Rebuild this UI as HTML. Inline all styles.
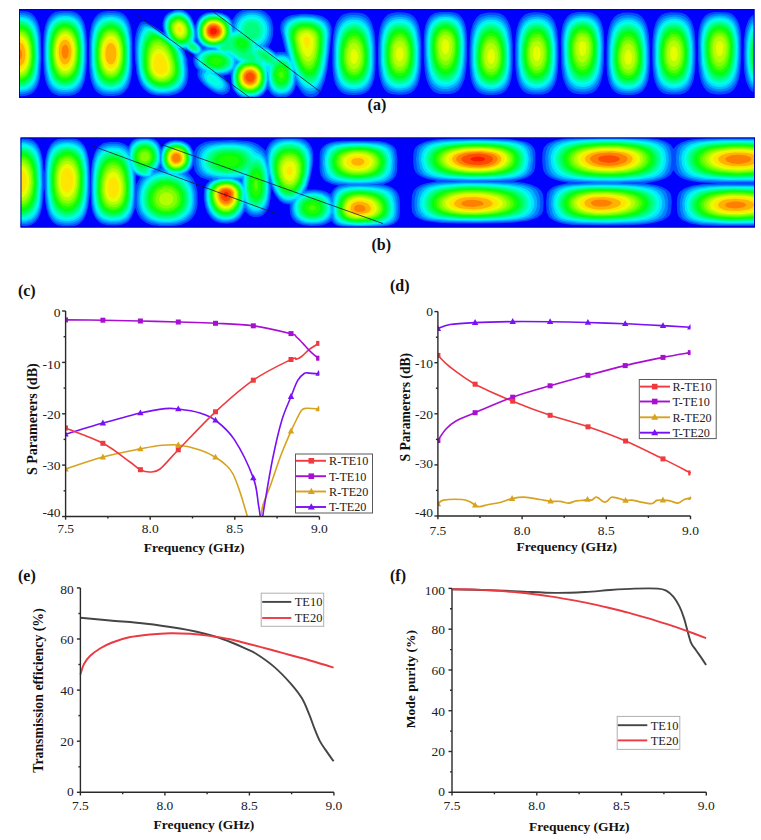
<!DOCTYPE html>
<html><head><meta charset="utf-8"><title>figure</title>
<style>html,body{margin:0;padding:0;background:#fff;width:761px;height:840px;overflow:hidden}svg{display:block}text{font-family:"Liberation Serif",serif}</style>
</head><body>
<svg width="761" height="840" viewBox="0 0 761 840"><defs><filter id="bl" x="-2%" y="-10%" width="104%" height="120%"><feGaussianBlur stdDeviation="0.7"/></filter></defs>
<clipPath id="ca"><rect x="19" y="9" width="735.5" height="89"/></clipPath><g clip-path="url(#ca)"><g filter="url(#bl)"><rect x="17" y="7" width="739.5" height="93" fill="#0000ff"/><path fill="rgb(0,77,255)" d="M175,9.9 181,9.5 184,10.4 187,12.2 189.8,15 191.8,18 195,25.7 197.5,20 199.5,17 203,14.1 207,12.5 215,11.9 222,12.9 228,15.8 232,20.2 236.4,14 239,11.9 243,10 247.5,9 256.5,9 262,10.4 265.1,12 268,14.4 270.1,17 272,21 273.2,28 272.9,36 271.1,42 268.3,47 275,52.3 276,52.4 280,51.8 285,52.1 285.4,51 280.9,33 280.2,28 280.5,25 281.4,22 285,17.9 288,16.2 292,14.9 303,13.8 315,14.4 320,15.5 324,17.1 327.8,20 330,23 331.4,27 331.7,32 327.5,69 325,80.3 321,90.5 318,94.5 315,96.4 312,97.1 308,96.8 305,95.4 302.2,93 297,85.4 296,84.7 294.8,89 292.4,93 290,95.2 286,96.9 280,97.4 275,96.5 271.1,94 268,89.4 267,89.4 263,94.7 258,97.5 256.3,98 243.7,98 240,96.7 237.4,95 233.3,90 231.6,86 230.6,75 230,74.3 222.7,76 226.6,80 229.3,84 230.3,88 229.3,91 227.5,93 225,94.3 222,94.7 218,93.9 214,92.2 209,89.1 203.9,85 200.3,81 198.4,78 197.4,75 197.7,70 195.1,67 193.5,63 193.3,59 194.2,55 187,50.2 184.5,51 187.1,59 188.3,70 188.3,77 186.8,84 183.8,89 181,91.6 178,93.4 174,94.8 169,95.7 157,95.6 152,94.5 148.5,93 144,89.6 140.5,85 138.3,80 136.5,73 135.1,60 134.6,47 135.1,38 137,29 140,23 142,21.8 145,21.6 152,25 163,32.5 163.7,32 162.6,27 162.5,23 164.3,17 166,14.8 169,12.3ZM196.7,41 197,42.2 197.4,42 197,40.9ZM20,10.9 27,11.6 31,13.1 34.4,16 37.4,21 39.4,27 40.8,35 41.4,59 40.2,77 38.5,84 36.1,89 33,92.7 30,94.6 25,95.9 19,96.2 19,10.9ZM60,10.9 71,11 75,12 78,13.7 81,16.7 83.4,21 85.1,26 86.2,32 87,44 86.9,62 86.2,73 84.7,81 82.5,87 79,91.9 75,94.6 70,95.8 59,95.7 55,94.6 52,92.7 49,89.2 46.8,85 45.2,80 43.9,72 43.2,59 43.3,42 43.8,33 45.4,25 47.7,19 51,14.7 55,12.1ZM108,10.9 114,11 119,11.7 123,13.5 125.8,16 128.4,20 130.3,25 131.6,31 132.3,38 132.5,66 131.8,75 130.3,82 127.9,88 124,92.8 120,95 114,96.1 108,96.1 103,95.4 99,93.8 96,91.3 93.7,88 91.6,83 90.3,78 89.3,70 88.9,56 89.2,40 89.9,32 91.6,24 94.4,18 98,13.9 102,11.9ZM440,11.9 452,12 456,13 459,14.6 462,17.7 463.9,21 465.4,25 466.5,31 467.1,42 466.9,60 466,71 464.5,79 462.3,85 459,89.9 455,92.7 450,94 440,93.9 436,92.8 433,91 430,87.6 427.7,83 425.8,77 424.8,71 423.8,58 423.7,42 424.3,31 425.4,25 427.9,19 431,15.3 435,12.9ZM578,11.9 589,12.2 593,13.2 596.1,15 599,18 601.2,22 602.5,26 603.7,33 604.2,45 603.9,63 603.1,72 601.5,80 599.1,86 596,90.3 592,93 586,94.3 580,94.3 575,93.6 572,92.5 568.7,90 566,86.2 563.8,81 562.5,76 561.4,68 560.8,41 561.4,32 562.7,25 564.8,20 568,15.7 572,13.2ZM715,11.9 726,12.2 730,13.1 733,14.8 736,17.9 738.3,22 739.6,26 740.7,32 741.3,43 741.1,60 740.2,72 738.9,79 736.2,86 733,90.4 729,93 724,94.2 718,94.4 713,93.8 710,92.9 706.9,91 704,87.7 701.6,83 699.8,77 698.8,71 698,59 697.9,43 698.4,33 699.6,26 701.9,20 705,15.8 709,13.2ZM348,12.9 353,12.4 359,12.7 363,13.6 366,15.1 369,18 371.4,22 374.4,32 375.4,43 375.7,58 375.4,70 374.2,79 372.3,85 369,90.3 365,93.3 360,94.7 354,95.1 348,94.7 344,93.7 341,92.1 338,89.1 335.7,85 334.3,81 333.1,75 332.3,64 332.4,47 333.1,36 334.5,28 336.6,22 339.9,17 343,14.5ZM392,13 397,12.3 404,12.4 409,13.4 412,14.9 415,17.8 417,21 418.7,25 420.1,31 421.2,42 421.4,58 420.8,71 419.6,79 417.6,85 414.5,90 411,92.8 406,94.4 400,94.8 394,94.5 390,93.5 387,91.9 384,88.9 381.8,85 379,75 378.1,64 378,49 378.5,37 379.6,29 381.5,23 384.3,18 388,14.5ZM485,12.9 490,12.4 496,12.7 500,13.6 503,15 506,17.9 508.5,22 510.4,27 511.6,33 512.6,44 512.8,59 512.4,71 511.3,79 509.4,85 506,90.4 502,93.4 497,94.7 491,95.1 485,94.7 481,93.7 478,92 475,89 472.8,85 471.4,81 470.2,75 469.4,64 469.5,48 470.2,36 471.3,29 473.2,23 476.1,18 480,14.5ZM529,13 534,12.3 541,12.4 546,13.4 549,14.8 552,17.6 554.2,21 556.1,26 557.3,31 558.3,42 558.5,58 557.9,71 556.7,79 554.7,85 551.5,90 548,92.8 543,94.4 532,94.6 528,93.8 525,92.5 522.1,90 519.9,87 517.8,82 516.5,77 515.4,67 515.1,53 515.4,39 516.5,30 518.5,23 521,18.4 525,14.5ZM623,12.8 629,12.5 634,12.9 638,14 641,15.9 643.8,19 646,23.2 647.6,28 648.9,35 649.7,46 649.9,62 649.5,72 648.3,80 646.2,86 643,90.7 639,93.5 634,94.8 628,95.1 622,94.7 618,93.8 615,92.1 612,89.1 609.7,85 608.3,81 607.2,75 606.5,64 606.6,47 607.2,37 608.8,28 610.9,22 614,17.2 618,14.2ZM666,13 671,12.3 678,12.4 683,13.3 686,14.7 689,17.5 691.3,21 693.2,26 694.4,31 695.4,42 695.6,58 695,71 693.8,79 691.8,85 688.6,90 685,92.9 680,94.4 669,94.6 665,93.8 662,92.4 659.2,90 657,86.9 654.9,82 653.6,77 652.5,67 652.2,53 652.5,39 653.6,30 655.6,23 658,18.5 662,14.6ZM753,14.9 754,14.3 754,92.8 751,90.5 749,88 745.9,81 744.2,72 743.6,58 743.9,40 745.5,28 748.5,20 750.7,17Z"/>
<path fill="rgb(0,128,255)" d="M175,11 179,10.5 183,11.2 187,13.6 190,16.9 192.3,21 195.8,30 195.9,36 195,41 200.2,46 202,49 203,49.5 206.6,48 202,45.7 198.6,42 196.3,37 196,32 196.4,26 197.5,22 199.9,18 203,15.2 207,13.4 211,12.7 217,12.8 222,13.9 226,15.7 229,18 231.2,21 233,24.8 234.8,20 236.8,17 240,14 243,12.4 247,11.2 252,10.7 257,11.2 261,12.4 265,14.8 268,18 270,22 271,26 271.2,32 270.5,37 268.6,42 265.6,46 276,54.1 281,53.4 287.1,54 282,30 282.8,24 286,19.7 292,16.7 302,15.2 313,15.6 318,16.7 322,18.2 326,20.9 328.3,24 329.8,28 330.2,33 328.2,55 326.6,67 324.1,78 321,86.3 318,90.8 315,93.2 312,94 308,93.7 305,92.3 302,89.6 299,85.5 296,80 294,87 292.6,90 290,93.1 286,95.2 279,95.7 274,94.1 270.7,91 268,85.2 264.1,92 260,95.5 254,97.5 246,97.5 242,96.4 239,94.8 236.8,93 234.5,90 232.2,84 231.6,79 231.6,73 231,72.3 227,73.8 219.9,75 226.4,82 227.8,85 228,88 227,90.1 224.6,92 222,92.6 218,92.2 214,90.6 210,88.2 205.9,85 202.2,81 199.7,76 199.5,74 200.1,70 197,66.9 195.2,63 195,59 196,55 186,49.1 182.6,50 185.5,58 186.8,69 186.8,76 185.2,83 182.2,88 177,91.9 169,94.1 158,94.2 154,93.5 150,91.9 145.7,89 142.3,85 139.8,80 137.8,73 136.4,61 136,49 136.5,40 138.1,32 139.6,28 141.4,25 144,24 146,23.9 152,26.1 165,34.4 163.4,25 164.6,19 166.4,16 168.5,14ZM20,13 25,13.4 30,15.1 33.7,18 36.3,22 38,26.7 39.5,35 40.2,45 40.4,58 39.2,75 38,81.1 36,86.2 33,90.1 30,92.2 25,93.8 19,94.2 19,13ZM60,13 66,12.6 71,13.1 75,14.3 78,16.1 81,19.5 83,23.6 85.3,35 86,46 85.9,61 85,72 83.6,80 81,86.5 78,90.1 74,92.5 69,93.7 64,93.9 59,93.4 55,92 52,90 50,87.7 48,84 46.1,78 45,71 44.3,60 44.3,45 44.9,35 46.2,27 48,21.7 51,17.2 55,14.4ZM109,13 115,13.2 119,14.1 123,16.1 125.9,19 128.1,23 129.7,28 131.5,43 131.3,67 130.5,75 128.9,82 126,88 123,91 119,93 113,94 107,93.9 103,93.1 99,91.2 96,88.5 93.9,85 92.1,80 90.9,73 90.2,65 90.3,40 91.3,31 93.1,24 95,20 99,15.8 104,13.7ZM440,13.9 446,13.5 451,13.9 455,15 458.7,17 461,19.4 463,23 464.5,28 465.4,34 465.9,44 465.6,60 464.6,70 463,78 461,83.1 458,87.2 454,89.9 448,91.4 443,91.4 439,90.7 435,88.9 432,86.4 429.8,83 428,78.6 425.7,66 424.9,41 425.5,33 426.8,26 428.7,21 431,18 435,15.3ZM579,13.9 584,13.8 589,14.4 593,15.7 596.4,18 598.8,21 600.6,25 601.8,30 602.7,37 603,48 602.6,62 601.6,72 600,79 597.9,84 594.7,88 590,90.7 585,91.7 580,91.7 575,90.7 571,88.5 568.4,86 566.6,83 564.7,78 562.5,64 562.1,40 562.9,32 564.4,25 566.9,20 569.8,17 574,14.9ZM716,13.9 721,13.8 726,14.3 730,15.6 733.5,18 735.9,21 737.7,25 738.9,30 739.8,37 740.1,48 739.7,62 738.7,72 737,79.3 735,84 731.8,88 727,90.7 722,91.7 717,91.7 712,90.6 708,88.5 705.5,86 703.7,83 701.8,78 699.6,64 699.2,40 700.1,31 701.5,25 704,19.9 706.9,17 711,14.9ZM352,15 358,15.2 362,16.2 366,18.4 368.5,21 370.7,25 372.3,30 373.5,37 374.3,46 374.1,69 373,77 371.3,83 369,87.2 366,90 362,91.9 356,92.9 350,92.7 346,91.9 342,90 339,87.2 337,83.8 335.4,79 333.7,66 334,42 335.1,33 336.9,26 339,21.7 342.5,18 347,15.8ZM395,14.9 401,14.6 406,15.2 410,16.7 413,18.9 415.4,22 417.2,26 419.6,38 420.2,49 420,63 419.1,73 417.7,80 415.6,85 412.2,89 408,91.3 403,92.4 398,92.5 393,91.8 389,90.2 386.1,88 384,85.3 382,81 379.9,70 379.2,59 379.3,46 380.1,36 381.6,28 383.4,23 386.3,19 390,16.4ZM489,15 495,15.2 499,16.1 503,18.3 505.6,21 507.8,25 509.4,30 510.6,37 511.4,46 511.2,69 510.1,77 508.4,83 506,87.3 503,90.1 499,91.9 493,92.9 487,92.7 483,91.9 479,89.9 476,87 474,83.6 472.5,79 470.8,66 470.6,53 471.2,41 472.3,32 474,25.9 476.6,21 479.6,18 484,15.9ZM532,14.9 538,14.5 543,15.1 547,16.6 550,18.7 552.6,22 554.4,26 556.6,37 557.3,48 557.2,62 556.4,72 554.7,80 552.6,85 549.2,89 545,91.3 540,92.4 535,92.5 530,91.7 526,90.1 523.3,88 521,85 519.2,81 516.9,69 516.3,58 516.4,45 517.3,35 518.6,28 520.5,23 523.3,19 527,16.4ZM669,14.9 675,14.5 680,15.1 684,16.5 687,18.6 689.7,22 691.5,26 693.7,37 694.4,48 694.3,62 693.5,72 691.8,80 689.7,85 686.3,89 682,91.3 677,92.4 672,92.5 667,91.7 663,90.1 660.4,88 658.1,85 656.3,81 654.1,70 653.4,59 653.5,46 654.2,36 655.7,28 657.6,23 660.4,19 664,16.4ZM622,15.7 627,15.1 632,15.3 636,16.2 640,18.4 642.5,21 644.8,25 646.4,30 647.5,36 648.5,47 648.7,62 648.1,72 646.7,80 644.8,85 642,88.8 638,91.4 633,92.8 627,93 622,92.5 618,91.2 615,89.3 612.9,87 611,83.7 608.6,74 607.8,64 607.8,51 608.4,40 609.7,31 611.6,25 614,20.8 617,18ZM754,17.3 754,89.9 750,86 747,78.9 745.3,68 744.8,54 745.3,39 746.9,29 749.6,22 751.9,19Z"/>
<path fill="rgb(0,179,255)" d="M175,12 179,11.5 183,12.3 187,14.8 189.7,18 192.3,23 194.5,30 194.9,36 194,41 199.4,46 202,51.2 208,49.4 215.1,49 207,47.3 203,45.4 199.6,42 197.6,38 196.7,32 197.4,25 199.5,20 203.4,16 208,14 213,13.4 219,13.9 224,15.6 227.6,18 230.1,21 231.9,25 233,30.5 234.5,30 235.2,25 237,20.4 239,17.7 242,15.2 246,13.5 250,12.7 255,12.8 259.5,14 263.1,16 266.1,19 268.2,23 269.3,28 269.2,33 268.1,38 266,42 262.5,46 269,49.7 276,55.3 283,54.9 288,56.5 288.8,56 288.7,55 283.5,31 284.1,26 286.3,22 288.6,20 292,18.3 301,16.6 312,16.9 317,17.9 321,19.5 324.6,22 326.9,25 328.4,29 328.8,34 327.3,53 325.7,65 323.2,76 320.2,84 317,88.6 314,90.7 311,91.3 307,90.6 304,88.7 301,85.4 295,75.1 293.7,84 290.9,90 288.9,92 286,93.6 280,94.3 275.2,93 272,90.4 269.5,86 268,79.5 265.6,88 263.7,91 261,93.7 258,95.4 254,96.6 246,96.6 242,95.4 239,93.7 236.3,91 234.4,88 233,84 232.4,80 233,69.1 230,71.3 227,72.6 217,74 224,81 225.6,84 226,86 225,88.8 223,90.3 220,90.8 217,90.2 213,88.5 209,85.9 205,82.1 202.8,79 201.7,75 202.9,71 198.2,66 196.5,62 196.6,58 197.8,55 197,54.2 192,52.4 186,48 180.6,49 184,57 185.6,71 184.6,80 181.6,86 179,88.7 176,90.6 169,92.7 159,93 155,92.3 151,90.8 146.8,88 143.3,84 140.7,79 139,73 137.7,63 137.2,51 137.7,42 139.3,34 142.5,27 144,26 147,25.8 150,26.5 154,28.2 166.4,36 164.4,27 164.5,23 165.2,20 166.9,17 168.8,15 172,13ZM235.7,61 235.6,64 236,64.3 238.1,62 237,61.1ZM20,14.9 25,15.4 29.1,17 32.8,20 35.4,24 37.4,30 38.6,37 39.4,57 38.2,74 36.8,80 34.7,85 32,88.4 29,90.4 24,92.1 19,92.4 19,14.9ZM60,14.8 65,14.4 70,14.8 74,16 78,18.7 80.5,22 82.3,26 84.4,37 85,48 84.9,61 84,71 82.4,79 80,84.6 77,88.3 73,90.7 68,91.9 63,92 59,91.3 55,89.6 52,87.1 49.8,84 48.1,80 45.8,68 45.2,58 45.2,45 45.9,36 47.3,28 49.1,23 52,18.9 56,16.1ZM108,14.9 113,14.9 118,15.9 121,17.3 124.2,20 126.7,24 128.5,29 130.4,43 130.3,66 129.4,74 127.6,81 125.1,86 122,89.2 118,91.2 113,92.2 108,92.1 104,91.3 100,89.4 97,86.7 94.8,83 93.1,78 91.2,65 91.2,42 92.3,33 93.7,27 96,21.9 99,18.4 103,16.1ZM439,15.9 444,15.2 449,15.4 453,16.3 457,18.3 459.8,21 461.6,24 463,28 464.2,34 464.8,43 464.5,57 463.6,67 462,75.1 460,80.4 457,84.7 453,87.5 448,88.9 443,88.9 439,88 436,86.5 433.2,84 431,80.8 429.4,77 427,66 426.2,56 426,44 426.4,36 427.5,29 429.2,24 431.8,20 435,17.5ZM578,15.9 583,15.6 588,16.1 592,17.5 595,19.5 597.2,22 599.2,26 600.6,31 601.5,37 601.9,47 601.5,60 600.6,69 599,76.3 597,81.3 594,85.3 590,88 585,89.3 580,89.3 576,88.4 573,86.9 570,84.2 567.9,81 566,76.3 563.8,64 563.2,42 563.9,34 565.2,28 567.2,23 570,19.5 574,17ZM715,15.9 720,15.6 725,16.1 729,17.4 732,19.4 734.3,22 736.3,26 737.7,31 738.6,37 739,47 738.6,60 737.7,69 736,76.7 734,81.5 731,85.4 727,88 722,89.3 717,89.3 713,88.3 710,86.8 707,84.1 705,81 703,76 700.9,64 700.3,42 701,34 702.3,28 704.3,23 707,19.6 711,17.1ZM396,16.9 401,16.7 406,17.5 410,19.4 412.8,22 415,25.4 416.7,30 418.7,42 419.1,53 418.8,64 417.8,73 416.2,79 414,83.7 411,87.1 407,89.3 402,90.4 397,90.4 393,89.5 389,87.5 386.3,85 384,81.1 382.5,77 380.7,65 380.6,44 381.4,36 383,29 385,24.2 388,20.5 392,18ZM533,16.9 538,16.6 543,17.4 547,19.3 550,21.9 552,25 553.9,30 555.8,42 556.2,53 555.9,64 554.8,73 553.3,79 551,83.8 548,87.1 544,89.3 539,90.3 534,90.3 530,89.4 526,87.4 523.5,85 521.6,82 519.7,77 517.8,65 517.7,44 518.5,36 520,29 522.2,24 525,20.5 529,18ZM670,16.9 675,16.6 680,17.4 684,19.2 687,21.8 689.1,25 691,30 692.9,42 693.3,53 693,64 692.1,72 690.4,79 688,83.9 685,87.2 681,89.3 676,90.4 671,90.3 667,89.4 663,87.3 660.6,85 658.7,82 656.8,77 654.9,65 654.8,44 655.6,36 657.1,29 659.3,24 662,20.6 666,18ZM348,18 353,17.2 358,17.5 362,18.8 365,20.6 367.2,23 369.5,27 371.2,32 372.3,38 373.2,48 373.4,61 372.6,71 371.3,78 369.3,83 366.3,87 363,89.2 358,90.7 353,91 349,90.5 345,89.2 342,87.3 339.9,85 338,81.6 335.5,72 334.7,63 334.7,51 335.3,41 336.6,33 338.5,27 340.8,23 344,19.9ZM486,17.7 491,17.2 496,17.7 500,19.2 503,21.5 505.7,25 507.4,29 509.8,41 510.4,51 510.4,63 509.6,72 508.1,79 506,83.8 503,87.4 499,89.7 494,90.9 489,90.9 485,90.3 481.7,89 478.8,87 476.3,84 474.8,81 473.3,76 472.3,70 471.7,61 471.8,49 472.6,39 474,31.7 476,26 478.7,22 482,19.3ZM623,18 628,17.4 633,17.9 637,19.4 640,21.6 642.6,25 644.4,29 646.8,41 647.5,51 647.5,63 646.8,72 645.3,79 643.2,84 640,87.7 636,89.9 631,91.1 626,91.1 622,90.5 618.3,89 615.6,87 613.2,84 611.8,81 610.3,76 609.4,70 608.8,61 609,49 609.7,40 611.1,32 612.8,27 615.2,23 619,19.6ZM754,20.2 754,87.1 750.5,83 747.9,76 746.3,66 745.9,54 746.3,42 747.8,32 750.2,25Z"/>
<path fill="rgb(0,230,255)" d="M175,12.9 179,12.4 183,13.3 186,15.1 189.5,19 192.3,25 193.8,31 194,36 193,41 199.3,47 200.2,49 200.2,51 199,52.7 196,53.2 191,51.1 186,47 178.3,48 182.3,55 184,66 184.1,75 183.4,79 182,82.5 178,87.4 172,90.6 164,91.9 156,91.2 151,89.3 146.6,86 143.5,82 140.9,76 139.4,69 138.4,56 138.6,46 139.9,38 141.5,33 143.6,29 145,27.6 147,27.3 151,28.1 155,29.8 168,38.3 168.4,38 165.3,28 165.5,22 166.7,19 169,16.1 172,14.1ZM208,14.8 212,14.2 218,14.5 222,15.6 226,17.7 228.4,20 230.3,23 231.6,27 232,31 233,32.2 236.2,31 237.3,25 238.5,22 240.7,19 244,16.5 248,15 252,14.6 256,15 260,16.5 263,18.7 265.5,22 267,26 267.4,31 266.6,36 265,39.6 263,42.3 259.4,45 258.8,46 268,50.1 276,56.6 282,56.3 285,56.8 288,58.3 291,61.2 285,33 285.2,28 287,23.9 289,21.8 292,20 296,18.6 301,17.8 307,17.7 313,18.3 317,19.4 321,21.2 324,23.7 326.1,27 327.3,31 327.6,35 326.2,53 324.5,65 322,75.4 318.7,83 316,86.5 313,88.3 309,88.6 306,87.5 303,85.1 300,81.2 294,69 293.3,81 292.2,85 290.7,88 288,90.9 285,92.4 282,92.9 278,92.5 274,90.4 271,86.3 269.3,81 268,71.3 267,72 266.9,80 265.9,85 264.1,89 262,91.6 258,94.4 254,95.7 249,96 244,95.2 240,93.3 237.4,91 235.4,88 233.8,84 233,77 233.7,71 236,66 239.8,62 239.2,61 234,57.8 233.6,65 232,67.9 230,69.7 224,72.2 213,73 218.6,77 222,80.6 223.7,84 223.2,87 221,88.5 219,88.7 216,88.2 212,86.3 207,82.1 204.4,78 204,76 204.3,74 206.6,71 202,68.1 200,66.2 198.7,64 197.9,61 198.1,58 198.9,56 200.4,54 203,52.1 209,50.2 217,50 216,47.7 209,47.1 203.8,45 200.5,42 198.1,37 197.5,29 199,22.5 201,19.2 203,17.2ZM20,16.7 25,17.4 29,19.2 32.2,22 34.6,26 36.3,31 37.6,38 38.5,57 37.2,73 35.7,79 34,83 31,86.8 28,88.9 24,90.3 19,90.7 19,16.7ZM59,16.8 64,16.1 69,16.3 73,17.5 76,19.3 78.6,22 80.8,26 82.4,31 83.4,37 84.1,47 84,59 83.2,69 81.6,77 79.6,82 76.7,86 73,88.6 68,90.1 63,90.1 59,89.3 56,88 53,85.5 51,82.8 49.3,79 46.9,68 46.1,58 46.1,47 46.7,38 47.8,31 49.4,26 52,21.5 55,18.7ZM107,16.9 112,16.6 116,17.2 120,18.9 123,21.3 125.5,25 127.1,29 128.5,35 129.4,42 129.5,63 128.6,72 127,78.5 125,83.1 122,86.8 118,89.2 113,90.4 108,90.3 104,89.4 101,87.8 98,85.1 96,82 94.1,77 92.2,65 92.1,44 92.9,36 94.5,29 96.7,24 99,20.9 103,18.1ZM443,17 448,17 452,17.8 456,19.8 458.4,22 460.3,25 462,29.4 463.7,41 463.7,52 463,62 461.7,70 460,75.9 457.3,81 454.2,84 450.2,86 446,86.7 442,86.4 438,84.9 435,82.7 432.2,79 430.5,75 428.9,69 427.2,54 427.4,37 428.4,31 430,26 432,22.5 435,19.7 439,17.7ZM577,18 582,17.3 587,17.7 591,19.1 593.9,21 596,23.4 598,27.1 600.3,37 600.8,46 600.6,58 599.6,67 598,74.2 596,79.1 593,83.2 589,85.9 585,87 581,87.1 577,86.2 574,84.8 571,82.1 568.9,79 567.3,75 565,64 564.2,45 564.7,37 565.8,31 567.5,26 570,22.1 573,19.6ZM714,18 719,17.3 724,17.7 728,19 731,21 733,23.3 735,27 737.4,37 737.9,46 737.7,58 736.7,67 735.2,74 733,79.3 730,83.3 726,85.9 722,87 718,87.1 714,86.2 711,84.7 708,82 706,78.9 704.4,75 702.1,64 701.3,45 701.8,37 702.9,31 704.6,26 707,22.3 710,19.7ZM397,18.9 402,18.8 406,19.7 409,21.3 412,24.1 414.3,28 416,32.9 417.8,46 417.6,65 416.6,72 414.9,78 412.9,82 410,85.2 406,87.5 401,88.5 397,88.4 393,87.3 390,85.7 387,82.7 384.9,79 383.2,74 381.5,61 381.8,43 382.7,36 384.3,30 386.1,26 389,22.4 392.8,20ZM533,19 538,18.6 542,19.3 545,20.5 548.2,23 551,26.9 552.6,31 554.7,43 555.2,53 554.8,63 553.9,71 552.3,77 550,81.9 547.2,85 544,87 539,88.3 535,88.4 531,87.6 527,85.5 524.4,83 522.5,80 520.9,76 518.8,64 518.7,45 519.6,37 521,31 523,26.2 525.4,23 529,20.3ZM670,19 675,18.6 679,19.3 682,20.5 685.3,23 688,26.7 689.7,31 691.8,43 692.3,53 691.9,63 691,71 689.4,77 687,82 684.3,85 681,87.1 676,88.3 672,88.4 668,87.5 664,85.4 661.5,83 659.6,80 658,75.9 655.9,64 655.8,45 656.7,37 658.1,31 660,26.4 662.5,23 666,20.4ZM350,19.8 355,19.4 359,20 362,21.3 365.4,24 368,27.9 369.6,32 371.9,45 372.2,64 371.3,72 369.7,78 367.3,83 364.4,86 360.9,88 356,89.1 352,89.1 348,88.3 344,86.3 341.5,84 339.5,81 337.9,77 336,66 336,47 336.8,39 338.4,32 340.5,27 343,23.6 346,21.3ZM487,19.8 492,19.4 496,20 500,21.8 502.5,24 505,27.7 506.7,32 509,45 509.3,64 508.4,72 506.8,78 505,82 502,85.6 498,88 493,89.1 489,89.1 485,88.3 481,86.3 478.6,84 476.6,81 475,77 473.1,66 473.1,47 473.9,39 475.5,32 477.6,27 480,23.7 483,21.3ZM625,19.8 630,19.6 634,20.5 637,22 640.2,25 642.1,28 644,33.1 646.2,47 646.3,66 645.4,73 643.8,79 641.7,83 639,86 635,88.3 630,89.3 626,89.3 622,88.5 618.8,87 616,84.7 613.5,81 612,77.1 610.1,66 610.2,47 611.1,39 612.7,32 614.9,27 617.1,24 621,21.1ZM754,23 754,84.3 750.9,80 748.6,73 747.3,64 746.9,54 747.4,43 748.7,34 751,27.3Z"/>
<path fill="rgb(0,255,229)" d="M175,13.8 179,13.3 183,14.3 186,16.2 189,19.7 191.5,25 193.1,31 193.1,36 192,41 192.4,42 197.6,46 198.9,48 199.3,50 198,52 195,52.2 190.5,50 187,46.3 186,45.9 181,46.7 176,45.4 175.5,46 180.8,54 182.1,61 183,73 182.5,77 181.1,81 177.4,86 172,89.1 164,90.6 156,89.9 151,87.8 147,84.6 144,80.4 141.7,75 140.3,68 139.5,56 139.8,47 141,39.6 144,31.9 146,29.2 148,28.8 152,29.6 157,31.9 171,41.4 171.2,41 168.5,36 166.6,31 166,24 167,20.5 169,17.4 172,15.1ZM211,14.9 216,14.9 220,15.7 223.3,17 226.3,19 228.1,21 230,24.4 231.5,33 232,33.8 238,32 238.6,31 239.2,26 240.4,23 242.8,20 246,17.9 250,16.8 254,16.8 258,17.9 261.2,20 263.6,23 264.8,26 265.3,30 264.9,34 263.9,37 262,40 259,42.6 255,44.6 254.6,47 255,47.6 260,47.8 266,50.1 270.7,53 276,58 284,58 287,59.4 289,61.2 290.8,64 291.9,67 292.8,75 292,82 290.9,85 289,88 286,90.4 282,91.5 277.9,91 274,88.5 271.7,85 270.2,80 269.8,74 270.3,67 269.6,66 267,64.9 266,65.5 265.3,68 266.3,76 265.9,82 264.2,87 262,90.4 258,93.5 253,95.1 246,94.9 241.1,93 238,90.4 235.8,87 234.1,82 233.7,77 234.2,72 235.7,68 238,64.8 241.5,62 241.5,61 229,52.8 225.8,53 231,57.2 232.4,60 232.5,63 230.9,67 227.1,70 221,71.6 214,71.5 208,70.1 202.6,67 200.3,64 199.4,61 200,57 202,54.3 205,52.4 209,51.3 220.1,51 217,46.8 209,46.4 204,44.3 200.7,41 198.5,36 198.2,28 199.1,24 200.6,21 202.2,19 205,16.8ZM62,17.9 67,17.7 71,18.5 75,20.6 77.4,23 79.3,26 81.2,31 83.1,44 83.3,54 82.8,64 81.6,72 80,77.7 77.8,82 75,85.2 71,87.5 66,88.5 62,88.2 58,87 55,85 52.4,82 50.3,78 48.8,73 47.1,60 47.2,42 48.1,35 49.6,29 51.4,25 54,21.7 58,19ZM20,18.4 25,19.2 28.5,21 31.7,24 34,28 35.6,33 36.9,40 37.6,57 36.3,72 35,77.2 33,81.7 30.5,85 27,87.4 23,88.7 19,89 19,18.4ZM106,18.9 110,18.3 115,18.8 119,20.4 122,22.8 124.3,26 126.1,30 128.4,42 128.9,52 128.7,62 127.8,70 126.1,77 124,81.7 121,85.3 117,87.7 113,88.7 109,88.7 105,87.8 102,86.4 99,83.7 97,80.7 95.5,77 93.3,66 92.8,47 93.5,39 94.9,32 96.7,27 99,23.4 102,20.7ZM302,19 312,19.4 319,21.8 322,23.9 323.8,26 325.4,29 326.1,32 326.3,37 325,54 322,71 319.9,77 317,82.3 314,85.2 311,86.1 307,85.5 304,83.4 301,79.9 297.6,74 294.6,67 291.7,58 286.4,35 286.5,29 287.6,26 289,24 294,20.7ZM441,18.9 445,18.5 449,18.8 453,20 456,22 458,24.2 460.1,28 461.6,33 462.5,39 462.7,48 462.2,58 461.2,66 459.4,73 457,77.9 454.4,81 451,83.2 447,84.3 443,84.2 440,83.3 437,81.5 434,78.2 432,74.5 430.5,70 428.6,58 428.2,41 430,30 431.6,26 434,22.7 437,20.5ZM577,19.8 581,19 586,19.3 590,20.6 593,22.6 595.1,25 597.2,29 599.4,39 599.8,47 599.5,58 598.5,66 596.8,73 594.5,78 592,81.2 588,83.8 584,84.8 580,84.7 577,83.8 574,82.1 571.1,79 567.9,72 565.8,61 565.2,44 566.8,32 568.7,27 570.7,24 573,21.8ZM714,19.8 718,19.1 723,19.3 727,20.5 730,22.5 732.2,25 734.3,29 736.5,39 736.9,47 736.6,58 735.6,66 733.9,73 732,77.4 729,81.3 725,83.9 721,84.8 717,84.7 714,83.8 711,82 708.2,79 705,72 702.9,61 702.3,44 703.9,32 705.8,27 707.8,24 711,21.2ZM397,20.9 401,20.7 405,21.5 408,23.1 411.1,26 413.5,30 415,34.4 416.8,47 416.6,64 415.5,71 414,76.2 412,80.2 409,83.5 405,85.7 401,86.5 397,86.4 394,85.6 391,84 388,81 386,77.6 384.4,73 382.6,61 382.8,44 383.8,37 385.1,32 387,27.9 390,24.1 393,22.1ZM533,21 538,20.6 542,21.4 545,22.9 548,25.6 550,28.6 551.8,33 553.8,45 554.1,54 553.7,63 552.8,70 551.1,76 549,80.2 546,83.5 542,85.7 538,86.4 534,86.3 531,85.4 528,83.8 525,80.8 523,77.2 521.5,73 519.8,62 519.8,45 520.7,38 522,32.5 523.9,28 526.1,25 529,22.6ZM671,20.8 675,20.6 679,21.4 682.3,23 685.4,26 687.8,30 689.1,34 691,47 690.7,64 689.7,71 688,76.5 686,80.3 683,83.6 679,85.7 675,86.4 671,86.2 667.1,85 664.1,83 662,80.6 660,77 658.4,72 656.7,60 657.1,43 658.2,36 659.6,31 661.6,27 664,24.2 667,22.1ZM350,22 354,21.5 358,22 362,23.8 364.5,26 367,29.7 368.7,34 370.9,46 371.1,64 370.2,71 368.6,77 366.6,81 363.9,84 360,86.3 356,87.3 352,87.3 348,86.3 345,84.7 342.1,82 340.3,79 338.8,75 337,65 337,48 337.9,40 339.3,34 341,29.7 343.5,26 346,23.8ZM487,22 491,21.5 495,21.9 499,23.7 501.6,26 504,29.5 505.8,34 508,46 508.2,64 507.3,71 505.7,77 503.7,81 501,84 497,86.4 493,87.3 486,86.6 483,85.3 480,82.9 477.9,80 476.2,76 474.1,65 474.1,48 475,40 476.4,34 478,29.9 480.6,26 484,23.2ZM626,21.9 630,21.8 634,22.9 637,24.7 640,28 642,32 643.8,38 645.4,52 645,68 643.9,74 642.1,79 640,82.5 637,85.2 633,87 629,87.6 625,87.4 621,86.1 618,84.1 616,81.9 614,78.4 612.5,74 611,62 611.5,45 614,33 616,28.7 619,25 622,23ZM754,25.8 754,81.5 751.3,77 749.5,71 748.3,63 748,54 748.4,44 749.6,36 751.5,30ZM208,74.4 210,74.1 212,74.6 217,77.6 220.6,82 221.1,84 220.7,85 219,86.1 216,86 210.5,83 208,80.2 206.9,78 206.8,76Z"/>
<path fill="rgb(0,255,178)" d="M175,14.8 179,14.2 183,15.3 186,17.3 188.9,21 191.1,26 192.4,32 192.3,36 191,42 195.6,45 197.4,47 198.2,49 197.3,51 195,51.3 192,50.2 189.4,48 187,44.9 181,45.7 177,44.6 173.4,42 170.3,38 167.1,30 166.7,26 167.1,23 168.2,20 169.7,18 172,16.1ZM209,16 214,15.5 219,16.1 223,17.7 226,19.8 228.5,23 229.7,26 231,35.6 232,35.7 236,34.1 240.6,33 241.2,28 242.1,25 244,22.3 247,20.1 250,19.2 254,19.2 257,20.1 259.7,22 261.4,24 262.6,27 263,30 262.7,33 261.6,36 260,38.4 258,40.1 253.9,42 253.1,43 253,49.6 254,50.7 255,50.8 258,49 263,50 270,53.7 276,59.7 283,59.3 286,60.4 288,62.1 289.9,65 291,67.9 291.8,75 290.8,82 288,87.1 285,89.3 282,90 278,89.5 275,87.5 272.6,84 271.1,79 270.8,73 271.6,66 266,62.7 262,61.2 261.4,62 261.6,64 264.8,71 265.6,77 264.6,84 262.1,89 258,92.6 252,94.4 245,93.8 239.8,91 237.2,88 235.4,84 234.5,79 234.6,74 235.6,70 237.2,67 239,64.9 244.3,61 231,52.1 224,51.3 221,50 219.9,49 218.7,46 211,46 206,44.6 202.4,42 199.8,38 199,35 198.6,31 199.9,24 203.2,19 206,17.1ZM60,20 64,19.3 68,19.5 72,20.7 75.3,23 77.7,26 79.6,30 81.9,41 82.5,50 82.2,60 81.3,68 79.6,75 77.3,80 74.9,83 71,85.6 67,86.6 63,86.6 60,85.9 57,84.4 54,81.6 50.6,75 48.4,64 47.8,47 48.5,39 49.6,33 51.4,28 53.9,24 57,21.4ZM20,20.1 24,20.7 28,22.7 31,25.7 32.9,29 34.7,34 35.9,40 36.8,56 35.6,70 34.1,76 32.3,80 30,83.2 27,85.5 23,87 19,87.4 19,20.1ZM106,20.7 110,20.1 114,20.3 118,21.8 121,24.1 123.2,27 125.1,31 126.5,36 127.6,43 127.8,61 126.9,69 125.5,75 123.3,80 121,83.1 117,85.8 113,86.9 109,87 106,86.4 103,85 100,82.4 97.7,79 96.1,75 94.1,65 93.7,48 94.4,40 95.6,34 97.3,29 99.8,25 103,22.1ZM298,20.8 303,20.1 308,20.2 316,21.9 319,23.4 322,26 323.9,29 324.8,32 325.2,37 324.4,50 321.7,67 320,72.9 317.7,78 315,81.6 312,83.3 309,83.5 306,82.4 303,79.8 300,75.6 294.7,64 290.2,48 287.6,35 288,29 289.5,26 291.3,24 294,22.2ZM440,21 444,20.1 448,20.3 452,21.4 455,23.3 457.4,26 459,29 461.3,38 461.7,45 461.4,55 460.4,63 458.8,70 456.6,75 454,78.5 451,80.7 447,82 444,82 441,81.3 438,79.5 435.5,77 432,70 429.8,59 429.1,44 430.5,33 432,28.5 434,25.2 437,22.4ZM580,20.9 584,20.8 588,21.6 591,23.2 593.8,26 595.6,29 597.1,33 598.7,44 598,61 596.8,68 595.2,73 593,77 590,80.2 587,81.9 583,82.6 579,82.2 576,80.9 573,78.3 571,75.4 568,67 566.4,54 566.6,40 567.4,35 568.9,30 571,26.2 573,24 576,22.1ZM717,20.9 721,20.8 725,21.6 728,23.2 730.9,26 732.7,29 734.2,33 735.8,44 735.1,61 734,67.5 732.3,73 730,77.2 727,80.3 724,81.9 720,82.6 716,82.2 713,80.8 710,78.2 708,75.2 705,66.6 703.5,54 703.7,40 706,30 708,26.4 710.1,24 713,22.1ZM397,22.9 401,22.7 405,23.7 408,25.5 410.4,28 412.2,31 414,36 415.8,48 415.6,63 414.4,70 412.9,75 410.7,79 408,81.9 405,83.6 401,84.6 397,84.4 394,83.5 391,81.6 388.7,79 386.9,76 385.2,71 383.6,60 383.8,45 386,33.9 387.7,30 390,26.8 393,24.4ZM534,22.8 538,22.6 542,23.5 545,25.2 547.6,28 551,35.3 552.9,47 552.6,63 551.7,69 550,74.8 548,78.6 545,81.8 542,83.5 538,84.5 534,84.2 531,83.3 528,81.3 525.9,79 524,75.7 522.4,71 520.7,60 520.9,45 521.9,38 523.3,33 525.3,29 527.7,26 531,23.8ZM671,22.8 675,22.6 679,23.5 682,25.2 684.7,28 687,32 688.3,36 690,47 689.7,63 688.6,70 687,75 685,78.7 682,81.9 679,83.6 675,84.5 671,84.2 668,83.2 665,81.2 663,79 661,75.5 659.5,71 657.8,60 658,45 659,38.1 660.4,33 662.4,29 664.8,26 668,23.8ZM351,23.9 355,23.6 359,24.5 362,26.3 364.5,29 366.8,33 368.1,37 370.1,50 369.9,65 369,71 367.4,76 365.3,80 362.3,83 359,84.7 355,85.5 351,85.3 348,84.3 345,82.4 342.7,80 339.5,73 337.9,62 338.2,47 340.5,35 342.2,31 345,27.2 348,25ZM488,23.9 492,23.6 496,24.5 499,26.2 501.6,29 503.9,33 505.2,37 507.2,50 507,65 506.1,71 504.5,76 502.4,80 499.4,83 496,84.8 492,85.5 488,85.2 485,84.3 482,82.4 479.8,80 476.6,73 475,62 475.3,47 477.6,35 479.3,31 482,27.3 485,25.1ZM627,23.9 631,24.2 634,25.2 637,27.4 639.7,31 641.5,35 643,40.5 644.4,54 643.8,68 642.8,73 641,77.9 639,81 636,83.7 633,85.1 629,85.8 625,85.5 622,84.6 619,82.7 616.6,80 615,77 613.3,72 612,61 612.7,45 615.2,34 617.3,30 620,26.9 623,25ZM754,28.8 754,78.6 752,74.7 750.3,69 749.3,62 749,54 749.3,46 750.3,39 751.9,33ZM148,30.2 151,30.4 155,31.8 165,37.9 173.3,45 176.7,49 179.3,53 181.7,67 181.8,72 181.3,76 180,80 178.2,83 175,86 172,87.6 168,88.9 164,89.4 159,89.2 155,88.3 151,86.3 148.2,84 145.7,81 143.6,77 142,72 141.1,66 140.6,56 140.9,48 141.9,42 143.4,37 145.5,33ZM211,52 216,51.9 221,52.6 224.9,54 228,55.9 229.9,58 231,61 230.7,64 229.8,66 226,69.1 223,70.2 219,70.7 211,69.9 204.6,67 201.4,63 200.9,61 201.3,58 202.4,56 204.7,54Z"/>
<path fill="rgb(0,255,127)" d="M175,15.7 179,15.1 183,16.2 186.5,19 189.2,23 191.2,29 191.6,34 190,40.4 189,42.7 188,43.3 182,44.7 177,43.6 173,40.4 169.6,35 167.7,29 167.9,23 169.2,20 170.9,18ZM208,17 212,16.2 218,16.6 222,18 226,20.9 228.1,24 229.2,27 229.7,31 229.3,37 230,38.5 232,38.1 237,35.2 244.4,35 244.2,28 245.7,25 248,23 251,22 254,22.2 256,23 258.3,25 260,29 259.8,32 259,34.3 256,37.6 251,38.9 250.4,40 251.4,45 250.9,51 255,57 255.5,59 255.3,61 260,64.7 262,67 263.6,70 264.7,74 264.8,79 263.8,84 261.8,88 258.9,91 256,92.6 253,93.5 249,93.7 245,93 239.9,90 237.5,87 236.2,84 235.3,80 235.1,76 235.7,72 236.9,69 239,66 241,64.3 248.6,61 247.7,60 240,56 232,50.4 230,49.8 225,50.2 222.1,49 221.3,47 222.1,46 225,44.5 225.4,44 225,43.7 216,45.4 210,45.2 205,43.3 201.7,40 200.2,37 199.4,34 199.3,30 199.9,26 201.1,23 203,20.2 205,18.5ZM63,21 67,20.9 70,21.6 73,23.1 76,26 78,29.3 79.7,34 80.9,40 81.5,47 81,63 80,69.3 78.3,75 76,79.3 73,82.5 70,84.1 66,85 62,84.7 59,83.6 56,81.4 53.3,78 51.5,74 50.1,69 48.7,57 49.1,42 50,36 51.5,31 53.5,27 56,24.1 59,22.1ZM20,21.8 24,22.6 27,24.1 30,26.9 32,30.2 33.8,35 35,41 35.9,56 34.6,70 33.2,75 31.3,79 29,82 26,84.2 23,85.3 19,85.7 19,21.8ZM109,21.8 113,21.9 116.6,23 119.6,25 122.2,28 124.2,32 125.6,37 127.1,50 126.4,66 125.2,72 123.4,77 121,80.7 118,83.4 115,84.8 111,85.4 107,84.9 104,83.6 101,81.2 99,78.5 95.9,70 94.5,57 95.1,42 96.2,36 97.9,31 100,27.2 102,25 105,23ZM299,21.9 308,21.4 312,22 316,23.3 318.8,25 321,27.1 322.8,30 323.7,33 324.1,37 323.3,50 320.7,66 318.8,72 316.3,77 314,79.5 311,80.9 308,80.8 305,79.2 300,72.9 295,61.4 290.8,46 288.9,36 289.3,30 290.7,27 292.5,25 295.8,23ZM443,21.9 447,21.8 450,22.4 453,23.9 455.4,26 457.5,29 459,32.8 460.5,42 459.9,58 459,64 457.2,70 455,74.2 452.5,77 449.2,79 446,79.7 443,79.4 440,78.2 437,75.7 435,72.9 432,64.7 430.3,52 430.5,39 432.8,30 434.6,27 437,24.5 440,22.7ZM579,22.9 582,22.4 586,22.9 589,24 592,26.4 594,29 595.8,33 597.6,43 597.1,59 596,65.5 594.3,71 592.2,75 590,77.5 587,79.4 583,80.4 580,80.1 577,78.9 574.5,77 572.2,74 569.1,66 567.5,55 567.4,43 569.2,33 571,29 573,26.4 576,24ZM716,22.9 719,22.4 723,22.8 726,24 729,26.3 731.1,29 732.9,33 734.6,42 734.4,57 733.4,64 732,69.4 730,73.9 727.6,77 725,79 721,80.3 718,80.3 715,79.4 712,77.4 710,75.1 706.8,68 704.8,57 704.5,43 706.3,33 708,29.2 710,26.5 713,24.1ZM397,25 401,24.8 404,25.5 407,27.1 409.7,30 413,37.2 414.7,48 414.5,62 413.6,68 412,73.3 410,77.1 407.3,80 404,81.9 401,82.6 397,82.4 394,81.3 391,79 389.3,77 386.3,70 384.7,60 384.8,46 387,35.3 389,31 391,28.4 394,26.1ZM534,24.9 538,24.6 541,25.3 544,26.9 546.2,29 548.2,32 550,36.6 551.9,48 551.6,62 550.6,68 549.1,73 547,77 545,79.4 542,81.4 538,82.5 535,82.4 532,81.6 529,79.7 526.6,77 523.5,70 521.7,59 521.9,46 524.1,35 526,31 528,28.3 531,26ZM671,24.9 675,24.6 678,25.2 681,26.8 684,29.9 687.2,37 689,48 688.7,62 687.7,68 686.2,73 684.1,77 682,79.4 679,81.4 675,82.5 672,82.4 669,81.5 666,79.6 663.7,77 660.6,70 658.8,59 659,46 661.2,35 663,31.1 665,28.4 668,26.1ZM352,25.9 356,25.9 359,26.9 362,29 364,31.3 366,35.1 367.5,40 369.1,52 368.8,65 367.9,70 366.3,75 364,78.9 361.9,81 359,82.7 355,83.7 351,83.4 348,82.3 345,80 343.3,78 340.3,71 338.9,61 339.3,47 341.7,36 343.6,32 346,29 349,26.9ZM489,25.9 493,25.9 496,26.8 499,28.9 501,31.2 503,35 504.6,40 506.2,52 505.9,65 505,70.1 503.4,75 501.8,78 499,81 496,82.8 492,83.7 488,83.4 485,82.2 482.1,80 480.4,78 477.4,71 476,61 476.4,47 478.8,36 480.7,32 483,29.1 486,26.9ZM624,26.9 627,26.1 631,26.4 634,27.7 637,30.2 639,33.1 640.7,37 642.9,48 643.3,63 642.5,69 641.1,74 639.2,78 637,80.7 634,82.8 630,83.9 624,83.4 621,82 618.7,80 615.3,74 613.3,65 613.2,51 615.1,39 616.9,34 618.8,31 621,28.7ZM150,31.6 156,33.3 165,38.8 172.2,45 177.7,52 180.4,66 180.6,71 180.2,75 178.9,79 177,82.1 174,84.9 170,87 166,87.9 161,88.1 154,86.5 151,84.8 148,82 145.9,79 144,75 142.5,69 141.8,62 141.7,54 142.3,47 143.3,42 145.2,37 148,33ZM754,32 754,75.5 752.2,71 751,66 750.1,54 751.1,41ZM190,43.7 193,44.3 195.4,46 196.6,48 196.7,49 196,50 193.8,50 190.6,48 189.2,45ZM259,50.9 262,51.1 268.2,54 271.7,57 275,62 280,60.8 283,60.9 286,62.2 288,64.3 290.3,70 290.6,77 289.1,83 286,87 283,88.3 280,88.4 277,87.2 274.7,85 273,81.8 272,77 272,72 273.3,66 273.2,64 267.6,62 259.8,57 258.2,55 257.6,53 258,51.7ZM212,52.9 217,53 221,53.7 224.3,55 227,56.8 228.7,59 229.4,61 229,64 227.8,66 224,68.6 218,69.7 211,68.8 205.5,66 203.7,64 202.8,62 203,58 206,54.8Z"/>
<path fill="rgb(0,255,76)" d="M175,16.6 179,16.1 183,17.2 186.3,20 189,24.4 190.6,30 190.7,35 189,40 188,41.4 186,42.7 181,43.6 177,42.5 173,39.1 170,34 168.4,28 168.8,23 171.2,19ZM211,17 217,17.1 222,18.8 225.9,22 228.2,26 229,32 227.6,38 225.5,41 221,43.5 214,44.9 208,44 203.3,41 200.9,37 200.1,34 199.9,30 201.3,24 203,21.3 205,19.4 208,17.7ZM62,22.8 66,22.5 69,23 72,24.4 75,27.1 77,30.1 78.8,35 80.6,46 80.3,61 79.2,68 77.8,73 75.8,77 73,80.3 70,82.2 66,83.2 62,82.9 59,81.6 56.8,80 54.4,77 51.2,69 49.7,58 49.8,44 52,33 53.8,29 56,26.2 59,23.9ZM301,22.9 309,22.7 316,24.9 318.9,27 320.6,29 322.6,34 322.9,38 322.2,50 320,64 318,70.1 316,74.1 314,76.6 311,78.3 308,78.2 305,76.5 302,73.2 299,68.1 294,54.5 290.4,38 290.3,32 291.9,28 295.1,25ZM20,23.6 24,24.4 26.8,26 29,28.1 31.4,32 33,36.3 34.2,42 35,56 33.9,68 32.6,73 30.9,77 28.8,80 26,82.3 23,83.6 19,84.1 19,23.6ZM108,23.8 112,23.5 115,24.2 118,25.8 121,28.9 123,32.5 124.5,37 126.1,48 125.8,63 124.8,69 123.3,74 121.2,78 119,80.6 116,82.5 112,83.6 108,83.4 105,82.2 102,80 100.4,78 98.3,74 97,70 95.5,60 95.7,45 98,34 99.9,30 102,27.2 105,24.9ZM442,23.9 446,23.4 449,23.9 452,25.3 454.1,27 456,29.4 457.7,33 459.4,42 459,56 458,62.2 456.3,68 454.2,72 452,74.6 449,76.5 446,77.2 443,76.9 440,75.6 436,71.1 433,63.1 431.5,53 431.4,42 433.1,33 434.5,30 436.7,27 439,25.1ZM579,24.7 582,24.2 586,24.7 588.9,26 591,27.7 593,30.3 594.7,34 596.5,43 596.2,57 593.8,68 592,72 589,75.6 586,77.4 583,78 580,77.7 577,76.3 573,71.9 570,64 568.6,54 568.5,43 570.3,34 572,30.3 574,27.7 576.1,26ZM716,24.7 719,24.2 723,24.7 726,26 728,27.6 730,30.2 731.8,34 733.6,43 733.3,57 730.9,68 729,72.1 726,75.7 723,77.4 720,78 717,77.7 714,76.3 710,71.8 707.1,64 705.7,54 705.6,43 707.4,34 709,30.5 711,27.8 713.3,26ZM398,26.9 401,26.9 404,27.7 407,29.6 409,32 411,35.7 412.4,40 413.8,51 413.1,64 410.5,73 408.7,76 406,78.6 403,80.1 400,80.6 397,80.3 394,79 390,75 387,67.6 385.6,57 386.1,45 388.3,36 390,32.5 392,30 395,27.9ZM534,27 537,26.6 540,27.1 543,28.6 545.5,31 547.4,34 549,38 550.7,48 550.6,61 548.4,71 546.3,75 544,77.7 541,79.6 538,80.4 535,80.3 532,79.3 529,77.2 527.3,75 524.3,68 522.8,59 522.9,47 525,36.8 526.7,33 528.9,30 531,28.3ZM672,26.8 675,26.7 678,27.4 681,29.3 683.4,32 685,35 686.6,40 688,51 687.4,63 685,72.1 683,75.6 680,78.6 677,80 674,80.5 671,80.1 668,78.7 664,74.4 661,66.5 659.8,56 660.4,44 662.8,35 665,31.2 667,29.1 669,27.8ZM354,28 357,28.4 360,29.9 363,33 364.7,36 367.2,45 368.2,57 367.3,67 364.6,75 362.5,78 360,80.1 357,81.4 354,81.8 351,81.4 348,80.1 345.5,78 343.4,75 340.7,67 339.8,57 340.8,45 343.3,36 345,33 348,29.9 351,28.4ZM491,28 494,28.4 497,29.9 500,32.9 501.8,36 504.3,45 505.3,57 504.4,67 501.7,75 499.6,78 497,80.2 494,81.4 491,81.8 488,81.4 485,80.1 482.6,78 480.5,75 477.8,67 476.9,57 477.9,45 480.4,36 482.1,33 485,30 488,28.4ZM625,28.9 628,28.4 631.7,29 634,30.2 636.8,33 640.2,40 642.1,51 642.1,64 640,73.1 638,76.9 636,79.2 633,81.2 629,82.2 626,82 623,81 620.2,79 618.5,77 615.7,71 614.2,62 614.5,49 616.6,39 620,32.5 622,30.5ZM152,32.9 159,35.8 166,40.4 173.1,47 175.5,50 176.4,52 179.2,66 179.4,71 178.8,75 177.3,79 175.2,82 172.8,84 169,85.8 165,86.7 161,86.9 157,86.3 153.8,85 150.8,83 148,80.1 146,76.9 144.5,73 143.4,68 142.8,60 143.6,47 145,41.7 147,37.4 149.9,34ZM754,35.7 754,71.9 751.9,64 751.1,54 751.8,44ZM237,36.9 240,36.4 244,37.3 247,39.2 249.1,42 249.8,45 249.4,47 247,51.2 245,53 242,52.8 239,51.4 235.7,49 233.2,46 232.5,44 233.1,41 235,38.2ZM213,54 220,54.6 225,57 226.8,59 227.6,61 227.4,63 226.5,65 223,67.5 218,68.5 212,67.8 207,65.3 204.6,62 204.4,60 205,58 208,55.3ZM263,53.9 267.3,56 269.1,58 269.3,59 267,59.2 263.2,57 261.9,55ZM246,62.8 252,62.3 257,63.8 261,67.1 263.5,72 264.1,79 262.7,85 259,89.9 254,92.5 248,92.8 243,91.3 239.1,88 236.6,83 235.8,76 237.2,70 239,67.1 241,65.2ZM279,62.8 283,62.6 286,64.3 288,67 289.4,72 289.5,77 288,82.2 285,85.7 282,86.8 279,86.4 276,84.3 274.1,81 273.1,77 273.2,72 274.2,68 276,64.7Z"/>
<path fill="rgb(0,255,25)" d="M178,17 182,17.8 185.2,20 188,24 189.6,29 189.9,34 188.8,38 186.5,41 183,42.4 179,42.2 175,39.9 171.8,36 169.5,30 169.3,25 170.8,21 174,18.1ZM210,17.8 216,17.7 220.7,19 224.9,22 227,25.2 228.2,30 227.5,36 225,40 221,42.7 215,44.2 209,43.7 204.3,41 201.6,37 200.5,31 201.6,25 203,22.5 205,20.3ZM303,23.9 310,24.2 316,26.5 318,28.1 320,30.8 321.6,36 321,51 318.6,64 317,68.5 315,72.2 313,74.4 310,75.6 307,75.1 305,73.8 302,70.3 299.5,66 295,54 291.6,38 291.8,32 293.9,28 298,25.2ZM61,24.8 64,24.1 68,24.4 71,25.6 74,28.1 76,31 77.7,35 79.6,45 79.5,60 78.6,66 77,71.6 75,75.6 72,79 69,80.8 66,81.4 63,81.3 60,80.2 58,78.9 55.5,76 52.4,69 50.7,59 50.5,46 52.2,36 54,31.4 56,28.4 58,26.4ZM20,25.4 23,25.9 26,27.5 29,30.6 30.9,34 33.3,43 34.1,56 33,67.4 31.7,72 30,75.9 28,78.6 25,81 22,82.1 19,82.4 19,25.4ZM107,25.9 110,25.3 114,25.7 117,27.1 119.1,29 121.3,32 123,36 125.1,47 125,61 124.1,67 122.7,72 120.8,76 118.3,79 115,81.1 112,81.8 109,81.8 106,80.8 103.3,79 101.5,77 98.2,70 96.6,61 96.4,48 98.3,37 100,32.6 102,29.5 104,27.6ZM442,25.7 445,25.2 448,25.5 451,26.7 453,28.2 455,30.7 456.6,34 458.3,42 458,54 455.7,65 454,68.8 452,71.6 449,73.9 446,74.7 443,74.3 441,73.4 437,69.1 434.2,62 432.6,52 432.5,42 434,34.5 437.1,29 439.3,27ZM579,26.7 582,26.1 585,26.4 588,27.6 590,29.2 592,31.7 593.6,35 595.4,44 595,56.5 594,62.3 592.5,67 591,70.1 588.7,73 586,74.8 583,75.6 580,75.2 578,74.3 574,70.1 571.2,63 569.7,54 569.6,44 571.1,36 574.2,30 576.4,28ZM716,26.7 719,26.1 722,26.4 725,27.6 727,29.1 729,31.5 730.7,35 732.5,44 732,57 729.6,67 728,70.2 725.8,73 723,74.9 720,75.6 717,75.2 715,74.2 711,69.9 708.3,63 706.8,54 706.7,44 708.2,36 711.3,30 713.5,28ZM399,29 402,29.3 405,30.6 407,32.4 409,35.2 411.7,43 412.7,53 411.9,64 409.2,72 407.1,75 405,76.9 403,77.9 400,78.5 397,78.1 394.6,77 392,74.7 390.2,72 387.8,65 386.7,55 387.5,44 390,36 392,32.8 394,30.9 396,29.7ZM535,29 538,28.9 541,29.8 543,31.1 545.5,34 548.4,41 549.8,51 549.2,62 546.7,71 543,76 540,77.7 537,78.3 534,77.9 532,77 528,73 525.2,66 523.8,56 524.3,46 526.5,37 530,31.6 532,30.1ZM672,29 675,28.9 678,29.7 681,31.9 682.6,34 685.5,41 686.9,51 686.3,62 684,70.6 682,74 680,76.1 677,77.8 674,78.3 671,77.8 669,76.9 665,72.9 662.3,66 660.9,56 661.5,45 663.6,37 667,31.7 669,30.2ZM351,30.8 354,30.3 357,30.8 360,32.6 362,34.8 365,41.2 366.8,51 366.8,62 364.8,71 363,74.6 361,77 358,79 355,79.8 350,79 347,77 345.3,75 342.5,69 341.1,61 341.3,50 343,41 346,34.8 348,32.6ZM488,30.9 491,30.3 494,30.8 497,32.5 499,34.7 502.1,41 503.9,51 503.9,62 501.9,71 500,74.8 498,77.1 495,79 492,79.8 487,78.9 484.1,77 482.4,75 479.6,69 478.2,61 478.4,50 480.2,41 483,34.9 485,32.7ZM627,30.8 630,30.9 632.7,32 635,33.9 637,36.6 640,45 641.2,55 640.7,65 638.4,73 637,75.5 634.6,78 632,79.5 629,80.2 626,80 623.3,79 621,77.3 619.1,75 616.5,69 615.2,60 615.9,48 618,39.5 620,35.6 622,33.3 624,31.8ZM153,34.7 155,34.8 159,36.7 168,43 173.8,49 175.8,55 178.1,68 177.4,75 176,78.4 174,81.1 171,83.4 167,85 163,85.6 159,85.4 153,83.1 150.4,81 148,78 145.3,72 144.4,67 143.9,59 145,47.2 146.2,43 148,39.3 150,36.8ZM238,38.7 240,38.2 242,38.4 244,39.2 246.2,41 247.4,43 247.6,45 246,47.9 244,48.8 242,48.8 239.8,48 237.2,46 236,44 235.8,42 236.5,40ZM754,40.1 754,67.6 752.7,61 752.3,54 752.8,46ZM211,55.8 217,55.4 222.2,57 225.1,60 225.4,62 224.7,64 222,66.1 218,67.1 213,66.6 209.3,65 207.3,63 206.6,60 208,57.4ZM245,63.9 251,63.1 256,64.3 259.9,67 262.4,71 263.5,77 262.3,84 259,88.8 255,91.3 250,92.2 244.3,91 240.2,88 237.7,84 236.5,77 237.6,71 240.1,67ZM279,64.9 282,64.4 285,65.8 287,68.5 288.1,72 288.1,77 287,80.7 285,83.4 282,84.8 279,84.3 277,82.8 275.3,80 274.5,77 274.4,73 275,70 276.5,67Z"/>
<path fill="rgb(26,255,0)" d="M178,18 182,18.8 184.9,21 187.1,24 188.8,29 189,33 188,37.2 186,39.9 183,41.3 179,41.1 175.4,39 172.2,35 170.3,30 170,26 171.3,22 174,19.3ZM209,18.8 214,18.2 219,19.1 223,21.3 226.1,25 227.4,30 227,35 224.8,39 221,41.9 216,43.4 210,43.2 206,41.5 202.8,38 201.6,35 201.1,32 202,26 205,21.2ZM63,26 66,25.8 69,26.5 72,28.3 74,30.4 76,33.9 77.4,38 78.9,48 78.4,61 76,70.7 74,74.5 72,76.8 69,78.8 66,79.6 63,79.4 60,78.2 55.9,74 53,67 51.4,56 51.7,44 53.8,35 55.2,32 57.5,29 60,27.1ZM300,26 307,25.2 313,26.6 317.7,30 320.1,35 320.4,39 320.1,48 318,60.8 314.7,69 312,71.9 310,72.7 307,72.3 305,70.9 301,65.7 297,56.3 294.3,46 292.8,38 293.1,33 295.2,29 297,27.4ZM20,27.2 23,27.8 26,29.6 28,31.7 30,35.2 32.5,44 33.2,56 32,67 29,74.9 25,79 22,80.3 19,80.6 19,27.2ZM107,27.8 110,27.1 113,27.3 116,28.6 118.8,31 122.1,37 124.1,47 124.1,60 122,70.5 120,74.6 118,77.1 115,79.2 112,80 109,79.9 106.3,79 104,77.4 102,75.2 99,68.6 97.5,60 97.3,49 99,38.7 102,32 104,29.8ZM442,27.7 447,27.2 450,28.3 452,29.7 454,32.1 455.4,35 457,42 456.8,53 454.7,63 453,66.7 451,69.4 449,71 446,71.9 442,71.1 440,69.6 438,67.1 435.5,61 433.9,52 433.7,43 435,36 438,30.5ZM579,28.8 584,28.2 587,29.3 589,30.7 592.4,36 594.1,44 593.9,55 591.9,64 590,68 588,70.6 586,72.1 583,72.9 579,72.1 577,70.6 575,68.1 572.5,62 571,53.9 570.8,45 572,37.8 574.9,32ZM716,28.8 721,28.2 724,29.2 726.4,31 729.5,36 731.2,44 731,54.8 729,64.1 727.1,68 725,70.7 723,72.1 720,72.9 716,72 714,70.5 712,67.9 709.3,61 708,53 708,44 709.4,37 712,31.9ZM397,31.8 399,31.4 402,31.7 405,33.3 407,35.4 410,41.9 411.3,50 411.1,60 409,68.7 407.1,72 405,74.3 403,75.5 400,76.2 396,75.3 392,71.6 389.2,65 388,57.2 388.2,48 390,40 393,34.6ZM534,31.6 536,31.2 539,31.4 542,33 544,35 547,41.3 548.5,50 548.2,60 546,68.6 544.1,72 542,74.1 540,75.3 537,76 532.9,75 529,71.2 526.4,65 525.1,57 525.3,48 527,40 530,34.5ZM671,31.7 673,31.2 676,31.4 679,32.9 681,34.9 684,40.9 685.5,49 685.4,59 683.4,68 680,73.3 678,74.9 675,75.9 672,75.8 670,75 666,71.1 663.7,66 662.3,58 662.3,49 664,40.3 667,34.6ZM353,32.9 356,33.1 358,33.9 360,35.6 362,38.3 364.7,46 365.8,56 365.1,65 363,71.3 361,74.3 359,76.1 357,77.1 354,77.7 351,77.1 349,76.1 345.4,72 343.2,66 342.2,58 342.9,48 345,40.3 348.6,35 351,33.4ZM490,32.9 493,33 495,33.9 497,35.5 499,38.1 501.8,46 502.9,56 502.2,65 500,71.5 498,74.4 496,76.2 494,77.2 491,77.7 488,77.1 486,76 482.5,72 480.3,66 479.3,58 480,48 482,40.5 483.9,37 485.7,35 488,33.5ZM626,33.6 629,33.3 631,33.9 634,35.9 635.7,38 638.5,45 639.9,54 639.7,63 637.6,71 636,73.9 634,76 632,77.3 629,78.1 626,77.9 624,77.1 620.5,74 618,69 616.5,61 616.8,51 618.8,42 622,36.3ZM154,36.9 156,36.5 159,37.6 164,40.7 169,44.8 171.7,48 174.7,56 176.7,67 176.2,74 175,77.1 172.9,80 170,82.2 167,83.5 160,84.1 154,82.1 151.3,80 149,77.3 146.3,71 145.1,60 146.1,49 147.2,45 149,41.3 151,38.8ZM241,42.2 243,42.9 243,44.1 242,44.4 240.9,44 240.5,43ZM754,46.7 754,61.1 753.5,54ZM215,57 219,57.7 221.3,59 222.2,60 222.5,62 221.1,64 218.9,65 216,65.2 213,64.6 210.5,63 209.4,61 210,59 212,57.6ZM248,64 253,64.2 258,66.4 261.1,70 262.7,75 262.4,81 260.3,86 257,89.4 252,91.2 247,91.1 242.5,89 239.1,85 237.4,80 237.5,74 239.5,69 243,65.7ZM281,66.8 283,67.2 285,68.9 286.3,72 286.6,75 286.1,78 285,80.3 283,82 281,82.4 279,81.7 277.5,80 276,75 277,69.9 279,67.5Z"/>
<path fill="rgb(77,255,0)" d="M212,18.9 217,19.3 221.2,21 224.5,24 226.3,28 226.6,33 225,37.4 222,40.4 217,42.5 212,42.9 207,41.3 203.6,38 202,34 202.1,28 204,23.5 207,20.6ZM175,19.9 178,19.1 182,20 184.6,22 186.6,25 188,30 187.9,34 186.1,38 184,39.6 181,40.2 177.1,39 174,36.1 172.2,33 171,29 171.2,25 172.6,22ZM303,26.8 309,26.9 314,28.9 317.2,32 319,37 318.8,48 317,58.7 314,66.2 312,68.5 310,69.5 307,69.2 305,67.8 301,62.3 297,51.9 294.3,39 294.3,35 295.8,31 299,28.2ZM63,27.8 66,27.6 69,28.4 71,29.6 73.3,32 75.1,35 76.5,39 77.9,48 77.5,60 75.3,69 73.8,72 71.5,75 69,76.8 66,77.6 63,77.4 61,76.7 58.7,75 56.4,72 53.7,65 52.4,56 52.6,45 54.7,36 58,30.7 60,29ZM20,29.1 23,29.9 25,31 27,33 29,36.2 31.6,45 32.2,56 31.1,66 28.4,73 26.1,76 24,77.6 22,78.4 19,78.8 19,29.1ZM107,29.9 110,29.1 113,29.3 116,30.7 118,32.5 121.1,38 123.1,47 123.2,59 121.2,69 119.2,73 117,75.7 115,77.1 112,78.1 109,78 107,77.3 103,73.9 100.1,68 98.5,60 98.3,49 99.9,40 103,33.3ZM442,29.9 444,29.3 447,29.4 451,31.4 454,35.7 455.6,42 455.5,52 453.5,61 452,64.3 450,66.9 448,68.3 446,68.9 444,68.8 442,67.9 439,64.7 436.6,59 435.3,52 435,44 436,37.8 438.3,33ZM580,30.7 582,30.3 585,30.7 589,33.6 591.4,38 592.9,45 592.4,55 590.4,63 587,68.2 585,69.5 583,70 581,69.9 579,69 576,65.8 573.6,60 572.2,52 572.2,44 573.6,38 576,33.6ZM717,30.8 719,30.3 722,30.7 726,33.5 728.5,38 730,45 729.5,55 727.5,63 726,65.9 724,68.3 722,69.6 720,70 718,69.8 716,68.9 713,65.6 710.7,60 709.3,52 709.3,44 710.7,38 713,33.7ZM399,33.9 401,34 403.4,35 407,39 409.2,45 410.1,53 409.6,61 407.4,68 404,72.2 400,73.6 396,72.6 392.6,69 390.2,63 389.3,55 390,46 391.9,40 395,35.7ZM535,33.9 539,34 541,35.1 543,37.1 545.9,43 547.2,51 546.8,60 544.8,67 543,70.1 541,72 537,73.4 533,72.3 529.9,69 527.4,63 526.4,56 526.7,48 528.4,41 531,36.6 533,34.8ZM672,34 676,34 678,35 680.1,37 683,43 684.3,51 684,59.2 682,66.8 679,71.3 677,72.7 674,73.4 670,72.2 666.9,69 664.5,63 663.5,56 663.8,48 665.5,41 668,36.7 670,34.9ZM352,35.9 356,35.9 358,36.9 360.1,39 363,45.3 364.4,54 364,62.8 362,69.4 360,72.4 358.2,74 354,75.3 350,74.1 346.9,71 344.7,66 343.6,59 344,50.2 345.8,43 348.8,38ZM489,35.9 493,35.9 495,36.9 497.1,39 500,45 501.4,53 501.3,61 499.7,68 496.5,73 494,74.7 492,75.3 488,74.6 486,73.3 484,71 482,66.6 480.8,60 481,51 482.5,44 485,39 487,37ZM625,37 627,36.2 630,36.4 632,37.4 634,39.3 636.9,45 638.4,53 638.4,62 636.7,69 635.1,72 633.2,74 629,75.8 625,75.1 622,72.8 619.3,68 618,62 617.9,54 619.2,46 621.9,40ZM157,39 160,39.4 163,40.9 168,45.3 172.1,53 174.8,63 175.4,70 173.8,76 172,78.6 170,80.4 167,81.9 164,82.6 158,82.3 153,79.7 149.1,75 147,68.8 146.5,57 148,48 149.7,44 152,41 154,39.7ZM247,65 252,64.8 257,66.6 260,69.7 261.8,74 261.8,80 260,85 257,88.3 253,90.2 248,90.4 244,89 240.7,86 238.4,81 238,76 239.2,71 242.5,67ZM280,71.7 282,71.2 283.4,73 283.4,76 282,78 280,77.5 279.1,76 279,73.7Z"/>
<path fill="rgb(128,255,0)" d="M211,19.8 216,19.8 220,21.2 223,23.5 225.2,27 225.9,32 224.8,36 222,39.4 218,41.5 213,42.2 209,41.5 205.3,39 203,35 202.5,30 203.9,25 207,21.5ZM176,20.8 179,20.3 182,21.2 184.1,23 186,26.1 187,30 186.7,34 185.2,37 183,38.5 180,38.8 177,37.5 174.5,35 172.8,32 171.9,28 172.3,25 174,22.2ZM302,28.8 307,28.3 312,29.7 315.8,33 317.4,37 317.4,47 315.7,57 313,63.3 311,65.4 309,66.1 307,65.8 305,64.4 302,60.3 299,53.4 296.6,44 295.7,38 296.3,34 298.2,31ZM63,29.7 66,29.5 68,29.9 72.2,33 75.3,39 76.9,48 76.6,58 74.6,67 73,70.5 71,73 69,74.6 66,75.6 63,75.3 61,74.4 57.6,71 54.9,65 53.4,56 53.5,46 55.3,38 58,33 60.2,31ZM20,31.2 23,32 25,33.4 28.3,38 30.6,46 31.2,56 30.1,65 27.9,71 26,73.7 24,75.4 22,76.4 19,76.8 19,31.2ZM108,31.6 110,31.1 113,31.4 116,33 117.8,35 119.6,38 121,42 122.3,50 122,60 120,68.3 118,72 116,74.2 114,75.4 111,76.1 106.8,75 103,71.1 100.5,65 99.3,57 99.5,48 101,40.6 104,34.7ZM444,31.8 448,32.1 451,34.4 453,38 454.3,44 453.9,52 452.2,59 449,64 446,65.4 443,64.8 440,61.8 438,57 436.6,49 436.6,43 438,37.4 440.2,34ZM582,32.9 586,33.9 588.9,37 590.8,42 591.4,47 590.9,54 589,61 586,65.3 583,66.7 581,66.5 579,65.3 576.5,62 574.4,56 573.6,49 574,42.8 576,37.1 578.8,34ZM719,32.9 723,33.8 726,37 727.9,42 728.5,47 728,54.3 726.1,61 723.5,65 720,66.7 718,66.4 716,65.3 713.6,62 711.5,56 710.7,49 711.1,43 713,37.3 715.9,34ZM399,36.9 401,37 403,37.9 405.7,41 407.9,47 408.6,53 408,60.4 406.1,66 403,69.7 400,70.7 397,70.1 393.9,67 391.8,62 390.8,55 391.3,48 393,42.3 396,38.3ZM535,36.9 537,36.6 539,37.1 542,39.5 544.3,44 545.6,51 545.3,59 543.6,65 541,68.7 539,70 537,70.5 534,69.7 531,66.8 529,62.2 528,56 528.2,49 529.7,43 532,39ZM672,37 674,36.6 676,37 679,39.4 681.4,44 682.7,51 682.5,58 681,64.2 678,68.8 676,70.1 674,70.5 671,69.7 668,66.6 666,61.8 665.1,56 665.3,49 666.8,43 669,39.1ZM353,38.8 355,38.8 357,39.7 360,43.1 362,48.5 362.9,56 362.3,63 360.5,68 358,71.1 356,72.3 354,72.6 351,71.8 348,68.9 346,64.2 345.1,58 345.5,51 347.1,45 350,40.5ZM490,38.9 492,38.8 494,39.6 497,42.9 499,48.1 500,56 499.4,63 497.6,68 495,71.2 493,72.3 491,72.6 488,71.7 485,68.7 483,64 482.2,58 482.6,51 484.2,45 487,40.6ZM626,39.9 628,39.4 630,39.7 633,42 635.5,47 636.9,54 637,61 635.5,67 633,71.1 631,72.5 629,73.2 626,72.8 623,70.6 620.9,67 619.5,61 619.5,54 620.9,47 623,42.5ZM156,41.9 158,41.8 161,42.5 166,46.1 170,52.4 173,61.9 173.8,69 173.5,72 172.4,75 169,79 164,81 159,81 154,78.6 150.2,74 148.4,69 147.8,59 149,50.8 152,44.6 154,42.8ZM247,65.8 252,65.6 256,67 259.2,70 261,74 261.2,79 259.6,84 257,87.2 253,89.3 248,89.5 244.1,88 241,85 239.2,81 238.7,76 240,71.3 243,67.7Z"/>
<path fill="rgb(179,255,0)" d="M210,20.9 214,20.4 218,21.2 221.2,23 224,26.4 225,30 224.7,34 223,37.3 219.7,40 215,41.4 210,41 206.4,39 204.2,36 203.2,32 203.9,27 206.4,23ZM177,21.9 180,21.8 182,22.8 184,24.8 185.1,27 185.8,30 185.6,33 184,36 182,37.2 179,37 177,35.9 175,33.7 173.7,31 173.1,28 173.7,25 175,23.1ZM302,30.9 306,30.1 310.3,31 314,33.8 315.5,37 315.8,45 314.5,54 312,59.8 309,62 306,61.2 303,57.7 300.8,53 298.7,46 297.5,39 297.8,36 299.2,33ZM63,31.8 66,31.5 68,32 71.6,35 74.2,40 75.7,48 75.6,57 73.9,65 72,69 70.4,71 68,72.7 66,73.3 62,72.6 60,71.2 58,68.7 55.7,63 54.4,55 54.5,47 56,39.9 59,34.5ZM20,33.4 24,35.1 26,37.2 27.5,40 29.5,47 30.1,56 29.1,64 27,69.5 25,72.2 23,73.7 19,74.7 19,33.4ZM108,33.9 110,33.4 113,33.7 115,34.8 117,36.8 119.9,43 121.1,50 120.9,59 119,66.9 115.5,72 113,73.5 111,73.9 107,72.7 104,69.6 101.6,64 100.5,57 100.6,49 102,42 104.5,37ZM444,34.8 447,34.9 449.9,37 451.5,40 452.3,44 452.1,50 451,55.1 449,59.1 446,61.1 443,60.3 441,57.9 439.2,53 438.5,48 438.6,43 439.7,39 441.9,36ZM580,36.7 583,36 586,37.5 588,40.2 589.3,45 589.3,51 588,57 586,60.7 583,62.5 581,62.3 578.5,60 577,57 575.8,52 575.5,47 576,43 577.7,39ZM717,36.8 720,36 723,37.4 725,40 726.4,45 726.4,51 725,57.3 723,60.8 720,62.6 718,62.2 715.6,60 714,56.8 712.9,52 712.6,47 713.1,43 714.8,39ZM398,40.9 401,40.8 403.8,43 405.7,47 406.6,52 406.4,58 405,62.8 403,65.7 400,67.1 397,66.2 395,63.9 393.5,60 392.8,56 392.9,51 394,46 396,42.5ZM535,40.7 538,40.5 541,42.8 542.9,47 543.7,52 543.4,58 542,62.6 540,65.5 537,66.9 534.3,66 532.4,64 530.9,61 529.9,56 529.9,51 531,46 533,42.3ZM672,40.7 675,40.4 678,42.7 680,46.9 680.8,52 680.5,58 679,62.9 677,65.6 674,66.9 671,65.7 669,63.2 667.7,60 667,55.8 667,51 668,46.3 670,42.4ZM353,42.8 356,43.2 358.6,46 360.1,50 361,56 360.6,61 359,65.7 357,68.1 354,69.2 351,68.1 349.2,66 347.9,63 347,58 347.3,53 348.5,48 350.1,45ZM490,42.8 493,43.2 495.7,46 497.2,50 498.1,56 497.7,61 496,65.9 494,68.2 491,69.2 488,68.1 486.3,66 485,63 484.1,58 484.4,53 485.6,48 487.2,45ZM627,43.6 630,43.8 632.9,47 634.4,51 635.2,57 634.8,62 633,66.8 631,69 628,69.9 625,68.7 623,66.2 621.8,63 621.2,59 621.6,53 623,48 625,44.9ZM157,45 161,45.6 165.4,49 169,54.8 171.3,62 172.1,68 171.3,73 168.4,77 164,79.1 159,79.2 155,77.3 151.9,74 149.9,69 149.3,61 150.4,53 153,47.4 155,45.7ZM246,67 250,66.3 254.1,67 257.2,69 259.8,73 260.5,77 259.6,82 257,86 254,88 250,88.8 246,88 243,86 240.4,82 239.5,77 240.2,73 242.8,69Z"/>
<path fill="rgb(230,255,0)" d="M210,21.7 214,21.2 218,22.1 221.1,24 223.3,27 224.1,30 223.8,34 222,37.1 219,39.4 215,40.6 211,40.5 207.7,39 205.1,36 204,32 204.7,27 207,23.6ZM177,23.8 179,23.4 181,24 183.6,27 184.2,29 184.1,32 183.2,34 182,35 180,35.3 178,34.5 175.2,31 174.8,27 175.6,25ZM304,32.9 307,32.6 310,33.5 312.6,36 313.6,39 313.5,46 312.3,52 310.1,56 308,56.9 305,55.1 303,52 301.2,47 300.1,42 299.8,39 300.4,36 301.9,34ZM64,33.8 68,34.4 71,37.1 73.6,43 74.6,50 74,59 72,65.5 69,69.5 67,70.6 65,70.9 63,70.5 61,69.3 58.5,66 56.4,60 55.6,53 55.9,46 57.6,40 60.1,36 62,34.5ZM20,35.9 22,36.5 24,37.9 26.7,42 28.3,48 28.8,56 28,62.4 26,67.8 23,71.2 21,72.1 19,72.3 19,35.9ZM110,35.9 112,36 114,36.8 117,40.2 119,45.4 119.9,53 119.4,60 117.6,66 115,69.6 113,70.9 111,71.4 109,71.1 107,70 104.5,67 102.6,62 101.7,55 102.1,48 104,41.3 107,37.3ZM444,39.6 445,39.3 447,39.7 448.2,41 449.3,44 448.9,50 448,52.4 446,54.4 444,54 443,52.8 441.6,48 441.7,43 442.6,41ZM582,40.9 584,41.4 585,42.3 586,44.2 586.5,47 585.6,53 584.5,55 583,56.1 581,55.6 580,54.3 578.6,49 579.1,44 580.3,42ZM719,41 721,41.3 722,42.2 723,44 723.6,47 722.7,53 721.6,55 720,56.1 718,55.5 717,54.2 715.7,49 716.2,44 717.4,42ZM537,45.9 538.8,47 540,48.9 540.8,54 539.6,59 538,60.9 537,61.2 535,60.4 534,59.1 532.8,54 533,51 534,48.1 535,46.7ZM674,45.9 676,47 677,48.7 677.9,54 676.7,59 675,60.9 674,61.2 672,60.3 671,58.9 669.9,54 671,48.3 672,46.8ZM398,47 400,46.3 401.4,47 403,49.6 403.6,52 403.7,55 403,58.3 402,60.2 400,61.5 398.2,61 397.3,60 395.8,56 396,50.9ZM157,48.8 161,49.3 164.4,52 167.5,57 169.4,63 170.1,68 169.3,72 167,75.3 163,77.2 159,77.1 156,75.7 153,72.3 151.5,68 151.2,61 152,55.4 154,51ZM353,49 355,49 356.1,50 357.2,52 358,56 357.8,59 357,61.7 356,63.1 354,64 352,63.1 351.2,62 350,58 350.8,52ZM491,48.8 493,49.7 494,51.3 495.1,57 494,61.9 493,63.2 491,64 489,63 488,61.5 487.1,57 488,51.7 489,49.9ZM627,50 629,49.8 630.4,51 631.7,54 632.2,57 632,60.2 631,63 630,64.2 628,64.9 625.5,63 624.2,59 625,53ZM246,67.9 250,67.1 254,67.9 257,70 259,73.3 259.6,78 258.6,82 256,85.6 253,87.3 249,87.7 246,86.9 243,84.6 241,81 240.4,77 241.1,73 243,70Z"/>
<path fill="rgb(255,229,0)" d="M210,22.7 213,22.1 217,22.7 220,24.4 222.2,27 223.1,30 223,33.1 221.7,36 219,38.4 216,39.6 212,39.8 209,38.8 206,35.9 204.8,32 205.2,28 207,24.8ZM178,26.9 180,26.7 181,27.6 181.5,30 181,31.4 180,31.9 178,30.7 177.3,29ZM63,36.8 65,36.3 67,36.7 69.9,39 72,43 73.2,49 73,56 71.1,63 68.2,67 65,68.1 62,67 59.6,64 58,60 57,54 57.1,48 58.2,43 60,39.4ZM306,36.8 307.6,37 309,37.9 309.9,40 309.5,45 308,47.7 307,47.8 306,47.1 304,42.6 303.8,39 304.2,38ZM20,38.8 23,40.3 25.5,44 27,49.3 27.4,56 26.4,62 24.7,66 22,68.8 19,69.5 19,38.8ZM110,38.9 113,39.4 116,42.6 117.6,47 118.4,53 117.9,59 116.3,64 114,67.2 111,68.4 108,67.5 105.8,65 104,60.6 103.2,55 103.6,49 105,43.8 107,40.7ZM157,54 159,53.5 162,54.8 164.6,58 166.3,62 167.3,67 167.1,70 165.2,73 163,74.2 160,74.5 158,73.9 155.7,72 154,69 153.5,64 154,59.1 155.2,56ZM247,68.6 251,68.2 254,69 256.5,71 258.2,74 258.7,77 258,81 256,84.2 253,86.2 250,86.7 246.6,86 243.8,84 242,80.9 241.3,77 242,73.4 244,70.5Z"/>
<path fill="rgb(255,178,0)" d="M210,23.8 213,23 216,23.4 219,24.9 221,27.1 222.1,30 221.9,33 220.3,36 218,37.8 214,38.9 211,38.6 208.1,37 206.6,35 205.7,32 206,28.7 207.3,26ZM64,39.7 67,40.1 69.1,42 70.8,46 71.5,51 71.1,56 70,60.1 68,63.2 65,64.5 63,63.9 61,61.7 59.5,58 58.7,53 58.9,48 60,44.1 62,41ZM20,42.6 22,43.5 24,46.4 25.1,50 25.5,55 25,59.3 23.6,63 22,65 19,65.9 19,42.6ZM110,42.9 112,43 114.2,45 115.9,49 116.4,53 116,57.8 115,61 113,63.7 111,64.5 109,64 107,61.7 105.9,59 105.3,55 105.4,51 106.4,47 108,44.2ZM247,69.8 250,69.2 253,69.8 255,71 257.1,74 257.6,77 256.8,81 255,83.5 252,85.3 249,85.5 246,84.3 244,82.3 242.8,80 242.4,77 242.9,74 245,71Z"/>
<path fill="rgb(255,127,0)" d="M211,24.6 213,24.2 216,24.6 218.5,26 220.1,28 220.9,31 220.6,33 219.6,35 217,37.1 214,37.9 211,37.5 208.6,36 207.3,34 206.7,31 207.4,28 209,25.8ZM64,44.9 66,44.8 67,45.6 68.3,48 68.8,51 68,56.2 67,58 65,59 63,57.7 61.5,53 61.9,48ZM20,49.1 21,49.9 21.9,52 22.1,56 21,58.9 19,59.6 19,49.1ZM248,70.8 251,70.6 253,71.3 255,72.9 256,75 256.3,78 255.3,81 253.4,83 251,84 249,84 246.6,83 245,81.4 243.9,79 243.7,76 244.4,74 245.9,72Z"/>
<path fill="rgb(255,76,0)" d="M212,25.7 216,26.1 218.9,29 219.4,31 219.1,33 218,34.6 216,36 213,36.6 211,36.1 209.5,35 208.3,33 208,30.6 208.9,28 210,26.7ZM248,72.7 250,72.2 252,72.7 254.2,75 254.6,77 254.3,79 253,81 251.3,82 248,81.7 245.7,79 245.4,77 245.8,75Z"/>
<path fill="rgb(255,25,0)" d="M212,27.8 215,27.9 217,30 217.1,32 215.6,34 213,34.7 211.2,34 210.3,33 210,30Z"/></g><line x1="136" y1="14.5" x2="249" y2="97" stroke="#1a1a3a" stroke-width="0.8"/><line x1="211" y1="10" x2="322" y2="93" stroke="#1a1a3a" stroke-width="0.8"/></g><rect x="19.5" y="9.5" width="734.5" height="88" fill="none" stroke="#0000b4" stroke-width="1"/>
<text x="367.6" y="110.2" font-size="16.0" text-anchor="start" font-weight="bold" fill="#111">(a)</text>
<clipPath id="cb"><rect x="20.5" y="137.5" width="734.5" height="90"/></clipPath><g clip-path="url(#cb)"><g filter="url(#bl)"><rect x="18.5" y="135.5" width="738.5" height="94" fill="#0000ff"/><path fill="rgb(0,77,255)" d="M21.5,138 27.5,138.4 31.5,139.5 34.5,141.3 37.5,144.5 39.7,148.5 41.5,153.7 42.9,161.5 43.5,169.9 44.5,171.9 45.2,160.5 47.1,151.5 50.5,144.5 54.5,140.7 57.5,139.3 61.5,138.4 68.5,138.2 74.5,138.7 77.5,139.6 80.5,141.3 84.4,145.5 87.1,151.5 89,160.5 90.1,177.5 90.2,191.5 88.4,205.5 86.5,213.4 83.5,219.7 79.5,223.8 76.5,225.4 73.5,226.2 63.5,226.5 57.5,225.3 52.5,221.9 48.9,216.5 46.6,209.5 45.1,200.5 44.5,188.1 43.5,193 42.9,201.5 41.8,208.5 40.1,214.5 38.2,218.5 35.5,222 31.5,224.8 27.5,225.9 20.5,226.3 20.5,138ZM136.5,138.3 139.5,137.5 149.7,137.5 153.4,138.5 157.7,141.5 161.5,147.8 164.5,143.8 169.5,141 175.5,140.1 182.5,140.8 186.5,142.5 190.2,145.5 193,150.5 193.5,153.1 196.5,147.5 199.5,144.7 204.5,142.3 211.5,140.8 232.5,140.1 249.5,141.3 254.5,142.7 258.2,144.5 263.3,148.5 265.5,151.1 267.5,146.5 269.5,143.3 272.5,140.6 276.5,138.4 279.9,137.5 300.5,137.9 305.5,140 309.4,143.5 311.8,147.5 313.2,153.5 313.3,160.5 312.1,169.5 309.9,179.5 306.8,189.5 316.5,189.6 321.5,190.3 326.5,191.8 330.5,194.3 334.2,188.5 338.7,185.5 331.5,183.9 326.5,181.8 323.5,179.5 320.9,175.5 320,172.5 319.5,167.5 319.7,153.5 320.8,149.5 323.5,145.9 326.5,143.9 330.5,142.4 336.5,141.2 342.5,140.7 373.5,140.7 380.5,141.3 386.5,142.5 392.6,145.5 394.7,147.5 396.3,150.5 397.4,158.5 397.1,170.5 395.9,175.5 393.1,179.5 389.5,182.1 383.2,184.5 388.5,185.9 392.5,187.7 396,190.5 398.1,193.5 399.4,197.5 399.9,202.5 400,211.5 399.3,217.5 397,221.5 393.5,224 387.5,226 379.5,227.1 352.2,227.5 343.5,227 338.5,226 335.5,224.7 333.5,223.3 331.5,220.9 325.5,224.2 319.5,225.7 310.5,226.1 302.5,225.1 296.5,222.8 292.8,219.5 291.1,216.5 290.2,213.5 289.6,204.5 283.5,203.4 279.5,200.8 275.3,195.5 271.5,187.7 270.3,199.5 269.1,205.5 266.5,211.5 263.5,214.8 259.5,216.7 253.5,216.9 249.5,215.5 245.5,211.5 244.5,211.5 240.5,218 237.5,220.6 234.5,222.2 227.5,223.7 219.5,223 214.5,220.9 210.5,217.5 207.1,212.5 205,206.5 203.8,198.5 204.1,189.5 206.1,184.5 209.7,180.5 201.5,177.7 197,174.5 194.7,170.5 193.5,163.9 193.3,165.5 191.6,168.5 188.1,172.5 193.1,178.5 195.9,184.5 197.5,192.5 197.6,203.5 196.7,209.5 194.8,214.5 192,218.5 188.5,221.6 181.5,224.7 173.5,226.2 160.5,226.3 151.5,224.9 145.5,222.4 140.6,218.5 137.3,213.5 135.5,207.5 131.4,217.5 128.5,221.2 125.5,223.3 121.5,224.8 115.5,225.4 107.5,225.2 102.5,224 98.5,221.7 95,217.5 92.5,211.5 91.1,204.5 90.6,191.5 90.9,171.5 92.1,161.5 94.4,153.5 96.3,149.5 98.5,146.6 103.5,143.1 109.5,142 118.5,142.1 123.5,143.4 128.5,146.4 131.5,141.5 133.9,139.5ZM160.2,167.5 160.5,167.9 160.9,167.5 160.5,166.5ZM135.9,175.5 135.8,180.5 136.5,185.2 137.8,181.5 140.2,177.5 139.3,176.5 136.5,175.2ZM451.5,138.5 486.5,138.3 509.5,138.9 523.5,141.2 528.5,143.1 531.5,145.1 534.3,148.5 535.5,153.5 535.3,166.5 533.9,171.5 531.5,174.5 527.5,177.2 523.5,178.8 513.6,181.5 523.5,182.8 531.5,184.7 537.5,187.5 541,190.5 543,194.5 543.7,202.5 543.2,210.5 541.3,214.5 536.5,218 527.5,220.8 513.5,222.6 497.5,223.2 458.5,223.4 438.5,222.8 424.5,220.7 419.5,219 415.3,216.5 412.4,212.5 411.5,206.5 411.9,195.5 413.8,190.5 416.6,187.5 421.5,184.8 427.5,182.9 436.5,181.5 435.1,180.5 427.5,179 422.5,177.2 418.5,175 415.5,171.9 413.9,168.5 413.2,162.5 413.3,154.5 414.3,149.5 416.3,146.5 418.5,144.7 425.5,141.6 435.5,139.6ZM563.5,138.4 571.5,137.5 648.5,137.7 658.5,139.3 665.5,141.6 670.3,144.5 673.5,148.9 676.5,145.4 681,142.5 687.5,140.3 694.5,139 713.5,137.6 754.5,137.5 754.5,226 719.5,226 702.5,225.4 690.5,223.5 682.5,220.2 678.7,216.5 677.5,213.5 677.1,210.5 676.8,203.5 677.4,196.5 678.6,193.5 680,191.5 684.5,188.3 692.5,185.6 703.5,184.1 718.4,183.5 698.5,182.2 686.5,179.9 681.5,177.9 678.5,176.1 675.8,173.5 673.5,170.1 670.5,174.7 665,178.5 657.5,181 644.9,183.5 655.5,185.1 662.5,187.1 667.5,189.9 670.5,193.5 671.3,196.5 671.8,202.5 670.9,212.5 669.3,215.5 667.5,217.3 662.5,220.4 654.5,222.8 644.5,224.3 633.5,225.1 613.5,225.5 572.5,225 562.5,223.6 554.5,221.1 549.4,217.5 546.7,212.5 546,202.5 547,193.5 549.6,189.5 553.5,186.8 558.5,185 566.3,183.5 568.4,182.5 560.5,181.2 554.5,179.6 549.9,177.5 546,174.5 543.9,171.5 542.9,168.5 542.2,160.5 542.5,152.5 543.9,147.5 547.7,143.5 554.5,140.4Z"/>
<path fill="rgb(0,128,255)" d="M140.5,138.4 148.5,138.4 154.5,140.4 157.9,143.5 160.5,149.6 161.5,150.1 163.5,146.3 166.5,143.5 170.5,141.6 174.5,141 179.5,141.1 184.5,142.5 188.5,145.1 191,148.5 192.2,151.5 193,155.5 192.5,163.5 191.5,166.5 189.7,169.5 185,173.5 190.3,178.5 193.6,184.5 195.6,192.5 195.8,202.5 194.9,208.5 192.9,213.5 190,217.5 185.5,221 180.5,223.1 175.5,224.3 169.5,224.8 161.5,224.8 151.5,222.9 147.5,221.2 143.5,218.3 140.5,214.8 138.4,210.5 137.1,205.5 136.7,199.5 137,192.5 138.3,186.5 140.3,181.5 143.1,177.5 135.5,173.9 134.7,174.5 134.9,194.5 134.1,205.5 132.1,213.5 128.5,219.3 125.5,221.7 121.5,223.2 115.5,223.9 108.5,223.7 103.5,222.8 100.5,221.4 97.5,218.8 95.5,216 93.3,210.5 92,203.5 91.5,181.5 92,170.5 93,162.5 94.5,156.5 96.8,151.5 99.5,147.8 102.5,145.6 106.5,144.3 110.5,143.8 116.5,143.8 121.5,144.7 125.5,146.6 128.5,149.4 130.5,144.7 132.5,142.1 135.5,140ZM160.2,164.5 157.1,169.5 157.5,170.1 162.8,169.5 160.5,163.5ZM284.5,138.4 294.5,138.4 301.5,140 307.2,143.5 310.5,148.5 312.1,155.5 311.8,164.5 309.7,176.5 307.8,183.5 305.1,190.5 305.5,191.2 314.5,190.8 321.5,191.7 326.5,193.6 331.5,197.8 333.2,192.5 336.5,188.4 340.5,186.3 348.6,184.5 338.5,183.8 332.5,182.7 327.5,180.5 323.6,176.5 322.7,174.5 321.8,169.5 321.4,158.5 322.6,150.5 323.6,148.5 325.5,146.5 329.5,144.1 335.5,142.5 355.5,141.5 380.5,142.5 386.5,144 390.5,146 393.7,149.5 395.3,157.5 395.1,168.5 394.2,173.5 393.1,176.5 389.5,180.1 384.5,182.5 377.5,183.9 368.6,184.5 380.5,185.5 386.5,186.8 391.5,189.1 395.2,192.5 397,196.5 398.1,205.5 397.8,213.5 396.3,219.5 393.2,222.5 388.7,224.5 383.5,225.7 375.5,226.3 355.5,226.7 341.5,225.7 337.5,224.4 334.6,222.5 331.5,217.6 326.5,222 320.5,224.1 310.5,224.8 302.5,223.6 296.5,220.6 293.1,216.5 291.4,210.5 291.5,203.4 284.5,202.2 281.5,200.7 279,198.5 274.5,192 270.5,181.9 269.6,195.5 268.2,203.5 265.5,209.7 261.5,213.6 257.5,214.8 252.5,214.4 249,212.5 245.5,208 244.5,207.9 242.6,212.5 239.8,216.5 236.5,219.4 232.5,221.3 227.5,222.2 221.5,221.9 216.5,220.2 212.5,217.4 209.3,213.5 206.6,207.5 205.1,200.5 204.8,193.5 205.3,189.5 206.8,185.5 209.5,182.2 213.6,179.5 212.5,178.6 206.5,177.3 202.4,175.5 199.5,173 197.4,169.5 196.1,163.5 196.3,156.5 197.7,151.5 200.3,147.5 202.9,145.5 206.5,143.9 215.5,142.2 230.5,141.6 244.5,142.4 250.5,143.6 255.5,145.8 262.5,151.1 266.5,156.6 268.3,148.5 271.5,143.6 276.5,140.3ZM238.4,179.5 241.5,181.9 241.8,181.5 241.5,179.1ZM573.5,138.4 609.5,137.7 644.5,138.5 658.5,140.8 663.5,142.6 667.5,145.2 669.4,147.5 670.7,151.5 671.4,156.5 671.3,161.5 670.8,166.5 669.4,171.5 666,175.5 660.3,178.5 651.5,180.8 640.5,181.9 622,182.5 619.1,183.5 635.5,183.9 647.5,185 657.5,187.1 663.5,189.9 665.4,191.5 666.6,193.5 668.3,200.5 667.9,208.5 665.5,215.5 663.2,217.5 659.6,219.5 651.5,221.9 640.4,223.5 625.5,224.1 593.5,224.4 570.5,223.6 560.5,221.7 553.5,218.4 550.3,214.5 549.1,209.5 548.6,204.5 548.8,199.5 549.7,194.5 550.8,191.5 552.7,189.5 558.4,186.5 565.5,184.8 595.6,182.5 572.5,181.7 561.5,180 556.5,178.5 552.3,176.5 549.5,174.4 547.3,171.5 545.7,165.5 545.2,157.5 546,151.5 547.9,146.5 551.6,143.5 556.5,141.4 563.5,139.7ZM727.5,138.5 754.5,138.6 754.5,182.1 721.5,182.1 698.5,180.9 691.5,179.6 685.5,177.6 681.6,175.5 678.5,172.5 676.2,164.5 676.1,155.5 677,150.5 678.2,147.5 681.4,144.5 687.5,141.8 696.5,139.9 707.5,139ZM453.5,139.5 481.5,139.2 506.5,139.7 516.5,140.8 524.5,143 530.1,146.5 531.5,148.5 532.2,150.5 533,155.5 533.2,160.5 531.6,170.5 529.5,173.5 527,175.5 523.5,177.2 518.5,178.8 507.5,180.4 486.5,181.3 459.5,181.2 438.5,179.8 426.5,177.1 422.5,175.2 419.1,172.5 417.8,170.5 416.9,167.5 416,158.5 417.2,150.5 417.9,148.5 419.5,146.5 424.5,143.5 431.5,141.4 440.5,140.1ZM21.5,139.7 27.5,140.2 32.5,141.9 35.7,144.5 38.9,149.5 40.9,155.5 42,162.5 42.7,185.5 41.6,204.5 39.9,211.5 37.5,217 34.5,220.8 31.5,222.8 26.5,224.2 20.5,224.5 20.5,139.7ZM60.5,140.3 71.5,140 76.5,141 79.5,142.4 82.5,145.2 84.6,148.5 86.5,153.1 87.7,158.5 88.7,169.5 88.8,185.5 88.3,198.5 87,207.5 84.8,214.5 81.5,219.9 77.5,222.9 72.5,224.4 66.5,224.7 61.5,224.3 57.5,223.3 54.5,221.6 51.6,218.5 49.5,214.7 47.7,209.5 46.5,203.5 45.5,191.5 45.3,175.5 45.9,163.5 47.1,155.5 49.1,149.5 52.3,144.5 55.5,142ZM439.5,182.5 465.5,181.6 496.5,181.9 515.5,183 526.5,185 533.5,187.7 536.1,189.5 537.8,191.5 539.3,195.5 540.2,201.5 540.2,206.5 539.3,210.5 537.5,214.5 532.5,217.7 524.5,220.1 512.5,221.6 477.5,222.5 443.5,222 429.5,220.5 424.5,219.2 420.3,217.5 416.6,214.5 414.7,208.5 414.5,199.5 416.4,191.5 418.9,188.5 424.3,185.5 430.5,183.7ZM726.5,184.5 754.5,184.7 754.5,224.9 722.5,225 699.5,223.9 688.5,221.3 684.5,219.2 681.8,216.5 679.9,209.5 679.8,201.5 681.7,193.5 684.5,190.5 690.5,187.6 698.5,185.8 707.5,185Z"/>
<path fill="rgb(0,179,255)" d="M140.5,139.5 147.5,139.3 152.5,140.7 156.4,143.5 158.8,147.5 160.2,154.5 160,161.5 159.1,164.5 157.5,167.3 152.7,171.5 153.5,173 164.5,171.2 165.1,170.5 163.1,167.5 161.8,164.5 160.9,160.5 160.8,155.5 163.1,148.5 165.3,145.5 167.5,143.8 173.5,141.8 181.5,142.3 186.5,144.6 188.6,146.5 190.5,149.3 191.7,152.5 192.3,156.5 192.2,160.5 191.4,164.5 188.5,169.6 185.5,172.1 182.4,173.5 182.2,174.5 185.5,176.6 188.4,179.5 192,185.5 193.9,193.5 194,203.5 193,208.5 190.7,213.5 187.5,217.2 183.5,220 178.5,222 173.5,223 161.5,223.3 156.5,222.5 151.5,221.1 147.5,219 144.5,216.6 141.5,212.8 139.6,208.5 138.6,203.5 138.4,197.5 139,191.5 140.5,185.8 142.7,181.5 145.9,177.5 138.5,174.7 134.5,172.2 133.6,172.5 134.1,191.5 133.3,203.5 131.5,211.7 128.5,217.2 125.5,219.8 121.5,221.5 116.5,222.4 110.5,222.4 105.5,221.7 101.5,220.1 98.5,217.9 96.5,215.2 94.5,210.5 93.1,203.5 92.4,194.5 92.4,183.5 93.8,164.5 95.5,157.5 97.5,153 100.4,149.5 103.5,147.5 107.5,146.1 112.5,145.6 117.5,145.8 122.5,147.3 125.5,149.1 128.5,152.3 130.8,146.5 132.8,143.5 136.5,140.7ZM576.5,139.5 599.5,138.7 625.5,138.8 645.5,139.8 656.1,141.5 663.1,144.5 665.1,146.5 666.9,149.5 668.2,153.5 668.7,157.5 668.5,162.5 667.5,167.5 664.5,173.5 660.7,176.5 652.5,179.2 642.5,180.5 614.5,181.6 584.5,181.1 566.2,179.5 561.4,178.5 556.2,176.5 553.3,174.5 551.5,172.5 549.9,169.5 548.7,165.5 548.1,156.5 548.8,152.5 550.3,148.5 553.5,144.7 557.6,142.5 564.5,140.7ZM724.5,139.5 754.5,139.5 754.5,181 724.5,181.1 700.5,179.7 689.5,177.4 685.6,175.5 682.5,172.7 680.7,169.5 679.5,165.9 678.7,157.5 680.3,150.5 682,147.5 684,145.5 690.2,142.5 697.5,141.1ZM281.5,140.4 291.5,139.7 299.5,141 305.5,144.4 309.2,149.5 310.9,156.5 310.5,166.5 308,179.5 306.1,185.5 303,192.5 303.5,193 313.5,192 318.5,192.4 322.5,193.4 327.9,196.5 330.3,199.5 331.5,202.1 332.5,202.7 333.8,195.5 335.5,191.6 338.5,188.8 341.6,187.5 350.5,186.1 361.5,185.8 376.5,186.5 385.5,188.1 389.1,189.5 391.8,191.5 393.5,193.8 395,197.5 396.1,203.5 396.3,210.5 395.5,215.5 393.8,219.5 392,221.5 388.5,223.3 381.5,224.8 362.5,225.9 346.5,225.3 340.5,224.3 336.5,222.5 334.1,219.5 332.5,213.2 331.5,213.5 330.1,216.5 327.5,219.4 321.5,222.5 316.5,223.4 311.5,223.6 306.5,223.2 302.5,222.2 297.5,219.4 295.5,217.3 293.9,214.5 292.7,208.5 293.5,201.5 287.5,201.4 284.1,200.5 280.5,198.2 277.2,194.5 272.7,185.5 269.5,174.1 268.9,176.5 268.9,191.5 267.9,199.5 265.5,206.6 263.5,209.5 261.5,211.3 257.5,212.8 252.5,212.3 248.5,209.5 245.5,204.4 244.5,204 242.8,209.5 240.5,213.7 237.5,217 233.5,219.5 228.5,220.8 222.5,220.7 217.5,219.2 213.5,216.6 210.1,212.5 207.4,206.5 206,199.5 205.9,191.5 207,187.5 209.6,183.5 213.5,180.6 219.3,178.5 206.5,175.1 202.6,172.5 200.5,169.8 198.9,165.5 198.4,159.5 199.7,153.5 202.1,149.5 204.5,147.4 208.4,145.5 218,143.5 233.5,143 246.5,144.6 252.5,146.8 261.8,153.5 265.1,158.5 267.5,166.1 268.2,154.5 270.1,148.5 272.2,145.5 274.5,143.4 277.5,141.7ZM268.4,169.5 268.5,173 268.5,169ZM233,178.5 238.5,180.9 242.5,184.2 243.1,179.5 242.5,177.5ZM452.5,140.5 477.5,140 499.5,140.4 514.5,141.6 522.2,143.5 527.1,146.5 529,149.5 530.1,152.5 530.9,160.5 529.5,168.5 526.6,173.5 521.5,176.5 513.9,178.5 499.5,179.7 470.5,180.1 443.5,179.1 432.4,177.5 426.6,175.5 423.5,173.5 420.2,168.5 418.6,160.5 418.7,156.5 419.5,152.5 420.7,149.5 422.5,146.9 425.9,144.5 432.5,142.4 441.5,141.1ZM21.5,141.4 26.5,141.9 31.5,143.5 34.5,145.6 37.5,149.6 39.5,154.9 40.9,162.5 41.7,172.5 41.9,184.5 40.6,203.5 39.3,209.5 37.3,214.5 34.5,218.3 30.5,221 25.5,222.5 20.5,222.8 20.5,141.4ZM64.5,141.5 69.8,141.5 74.5,142.3 78.5,143.9 81.5,146.3 83.5,149.1 85.5,153.8 86.9,160.5 87.7,168.5 88,182.5 87.5,195.4 86.4,204.5 84.5,211.9 82.1,216.5 79.3,219.5 74.5,221.9 69.5,222.8 64.5,222.8 59.5,221.9 55.5,219.9 52.5,217.1 50.5,213.8 48.5,208 46.6,193.5 46.4,169.5 47.3,160.5 48.8,153.5 51.5,147.8 54.5,144.7 58.9,142.5ZM353.5,142.5 367.5,142.7 378.5,143.6 385.5,145.1 389.5,147.5 391.1,149.5 392.4,152.5 393.7,161.5 392.5,171.5 391,175.5 389.5,177.6 385.5,180.4 380.5,181.9 371.5,183 359.5,183.5 347.5,183.2 337.5,182.2 331.5,180.7 327.5,178.1 325.6,175.5 324.4,172.5 323,163.5 323.7,154.5 326.2,148.5 329.5,145.8 334.5,144.1 342.5,143ZM443.5,183.5 465.5,182.7 491.5,182.9 511.5,183.9 523.5,185.8 530.3,188.5 532.7,190.5 534.5,192.9 536.1,196.5 537,200.5 537.2,204.5 536.5,208.5 534.1,213.5 529.5,217 521.5,219.3 510.5,220.6 478.5,221.6 447.5,221.1 430.7,219.5 426.5,218.4 422.4,216.5 418.9,212.5 417.7,209.5 417,205.5 417.6,197.5 419.9,191.5 423.5,187.9 428.5,185.7 434.5,184.4ZM584.5,184.5 605.5,184.2 629.5,184.8 644.5,185.9 653.6,187.5 660,190.5 663.5,195 665.2,201.5 665.2,205.5 664.3,209.5 661.5,215.1 657.1,218.5 648.5,221.1 637.5,222.4 606.5,223.5 578.5,222.9 563.5,221.1 558.8,219.5 555.8,217.5 554,215.5 552.5,212.5 551,204.5 551.8,196.5 554.5,191 557.5,188.5 563.1,186.5 571.5,185.3ZM724.5,185.5 754.5,185.7 754.5,223.9 725.5,224.1 702.5,223 696.5,222.1 690.7,220.5 687.5,218.7 685.5,216.8 684.1,214.5 682.7,210.5 682.2,202.5 684,195.5 685.5,193 687.5,191 692.5,188.5 698.5,187.1 709.5,186.1Z"/>
<path fill="rgb(0,230,255)" d="M601.5,139.5 621.5,139.6 639.5,140.5 650.5,141.9 657.5,144 662.4,147.5 664.4,150.5 665.5,153.5 666.2,160.5 665.6,164.5 664.2,168.5 662.4,171.5 659.5,174.3 656.5,176 652.1,177.5 638.5,179.5 617.5,180.5 590.5,180.3 570.5,178.6 564.5,177.4 559.5,175.6 556.3,173.5 553.7,170.5 552.2,167.5 551,163.5 550.7,156.5 552.5,150.4 554.4,147.5 556.7,145.5 562.5,142.9 570.5,141.2 583.5,140.1ZM141.5,140.4 146.5,140.3 150.5,141 153.5,142.5 156.5,145.5 158.4,149.5 159.3,154.5 159.2,160.5 158,164.5 155.5,167.9 151.5,170.5 151,174.5 149.5,176 145.5,176.1 140.5,174.8 136.2,172.5 132.5,169 133.2,185.5 132.9,197.5 131.5,207.2 129.1,213.5 125.5,217.7 119.5,220.4 110.5,221 103.5,219.3 99.5,216.5 96.7,212.5 94.7,206.5 93.7,199.5 93.2,187.5 93.8,173.5 95.3,163.5 97.5,156.6 100.2,152.5 103.5,149.7 108.5,147.8 113.5,147.4 118.5,148 122.5,149.5 125.5,151.7 129.5,156.7 130.8,149.5 132.7,145.5 136.5,142ZM721.5,140.5 754.5,140.5 754.5,179.9 727.5,180.1 704.5,178.7 692.5,176.2 688.5,174.3 685.3,171.5 682.2,165.5 681.3,158.5 681.9,154.5 682.9,151.5 686.5,146.9 690.5,144.5 697.7,142.5 707.5,141.3ZM284.5,141.4 292.5,141.2 299.5,142.7 304.5,145.8 307.9,150.5 309.2,154.5 309.8,159.5 308.7,172.5 305.1,185.5 299.8,195.5 300.5,195.7 307.5,193.5 315.5,193.2 322.5,194.8 327.5,198.2 329.1,200.5 330.3,203.5 330.7,210.5 329.9,213.5 328.2,216.5 326.3,218.5 323.5,220.3 318.5,222 311.5,222.5 305.5,221.7 300.1,219.5 296.1,215.5 294.3,210.5 294.4,204.5 296.7,198.5 290.5,200 287.5,200 284.5,199.2 279.5,195.5 275.5,189.5 272.3,181.5 270.1,172.5 269,163.5 269.4,155.5 271.4,149.5 274.5,145.6 278.5,143.1ZM451.5,141.4 472.5,140.8 493.5,141 509.5,142.1 518.5,143.9 523.7,146.5 525.6,148.5 527.3,151.5 528.8,158.5 527.6,166.5 526.4,169.5 524.5,172.1 519.5,175.4 511.5,177.5 499.5,178.7 473.5,179.3 447.5,178.3 434.5,176.4 429.5,174.6 426.5,172.7 424.4,170.5 422.7,167.5 421,160.5 421.8,153.5 424.5,148.5 428.4,145.5 433.5,143.7 440.5,142.4ZM174.5,142.5 180.5,142.8 185.5,144.9 189.1,148.5 190.9,152.5 191.5,156.5 191.5,160.5 190.9,163.5 189.5,166.9 185.5,171.1 182.5,172.6 178.8,173.5 177.6,174.5 181.5,176.3 184.7,178.5 187.6,181.5 190,185.5 191.4,189.5 192.4,194.5 192.6,200.5 192,205.5 190.8,209.5 188.5,213.5 185.5,216.6 180.6,219.5 175.5,221.1 170.5,221.9 163.5,222 157.5,221.2 152.5,219.7 148.5,217.6 145.5,215.1 142.8,211.5 141.1,207.5 140.1,202.5 140.1,196.5 140.7,191.5 141.8,187.5 143.7,183.5 145.8,180.5 149.5,177.1 151.5,175.9 157.5,173.8 169,172.5 165.4,169.5 162.9,165.5 161.7,160.5 162,153.5 163.5,149.3 166.5,145.5 170.5,143.2ZM21.5,143.1 26.5,143.7 31.5,145.7 34.7,148.5 37.1,152.5 39.1,158.5 40.2,165.5 41,184.5 39.7,201.5 38.4,207.5 36.5,212.6 33.7,216.5 30.5,218.9 26.1,220.5 20.5,221 20.5,143.1ZM62.5,143.4 67.5,143 72.5,143.5 76.5,144.9 80.2,147.5 82.5,150.5 84.3,154.5 86.6,166.5 87.1,177.5 86.8,191.5 85.7,201.5 84.1,208.5 82,213.5 78.6,217.5 74.5,219.9 69.5,221 64.5,221 60.5,220.2 56.5,218.2 53.6,215.5 51.5,212.2 49.8,207.5 47.7,195.5 47.1,184.5 47.3,171.5 48.1,162.5 49.5,155.7 51.5,150.8 54.5,147 58.5,144.5ZM351.5,143.5 364.5,143.5 376.5,144.5 383.5,146.2 387.5,148.5 389.2,150.5 390.7,153.5 392,161.5 390.8,170.5 389.5,173.7 387.5,176.5 383.5,179.2 378.5,180.8 370.5,181.9 359.5,182.5 348.5,182.2 339.5,181.1 333.5,179.5 329.5,177.1 326.5,172.5 324.8,164.5 325.1,156.5 327.3,150.5 330.2,147.5 334.7,145.5 341.5,144.2ZM223.5,144.5 235.5,144.5 245.5,146.1 251.1,148.5 255.7,152.5 260.5,155.2 263.5,158.9 265.5,163.6 267.1,170.5 268,179.5 268,189.5 267.2,197.5 265.4,203.5 262.5,208.1 260.5,209.8 257.5,210.8 254.5,210.8 251.5,209.8 248.2,206.5 244.5,198.7 242.5,207.5 239.2,213.5 234.5,217.7 231.5,219 227.5,219.7 222.5,219.5 217.5,217.9 213.5,215 210.8,211.5 208.5,206.5 207.1,200.5 206.7,193.5 207.6,188.5 209.9,184.5 213.5,181.5 218.5,179.5 224.5,178.7 231.5,179.1 236.5,180.7 240.5,183.5 243.5,187.5 244,176.5 243.5,175.9 233.5,176.9 223.5,176.8 216.5,176.1 210.5,174.6 206.2,172.5 203.2,169.5 201.3,165.5 200.7,161.5 201,157.5 201.9,154.5 203.5,151.7 205.6,149.5 208.8,147.5 212.5,146.1ZM446.5,184.4 466.5,183.6 489.5,183.8 508.5,185 520.5,187 526.8,189.5 529.5,191.5 531.5,194 534,200.5 534.3,204.5 533.7,207.5 531.1,212.5 528.9,214.5 525.5,216.4 517.6,218.5 506.5,219.8 478.5,220.8 450.5,220.3 433.5,218.6 428.5,217.2 425.1,215.5 421.3,211.5 419.4,205.5 419.9,198.5 422.5,192.5 425.5,189.5 430.5,187.1 437.2,185.5ZM583.5,185.5 602.5,185.1 625.5,185.6 640.5,186.7 650.2,188.5 656.5,191.3 660.4,195.5 662.3,201.5 661.8,207.5 658.9,213.5 654.5,217.1 647.5,219.6 635.5,221.3 608.5,222.5 582.5,222.1 566.5,220.1 561.5,218.5 558.5,216.7 555.2,212.5 553.2,205.5 553.6,198.5 554.6,195.5 556.4,192.5 560,189.5 565.5,187.5 572.5,186.3ZM721.5,186.5 754.5,186.6 754.5,223 727.5,223.3 705.5,222.1 698.5,221 693.5,219.5 689.8,217.5 687.8,215.5 685.2,210.5 684.5,203.5 685.9,197.5 687.6,194.5 689.5,192.5 693.5,190.2 699.5,188.4 708.5,187.2ZM348.5,187.5 358.5,186.8 373.5,187.5 382.5,188.9 388.4,191.5 390.6,193.5 392.4,196.5 394.3,203.5 394.5,211.5 393.6,215.5 392.1,218.5 389.5,221 385.5,222.8 379.5,224 370.5,224.8 357.5,225.1 348.5,224.6 342,223.5 337.8,221.5 334.9,217.5 333.6,211.5 333.8,203.5 335.1,196.5 337.1,192.5 339.5,190.2 343.4,188.5Z"/>
<path fill="rgb(0,255,229)" d="M595.5,140.5 614.5,140.3 632.5,141 645.5,142.3 653.5,144.3 659,147.5 662.5,152.5 663.8,158.5 662.7,165.5 661.3,168.5 659,171.5 656.5,173.5 652.5,175.5 641.5,178 623.5,179.4 596.5,179.5 574.5,177.8 563.5,175.1 559.5,172.9 556.5,169.9 553.9,164.5 553.1,157.5 554.8,151.5 558.5,147 563.1,144.5 570.5,142.6 580.5,141.3ZM141.5,141.5 147.5,141.4 152.5,143.2 154.5,144.8 156.5,147.5 158.1,152.5 158.5,158.5 157.3,163.5 154.5,167.4 149.8,170.5 149.7,173.5 147.5,175 141.9,174.5 136.3,171.5 134.5,169.5 131.1,161.5 130.9,153.5 132.7,147.5 136.3,143.5ZM476.5,141.5 492.5,141.8 505.5,142.7 514.5,144.2 520.2,146.5 524.4,150.5 526.4,155.5 526.4,162.5 524.3,168.5 522,171.5 519.3,173.5 515.5,175.1 509.8,176.5 492.5,178.2 469.5,178.4 449.5,177.4 436.5,175.3 429.5,172.1 426.7,169.5 424.9,166.5 423.4,160.5 424,154.5 426.8,149.5 431.5,146.1 437.5,144.2 446.5,142.8ZM720.5,141.5 737.5,141 754.5,141.4 754.5,178.9 728.5,179.2 706.5,177.6 699.9,176.5 694.5,174.9 690.5,172.8 688,170.5 685,165.5 683.9,158.5 685.4,152.5 688.3,148.5 693.1,145.5 699.5,143.6 708.5,142.3ZM172.5,143.4 178.5,143.2 183.5,144.6 187.5,147.6 190.2,152.5 190.9,159.5 189.5,165.2 186.4,169.5 181.5,172.2 174.5,172.9 169.5,171.6 165.5,168.5 163,163.5 162.3,156.5 163.7,150.5 165.5,147.5 167.5,145.6ZM282.5,143.3 287.5,142.6 292.5,142.7 296.5,143.4 300.5,145 303.5,147.1 305.6,149.5 307.5,153.4 308.4,157.5 308.7,163.5 307.9,171.5 306.4,178.5 304,185.5 301.5,190.6 298.5,194.6 295.5,197 291.5,198.5 287.5,198.5 284.5,197.7 281.5,195.7 278.6,192.5 274,183.5 270.9,171.5 270.1,160.5 271.6,152.5 273.5,149.1 276,146.5 279.2,144.5ZM349.5,144.5 361.5,144.3 373.5,145.2 380.5,146.6 385.5,149.2 388.7,153.5 390.3,160.5 389.4,168.5 386.6,174.5 383,177.5 378.5,179.3 371.5,180.6 362.5,181.4 351.5,181.3 342.5,180.4 336.5,179 331.8,176.5 328.5,172.4 326.5,165.5 326.4,158.5 328.3,152.5 330.6,149.5 334.5,147.1 340.5,145.5ZM21.5,144.8 26.5,145.5 30.5,147.2 33.5,149.8 36,153.5 37.8,158.5 39.2,165.5 40.1,183.5 38.7,200.5 37.4,206.5 35.5,211 33.1,214.5 29.5,217.3 25.5,218.7 20.5,219.2 20.5,144.8ZM61.5,145.3 66.5,144.6 71.5,145 75.5,146.3 78.5,148.3 81.3,151.5 83.2,155.5 85.6,166.5 86.2,176.5 86,188.5 85.1,198.5 83.5,206 81.5,211 78.5,215.1 74.5,217.8 69.5,219.1 65.5,219.2 61.5,218.5 58.5,217.2 55.1,214.5 53,211.5 51.2,207.5 48.7,195.5 48,174.5 48.7,165.5 50,158.5 51.8,153.5 54.4,149.5 57.5,147ZM218.5,146.5 225.5,145.8 232.5,145.8 239.5,146.5 244.5,147.7 249.5,150.1 254.5,155 259.5,157.2 262.5,160.5 264.5,164.9 266.1,171.5 267,179.5 267.1,188.5 266.5,195.1 265.2,200.5 263.3,204.5 260.5,207.6 257.5,208.9 253.5,208.6 250.2,206.5 247.6,202.5 246.2,198.5 245,192.5 245.2,175.5 244.5,174 232.5,175.6 219.5,175 210.5,172.6 207.5,170.7 205.3,168.5 203.8,165.5 203,161.5 203.4,157.5 205.1,153.5 207.5,150.8 210.5,148.9ZM110.5,149.4 115.5,149.4 119.5,150.3 123.5,152.5 126.3,155.5 128.5,159.5 129.9,163.5 131.9,177.5 132,196.5 131.1,203.5 129.5,209.5 127.4,213.5 124.4,216.5 120.5,218.5 115.5,219.5 110.5,219.5 106.5,218.7 102.5,216.9 99.8,214.5 97.8,211.5 96.2,207.5 94.4,196.5 94.6,176.5 95.5,168.5 97.2,161.5 99.5,156.4 102.5,152.8 106.4,150.5ZM165.5,174.5 174.5,175.4 178.5,176.8 182.5,179.1 185.5,181.9 188,185.5 189.7,189.5 190.6,193.5 191,198.5 190.7,203.5 189.7,207.5 187.7,211.5 185.2,214.5 181.5,217.3 177.5,219 172.5,220.2 166.5,220.7 160.5,220.3 155.5,219.2 151.5,217.5 147.5,214.6 144.9,211.5 142.9,207.5 141.9,203.5 141.6,197.5 142.4,191.5 144.1,186.5 146.6,182.5 150.5,178.8 154.5,176.6 159.5,175.1ZM223.5,179.4 231.5,179.9 237.5,182.2 241.8,186.5 243.9,192.5 243,202.5 240,210.5 235.5,215.7 232.5,217.4 228.5,218.5 224.5,218.6 220.5,217.9 217.5,216.6 214.5,214.4 210.3,208.5 208.8,204.5 207.8,199.5 207.7,191.5 208.5,188.5 210.2,185.5 212.5,183.2 215.5,181.4 219.5,180ZM467.5,184.5 485.5,184.7 501.5,185.6 512.5,186.9 520.5,189 526.5,192.4 529.7,196.5 531.4,202.5 530.8,207.5 529.2,210.5 526.5,213.3 523.5,215.1 519.5,216.5 507.5,218.6 486.5,219.8 459.5,219.9 439.5,218.3 433.5,217.1 429.1,215.5 426,213.5 423.5,210.5 422.2,207.5 421.7,204.5 422.4,198.5 424.9,193.5 429.5,189.6 434.9,187.5 442.5,186 453.5,185ZM582.5,186.4 598.5,185.9 620.5,186.3 636.5,187.5 646.5,189.2 652.5,191.5 657.1,195.5 659.3,200.5 659.1,206.5 658,209.5 656.1,212.5 651.5,216.1 644.5,218.6 633.5,220.3 610.5,221.6 586.5,221.3 570.5,219.6 565.5,218.2 561.5,216.2 557.9,212.5 555.6,206.5 555.4,200.5 557.7,194.5 560.6,191.5 565.5,189.1 572.5,187.5ZM719.5,187.5 736.5,187.1 754.5,187.6 754.5,222 730.5,222.5 709.5,221.4 697.5,219.2 693.6,217.5 691,215.5 688.1,211.5 686.7,205.5 687.7,199.5 690.7,194.5 695,191.5 700.5,189.7 708.5,188.4ZM349.5,188.4 359.5,187.8 372.5,188.5 381.5,190.2 386.6,192.5 390.2,196.5 392.6,203.5 392.8,211.5 392.1,214.5 390.5,217.5 388.5,219.6 384.5,221.7 378.5,223.1 370.5,224 358.5,224.4 350.5,224 343.5,222.8 339.5,221 336.5,217.6 334.9,212.5 334.8,205.5 336,198.5 337.7,194.5 340.4,191.5 344.5,189.6ZM309.5,194.4 315.5,194.4 320.6,195.5 324.5,197.5 328,201.5 329.4,206.5 328.7,212.5 326.3,216.5 322.5,219.3 315.5,221.2 307.5,220.9 301.1,218.5 297.2,214.5 296,211.5 295.6,207.5 296.2,203.5 297.5,200.7 299.5,198.3 302.1,196.5 305.5,195.2Z"/>
<path fill="rgb(0,255,178)" d="M592.5,141.5 610.5,141.1 628.5,141.7 641.5,142.9 650.5,145 656.5,148.3 659.9,152.5 661,155.5 661.4,158.5 660.4,164.5 659,167.5 656.7,170.5 654.2,172.5 650.2,174.5 639.5,177 623.5,178.4 599.5,178.6 578.5,177.1 571.5,175.8 566.5,174.3 562.5,172.3 559.3,169.5 556.5,164.5 555.5,158.5 556.6,153.5 560.2,148.5 565.3,145.5 571.5,143.7 580.5,142.3ZM142.5,142.4 147.5,142.5 152.5,144.6 155.8,148.5 157.5,154.5 157.2,160.5 155.6,164.5 152.7,167.5 148.5,169.5 148.3,172.5 147.5,173.5 145.5,174.1 141.5,173.4 136.7,170.5 132.6,162.5 131.7,158.5 132.1,152.5 134,147.5 137.5,144.1ZM464.5,142.5 481.5,142.2 496.5,142.8 507.5,144 515.5,146 520.5,149 523.6,153.5 524.7,159.5 523.4,165.5 521.8,168.5 519.5,171 516.5,173 512.7,174.5 501.5,176.6 483.5,177.6 460.5,177.2 443.5,175.4 438.5,174.3 433.9,172.5 430.8,170.5 428.1,167.5 426,162.5 425.7,157.5 427.4,152.5 431,148.5 435.5,146.2 442.5,144.4 451.5,143.3ZM718.5,142.5 736.5,141.9 754.5,142.3 754.5,177.9 730.5,178.2 709.5,176.8 697.5,174.1 693.5,172.1 690.5,169.6 687.4,164.5 686.4,158.5 687.7,153.5 690.6,149.5 694.5,146.9 700.5,144.8 707.7,143.5ZM171.5,144.4 177.5,143.8 182.5,145 186.5,147.7 189,151.5 190.2,157.5 189.4,163.5 186.5,168.3 182.5,171 177.5,172.2 171.5,171.6 168.5,170.2 166.5,168.5 164,164.5 163.2,161.5 162.9,157.5 164,151.5 166.5,147.5 168.5,145.8ZM284.5,144.5 288.5,144 293.5,144.3 297.5,145.4 300.5,146.9 303.5,149.5 305.5,152.5 307.5,159.5 307.6,165.5 306.8,172.5 305.2,179.5 303,185.5 300.5,190.1 297.5,193.8 294.5,196 290.5,197.2 286.5,196.9 283.5,195.6 281,193.5 278.5,190.4 275.8,185.5 274,180.5 271.5,168.5 271.4,159.5 272.1,155.5 273.5,152.1 277.5,147.4 280.5,145.7ZM348.5,145.5 359.5,145.1 370.5,145.8 378.5,147.4 383.5,149.8 386.7,153.5 388.6,159.5 388.1,166.5 385.5,172.8 382.5,175.8 378.5,177.8 372.5,179.3 363.5,180.3 353.5,180.4 344.5,179.5 337.5,177.7 333.5,175.6 330.1,171.5 328.2,165.5 327.9,159.5 329.7,153.5 332,150.5 335.5,148.2 341.1,146.5ZM64.5,146.4 69.5,146.4 73.5,147.4 76.5,148.9 79.5,151.7 81.5,155 83.2,159.5 85.1,172.5 85.3,182.5 84.8,192.5 83.6,200.5 81.9,206.5 79.5,211.1 76.5,214.3 72.5,216.5 68.5,217.3 64.5,217.2 60.5,216 57.5,214.2 54.5,210.9 52.5,207 50.8,201.5 49.1,188.5 49.2,170.5 50.1,163.5 51.6,157.5 53.5,153.5 56.5,149.8 60.4,147.5ZM21.5,146.6 25.5,147.1 29.5,148.8 32.7,151.5 35.3,155.5 37.1,160.5 38.2,166.5 39.1,183.5 37.8,199.5 36.5,204.8 34.5,209.6 31.5,213.5 28.5,215.7 24.5,217 20.5,217.4 20.5,146.6ZM222.5,147.4 233.5,147.3 243.5,149.2 248.5,152 253.5,158.1 258.5,159.4 261.5,162.3 263.5,166.3 265.1,172.5 266,180.5 266.1,188.5 265.5,194.5 264.2,199.5 262.2,203.5 259.5,206 256.5,207 253.4,206.5 250.5,204.3 248.2,200.5 246.1,191.5 245.8,183.5 246.6,173.5 246.5,172.5 245.5,171.7 239.5,173.3 234.5,174.1 221.5,173.8 216.5,172.9 212.5,171.4 209.4,169.5 206.9,166.5 205.7,163.5 205.5,159.5 206.3,156.5 208.1,153.5 210.5,151.3 213.8,149.5ZM110.5,151.4 115.5,151.3 119.5,152.4 122.5,154.2 125.5,157.3 127.5,161 129.3,166.5 131.1,180.5 131,196.5 130,203.5 128.5,208.5 126.2,212.5 123,215.5 119.5,217.2 114.5,218.1 110.5,218 106.5,217.1 103.4,215.5 100.5,212.9 98.5,209.8 96.9,205.5 95.2,194.5 95.6,176.5 96.7,168.5 98.3,162.5 100.5,157.9 103.5,154.5 106.5,152.6ZM161.5,176.4 170.5,176.3 177.5,178.2 183.5,182.4 187.5,188.5 188.7,192.5 189.4,197.5 189.2,202.5 188.3,206.5 186.5,210.3 184.5,212.8 181.5,215.3 177.5,217.4 172.5,218.8 167.5,219.3 161.5,219 156.5,217.9 152.5,216.2 149.5,214.1 146.5,210.9 144.7,207.5 143.4,202.5 143.3,196.5 144.1,191.5 146.1,186.5 149,182.5 152.5,179.6 156.5,177.7ZM221.5,180.3 229.5,180.2 235.5,181.9 240.1,185.5 242.6,190.5 243,193.5 242.6,199.5 241.6,204.5 240,208.5 238.2,211.5 235.5,214.3 232.5,216.2 229.5,217.2 222.5,217.3 219.5,216.4 216.5,214.7 211.9,209.5 209.2,202.5 208.3,193.5 208.7,190.5 209.9,187.5 212.2,184.5 214.5,182.8 217.5,181.3ZM463.5,185.5 480.5,185.5 496.5,186.2 507.9,187.5 516.5,189.5 522.7,192.5 526.5,196.5 528.4,201.5 528.2,206.5 526.7,209.5 524.5,211.9 521.5,213.9 517.5,215.5 506.5,217.6 488.5,219 463.5,219.2 443.5,217.8 437.5,216.7 432.5,215.2 429.3,213.5 426.3,210.5 424.2,205.5 424.4,200.5 426.4,195.5 430.2,191.5 434.5,189.3 441.5,187.5 451.5,186.2ZM581.5,187.4 596.5,186.7 615.5,187 631.5,188 642.5,189.7 649.5,192.2 653.8,195.5 656.4,200.5 656.5,205.5 655.5,208.5 653.5,211.5 648.5,215.3 641.5,217.7 630.5,219.5 608.5,220.7 587.5,220.4 572.5,218.7 567.5,217.3 563.9,215.5 559.8,211.5 557.7,206.5 557.6,200.5 559.5,195.7 562.4,192.5 566.5,190.3 572.5,188.6ZM718.5,188.5 735.5,187.9 754.5,188.5 754.5,221.1 731.5,221.7 711.5,220.6 700.3,218.5 695.6,216.5 693,214.5 690.2,210.5 689,205.5 689.8,200.5 692.8,195.5 696.5,192.8 701.5,190.9 708.5,189.5ZM350.5,189.4 359.5,188.8 371.5,189.5 379.5,191.1 384.9,193.5 388.7,197.5 391.1,204.5 391.2,211.5 389.2,216.5 386.5,219.2 382.5,221.1 376.5,222.5 369.5,223.3 359.5,223.6 351.5,223.3 344.5,222 340.5,220.2 337.5,216.7 336,211.5 336,204.5 337.4,198.5 339.5,194.5 341.6,192.5 345.5,190.6ZM311.5,195.5 316.5,195.8 321.5,197.3 324.6,199.5 327.2,203.5 327.9,208.5 326.6,213.5 323.5,217 319.5,219.1 312.5,220.2 305.5,219.1 300.5,216.2 298.5,213.6 297.6,211.5 297.2,205.5 299.5,200.5 301.6,198.5 304.5,196.9Z"/>
<path fill="rgb(0,255,127)" d="M590.5,142.5 607.5,141.9 624.5,142.3 637.7,143.5 647.2,145.5 653.5,148.5 657.2,152.5 658.9,157.5 658.2,163.5 656.9,166.5 654.5,169.5 652,171.5 648,173.5 637.5,176.1 622.5,177.5 600.5,177.7 580.5,176.2 573.5,174.8 568.5,173.2 564.5,171.1 561.6,168.5 558.7,163.5 557.9,158.5 559.2,153.5 562.3,149.5 566.5,146.8 572.5,144.8 579.7,143.5ZM143.5,143.4 148.5,143.9 152.9,146.5 155.5,150.6 156.6,156.5 156.2,160.5 154.3,164.5 151.5,167 146.5,169.1 146,169.5 146.1,171.5 144.5,172.6 140.5,171.7 138,169.5 133.7,162.5 132.6,157.5 133.4,151.5 135.4,147.5 139.2,144.5ZM460.5,143.4 476.5,143 491.5,143.3 504.2,144.5 512.5,146.4 517.5,148.9 520.8,152.5 522.6,157.5 522,163.5 520.7,166.5 518.3,169.5 512.5,173 502.5,175.4 488.5,176.6 466.5,176.6 447.5,174.9 437.5,172.3 434.1,170.5 430.9,167.5 428.3,162.5 428,157.5 429.3,153.5 432.5,149.8 436.5,147.4 442.5,145.6ZM718.5,143.4 736.5,142.7 754.5,143.2 754.5,176.9 733.5,177.4 713.5,176.1 700.9,173.5 696.5,171.5 693.5,169.3 690.1,164.5 688.9,159.5 689.9,154.5 692.5,150.8 696.5,147.9 701.5,146 708.7,144.5ZM175.5,144.4 180.5,145 185.2,147.5 188.2,151.5 189.5,156.5 189,162.5 186.5,167.2 182.5,170.2 177.5,171.5 171.5,170.9 167.5,168.5 164.7,164.5 163.6,159.5 164,153.5 166.5,148.6 170.5,145.5ZM283.5,146.3 287.5,145.6 291.5,145.6 295.5,146.4 298.5,147.6 301.2,149.5 303.5,152.1 305.2,155.5 306.2,159.5 306.5,165.5 305.9,171.5 304.7,177.5 302.7,183.5 300.5,188 297.5,192 294.5,194.4 291.5,195.5 288.5,195.7 285.5,195 282.9,193.5 280.5,191.2 276.1,183.5 273,172.5 272.3,162.5 273.6,155.5 275.1,152.5 277.5,149.6 280.5,147.5ZM348.5,146.4 358.5,146 368.5,146.6 376.5,148.1 381.7,150.5 385.3,154.5 386.9,159.5 386.6,165.5 384.2,171.5 381.4,174.5 377.5,176.6 371.5,178.3 363.5,179.2 354.5,179.4 346.5,178.6 340.5,177.3 335.5,175 332.1,171.5 330,166.5 329.5,160.5 330.6,155.5 333.3,151.5 336.5,149.3 341.5,147.6ZM21.5,148.4 25.5,149 29.5,151 32.5,153.9 34.5,157.3 36.3,162.5 37.4,168.5 38.2,183.5 36.8,198.5 35.5,203.6 33.5,208.1 31.5,210.9 28.4,213.5 24.5,215.1 20.5,215.5 20.5,148.4ZM63.5,148.4 68.5,148 72.5,148.9 75.7,150.5 78.5,153.1 80.5,156.2 82.2,160.5 84.2,172.5 83.9,190.5 82.8,198.5 81.1,204.5 79.2,208.5 76.5,211.9 72.5,214.4 68.5,215.3 64.5,215.2 61.5,214.3 58.4,212.5 55.5,209.3 53.5,205.6 51.8,200.5 50.1,188.5 50.1,171.5 51,164.5 52.3,159.5 54.1,155.5 56.5,152.2 59.5,149.9ZM220.5,149.4 231.5,148.7 237.5,149.4 241.5,150.5 245.4,152.5 247.6,154.5 249.4,157.5 250.6,161.5 251.5,162.3 256.5,161.5 258.5,162.3 260.5,164.2 262.5,167.8 264.1,173.5 265,180.5 265.1,187.5 264.6,193.5 263.5,197.7 261.6,201.5 259.5,203.7 256.5,204.9 253.5,204.3 250.5,201.7 248.4,197.5 247.3,192.5 246.8,186.5 248.3,168.5 247.5,168 242.5,170.7 237.5,172.1 226.5,172.8 220.5,172.1 215.5,170.7 211.7,168.5 209.8,166.5 208.7,164.5 208,161.5 208.3,158.5 209.6,155.5 211.5,153.4 214.2,151.5ZM110.5,153.4 114.5,153.2 118.5,154.1 121.5,155.8 124.5,158.9 126.5,162.5 128.2,167.5 130.1,180.5 130,196.5 129.1,202.5 127.5,207.4 125.5,211 122.5,213.9 118.5,215.9 114.5,216.6 110.5,216.4 106.9,215.5 103.5,213.6 101.5,211.7 99.5,208.7 97.8,204.5 96.2,194.5 96.5,177.5 97.5,170.4 99.1,164.5 100.9,160.5 103.5,157 106.5,154.8ZM160.5,178.3 168.5,177.8 176,179.5 181.5,183 185.6,188.5 187,192.5 187.7,196.5 187.7,201.5 186.9,205.5 185.5,208.5 183.4,211.5 180.5,214 177.5,215.7 173.5,217 168.5,217.8 163.5,217.7 158.5,216.9 154.5,215.4 151.4,213.5 148.5,210.7 146.5,207.5 145.2,203.5 144.8,198.5 145.4,193.5 147,188.5 149.5,184.7 152.5,181.8 156.5,179.5ZM219.5,181.4 226.5,180.6 233.5,181.8 238.5,184.9 241.5,189.5 242.1,192.5 242.1,197.5 241.3,202.5 240,206.5 238.4,209.5 236,212.5 233.5,214.5 230.5,215.9 224.5,216.5 218.5,214.7 213.8,210.5 210.5,204 209.1,195.5 209.9,189.5 211.5,186.5 213.4,184.5 216.5,182.5ZM461.5,186.5 476.5,186.3 492.5,187 504.5,188.3 513.5,190.3 519.5,193 523.3,196.5 525.6,201.5 525.3,206.5 523.6,209.5 521.5,211.5 518.1,213.5 513.5,215.1 501.5,217.2 483.5,218.3 461.5,218.3 443.5,216.7 437.8,215.5 433.5,213.9 430.5,211.9 428.2,209.5 426.5,205.5 426.8,200.5 428.5,196.4 432.3,192.5 436.5,190.3 442.8,188.5ZM597.5,187.5 626,188.5 635.5,189.7 643.3,191.5 648.5,194 652.1,197.5 653.8,201.5 653.4,206.5 651.8,209.5 649.5,212 646.5,214.1 642.5,215.8 631.5,218.2 614.5,219.6 593.5,219.8 577.5,218.4 571.5,217.1 567.4,215.5 564.3,213.5 561.6,210.5 559.7,205.5 559.7,200.5 561.5,196.3 565.5,192.6 570.1,190.5 576.5,189.1 586.5,187.9ZM717.5,189.5 734.5,188.8 754.5,189.5 754.5,220.2 732.5,220.9 713.5,219.8 701.9,217.5 697.5,215.5 694.9,213.5 692.2,209.5 691.3,205.5 692.2,200.5 694.7,196.5 698.5,193.7 702.5,192 709.1,190.5ZM350.5,190.5 358.5,189.8 369.5,190.4 377.5,191.9 383.4,194.5 387.2,198.5 389.4,204.5 389.7,210.5 387.9,215.5 384.9,218.5 381.5,220.2 376.5,221.5 369.5,222.5 359.5,222.9 352.5,222.6 346.2,221.5 341.6,219.5 338.8,216.5 337.3,212.5 337,206.5 338.1,200.5 339.8,196.5 342.5,193.6 345.5,191.9ZM307.5,197.3 312.5,196.7 317.5,197.3 321.5,199 324.3,201.5 325.9,204.5 326.4,208.5 325.3,212.5 323,215.5 320.5,217.2 317.5,218.3 311.5,218.9 305.5,217.7 301,214.5 299.7,212.5 298.7,209.5 298.7,206.5 299.5,203.5 302.5,199.7Z"/>
<path fill="rgb(0,255,76)" d="M589.5,143.5 604.5,142.8 620.5,143 633.5,144 643.5,145.8 650.1,148.5 654.5,152.5 656.5,157.5 656,162.5 654.7,165.5 652.4,168.5 646.5,172.3 637.5,174.8 623.5,176.5 603.5,176.9 584.1,175.5 577.5,174.4 571.5,172.6 567.5,170.7 564.7,168.5 561.7,164.5 560.4,159.5 561,155.5 563.5,151.3 567,148.5 572.5,146.2 580.3,144.5ZM457.5,144.5 471.5,143.8 486.5,143.8 499.5,144.8 508.7,146.5 514.5,148.9 518.5,152.5 520.6,157.5 520.2,162.5 519,165.5 516.7,168.5 511.5,171.9 502.5,174.3 489.5,175.7 469.5,175.9 451.5,174.5 440.5,171.9 436.5,169.9 433.6,167.5 431.1,163.5 430.2,159.5 430.8,155.5 433.5,151.5 437.5,148.7 442.5,146.8ZM717.5,144.5 735.5,143.6 754.5,144.1 754.5,175.9 734.5,176.4 715.5,175.2 702.9,172.5 698.6,170.5 695.9,168.5 692.8,164.5 691.6,160.5 691.8,156.5 694,152.5 697.4,149.5 701.6,147.5 708.5,145.7ZM140.5,145.3 144.5,144.6 149.2,145.5 152.5,147.9 154.5,151.1 155.5,155.5 155.1,160.5 152.8,164.5 149.5,166.8 145.5,167.7 141.5,168 137.5,165.6 134.5,161.5 133.7,156.5 134.5,151.5 137.1,147.5ZM173.5,145.3 178.5,145.3 183.5,147.1 186.9,150.5 188.5,154.5 188.8,159.5 187.4,164.5 184,168.5 179.5,170.5 174.5,170.8 169.5,169.1 166.5,166.3 164.5,161.6 164.3,155.5 166,150.5 169.5,146.9ZM286.5,147.3 293.5,147.5 296.5,148.5 299.5,150.2 301.8,152.5 303.5,155.3 305.3,162.5 304.6,173.5 301.5,183.7 299.5,187.5 296.5,191.2 293.5,193.3 290.5,194.1 287.5,194 284.5,192.9 281.6,190.5 279.5,187.8 275.5,178.9 273.6,168.5 273.9,159.5 276.3,153.5 280.5,149.4ZM348.5,147.4 358.5,146.9 368,147.5 375.5,149.1 380.5,151.5 383.5,154.8 385.2,159.5 384.9,165.5 382.7,170.5 379.9,173.5 376.4,175.5 371.5,177 364.5,178.1 356.5,178.4 348.5,177.8 342.4,176.5 337.5,174.4 334.3,171.5 331.7,166.5 331,161.5 332,156.5 333.7,153.5 337.2,150.5 342.4,148.5ZM21.5,150.3 25.5,151 28.5,152.5 31.5,155.4 33.5,158.6 35.3,163.5 36.5,169.5 37.2,183.5 35.8,197.5 34.5,202.3 32.6,206.5 30.5,209.4 27.5,211.8 24.5,213.1 20.5,213.5 20.5,150.3ZM62.5,150.5 66.5,149.8 70.5,150.1 73.5,151.2 76.6,153.5 79,156.5 80.8,160.5 83.1,171.5 83.4,179.5 83.1,188.5 82.2,195.5 80.5,202.2 78.5,206.6 75.5,210.3 72.5,212.2 68.5,213.3 64.5,213.1 61.5,212.1 58.5,210.1 56.5,207.8 53.2,200.5 51.2,189.5 50.9,174.5 52.7,162.5 54.5,157.8 56.5,154.7 59.5,151.9ZM225.5,150.4 235.5,150.9 240.5,152.3 243.5,154.1 245.8,156.5 247.1,159.5 247.1,162.5 245.7,165.5 243.5,167.6 240,169.5 231.5,171.2 221.5,170.5 217.5,169.3 214.3,167.5 212.3,165.5 211,162.5 211,159.5 212.2,156.5 213.9,154.5 217.1,152.5 220.5,151.3ZM110.5,155.5 114.5,155.3 117.5,155.9 120.5,157.5 123.5,160.5 125.8,164.5 127.4,169.5 129.2,181.5 129.1,195.5 128.1,201.5 126.5,206.4 124.5,209.8 121.5,212.6 118.5,214.1 114.5,215 110.5,214.8 107.5,214 104.7,212.5 102.5,210.5 100.4,207.5 98.8,203.5 97.1,193.5 97.5,178.5 98.5,171.5 99.9,166.5 101.6,162.5 104.5,158.7 107.5,156.5ZM253.5,165.3 255.5,164.5 257.5,164.8 260.3,167.5 262.5,172.7 263.8,180.5 263.9,189.5 262.5,196.3 260.1,200.5 258.5,201.9 256.5,202.6 253.5,201.9 251.1,199.5 249.2,195.5 248.1,189.5 248.1,181.5 249.3,173.5 251,168.5ZM164.5,179.5 172.5,180.2 178.5,183 182.9,187.5 184.5,190.6 185.7,194.5 185.8,202.5 183.5,208.5 181.5,210.9 178.5,213.3 171.5,215.9 162.5,216.1 158.5,215.3 154.5,213.5 151.7,211.5 149.5,209.1 147.6,205.5 146.8,202.5 146.5,198.5 147.2,193.5 148.5,189.7 150.4,186.5 153.4,183.5 156.5,181.5 160.5,180.1ZM222.5,181.5 229.5,181.5 235.4,183.5 238.9,186.5 241.2,191.5 241,199.5 238.5,207.5 234.5,212.5 231.5,214.3 228.5,215.3 222.5,215.1 217.1,212.5 213,207.5 210.5,200.5 210,192.5 211.8,187.5 213.5,185.4 216.2,183.5ZM461.5,187.4 474.5,187.2 489.5,187.8 500.5,188.9 509.5,190.7 515.5,193 520,196.5 522.4,200.5 523,203.5 522.7,205.5 521.2,208.5 519.2,210.5 516.1,212.5 511.5,214.2 499.5,216.4 482.5,217.6 461.5,217.5 445.5,216 439.5,214.6 435.5,213.1 432.5,211.1 430.2,208.5 428.8,204.5 429.2,200.5 431.2,196.5 434.5,193.3 438.5,191.2 444.2,189.5ZM591.5,188.5 618.5,188.9 630.5,190 638.5,191.6 644.5,193.9 649,197.5 651,201.5 650.8,205.5 649.5,208.3 647.7,210.5 645.2,212.5 641.2,214.5 630.5,217.1 615.5,218.6 595.5,219 579.5,217.6 574.3,216.5 569.5,214.7 566.5,212.9 564.1,210.5 562.1,206.5 561.7,201.5 563.2,197.5 565.8,194.5 569.5,192.2 574.9,190.5 582.5,189.2ZM717.5,190.5 734.5,189.6 754.5,190.4 754.5,219.3 734.5,220 717.5,219.2 705.5,217.2 701,215.5 697.9,213.5 694.6,209.5 693.6,205.5 694.2,201.5 696.5,197.6 699.5,195.1 704.5,192.9ZM351.5,191.4 359.5,190.8 369.5,191.5 376.5,192.9 382,195.5 385.8,199.5 387.7,204.5 388.1,210.5 386.5,214.7 383.9,217.5 380.1,219.5 375.5,220.8 368.5,221.7 359.5,222.2 352.5,221.8 346.5,220.6 342.5,218.7 339.7,215.5 338.3,211.5 338.2,206.5 339.4,200.5 341.5,196.6 343.6,194.5 347.4,192.5ZM308.5,198.5 312.5,198 316.5,198.5 320.5,200.2 323,202.5 324.4,205.5 324.7,208.5 323.9,211.5 321.5,214.7 317.5,216.8 311.5,217.5 306.5,216.5 302.3,213.5 300.4,209.5 300.9,204.5 302,202.5 304.1,200.5Z"/>
<path fill="rgb(0,255,25)" d="M472.5,144.5 484.5,144.5 495.5,145.2 504,146.5 510.5,148.5 514.5,150.9 517.5,154.5 518.6,158.5 517.7,163.5 515.9,166.5 513.5,168.9 510.5,170.7 506.5,172.3 494.5,174.4 478.5,175.2 460.5,174.5 446.5,172.3 438.5,169 435.5,166.5 433.5,163.5 432.5,159.5 433.2,155.5 435.5,152.3 439.5,149.4 444.6,147.5 451.5,146.1ZM588.5,144.5 602.5,143.6 617.5,143.7 630.5,144.7 640.9,146.5 647.5,149.1 651.7,152.5 653.8,156.5 653.8,161.5 652.6,164.5 650.4,167.5 644.5,171.4 635.5,174 623.5,175.5 604.5,176 586.5,174.7 574.5,172.1 570.9,170.5 567.5,168.2 564.4,164.5 563,160.5 563.2,156.5 565.4,152.5 568.9,149.5 573.5,147.4 580.5,145.6ZM732.5,144.5 754.5,145 754.5,174.8 732.5,175.4 721.5,174.7 712.5,173.5 705.5,171.7 700.7,169.5 697.1,166.5 695.1,163.5 694.1,159.5 694.9,155.5 697,152.5 701.1,149.5 706.4,147.5 712.5,146.2ZM141.5,146.3 145.5,145.9 148.5,146.6 151.5,148.7 153.7,152.5 154.4,156.5 153.8,160.5 152.1,163.5 148.5,165.9 144.5,166.6 140.5,165.9 137.5,163.9 135.4,160.5 134.8,156.5 135.9,151.5 137.9,148.5ZM172.5,146.3 177.5,145.9 181.5,146.9 185.2,149.5 187.5,153.5 188.2,158.5 187.1,163.5 184.5,167.2 180.5,169.5 175.5,170.2 171.5,169.4 167.6,166.5 165.5,162.8 164.8,157.5 165.8,152.5 168.5,148.5ZM348.5,148.4 357.5,147.8 366.5,148.3 373.5,149.7 378.5,152 381.9,155.5 383.4,159.5 383.3,164.5 381.3,169.5 378.5,172.5 375.1,174.5 369.5,176.2 363.5,177.1 356.5,177.3 349.5,176.8 343.5,175.5 339,173.5 335.7,170.5 333.5,166.5 332.7,161.5 333.4,157.5 335.5,153.9 338.4,151.5 342.5,149.7ZM285.5,149.2 292.5,149.1 295.5,149.9 298.3,151.5 300.5,153.6 302.3,156.5 304,162.5 304.2,167.5 303.5,173.5 300.5,183.3 296.3,189.5 293.5,191.6 290.5,192.5 287.5,192.4 285.5,191.7 282.5,189.5 280.5,187.1 276.8,179.5 274.9,170.5 274.8,162.5 276.5,156.4 278.4,153.5 280.5,151.5ZM21.5,152.3 24.5,152.8 28,154.5 30.5,156.9 32.5,160 34.2,164.5 35.3,169.5 36.2,182.5 34.9,195.5 33.6,200.5 31.9,204.5 29.7,207.5 27.4,209.5 24.5,210.9 20.5,211.4 20.5,152.3ZM62.5,152.5 65.5,151.7 69.5,151.8 73.5,153.3 76.2,155.5 78.5,158.7 80.1,162.5 82.1,172.5 82.1,187.5 81.2,194.5 79.6,200.5 77.8,204.5 75.5,207.6 72.5,209.9 68.5,211.2 65.5,211.2 62.5,210.3 59.6,208.5 57.5,206.2 54.3,199.5 52.3,189.5 51.9,175.5 53.5,164.4 55.3,159.5 57.2,156.5 59.5,154.2ZM225.5,152.5 233.5,152.6 237.5,153.7 240.5,155.2 242.8,157.5 243.7,159.5 243.6,162.5 242.6,164.5 238.5,167.6 231.5,169.3 223.5,168.8 217.5,166.5 215.4,164.5 214.4,162.5 214.3,159.5 215.2,157.5 218.7,154.5ZM111.5,157.5 115.5,157.6 118.5,158.7 121.5,161 123.5,163.6 125.5,167.8 126.8,172.5 128.3,185.5 127.7,197.5 126.6,202.5 124.8,206.5 122.6,209.5 120.1,211.5 117.5,212.7 113.5,213.3 107.5,212.1 104.5,210.2 102.5,208 99.5,201.4 98.1,191.5 98.7,177.5 99.8,171.5 101.4,166.5 103.5,162.7 105.5,160.4 108.5,158.4ZM254.5,168.3 257.5,168.3 259.6,170.5 261.5,175.1 262.6,182.5 262.6,189.5 261.5,194.4 259.5,198.1 256.5,199.9 253.5,199.1 251.5,196.7 250.2,193.5 249.3,188.5 249.4,181.5 250.5,175.1 252.5,170.3ZM163.5,181.4 170.5,181.6 176.5,184 180.5,187.5 183.5,193.5 184.2,200.5 182.5,206.5 178.5,211.1 172.5,214 164.5,214.7 157.5,213.1 152.3,209.5 150.1,206.5 148.9,203.5 148.3,199.5 148.6,195.5 149.8,191.5 151.4,188.5 153.5,186 156.5,183.7 159.5,182.3ZM221.5,182.3 228.5,182 233.9,183.5 237.9,186.5 239.3,188.5 240.4,191.5 240.2,199.5 238,206.5 234.5,211.2 229.5,213.9 223.5,214.2 218.5,212.2 214.5,208.2 211.6,201.5 210.7,193.5 212.1,188.5 215.9,184.5ZM460.5,188.5 472.5,188.1 486.5,188.6 497.5,189.7 506.8,191.5 513.5,194.2 517.5,197.4 519.8,201.5 519.8,205.5 518,208.5 515.7,210.5 509,213.5 498.5,215.5 481.5,216.8 462.5,216.7 447.5,215.3 437.9,212.5 434.8,210.5 432.8,208.5 431.4,205.5 431.4,201.5 433.2,197.5 436.2,194.5 439.6,192.5 445.5,190.5ZM589.5,189.5 600.5,189.1 615.5,189.6 627.5,190.7 636.5,192.5 641.7,194.5 645.8,197.5 648.1,201.5 647.8,205.5 646.2,208.5 644.3,210.5 638.5,213.7 628.5,216.2 614.5,217.7 596.5,218.1 582.5,217 572.7,214.5 569,212.5 566.7,210.5 564.3,206.5 563.8,202.5 564.9,198.5 567.4,195.5 570.5,193.4 575.8,191.5ZM734.5,190.5 754.5,191.4 754.5,218.3 731.5,219.2 721.5,218.7 712.5,217.5 707.5,216.4 702.5,214.4 698.6,211.5 696.6,208.5 695.9,204.5 697.1,200.5 699.5,197.5 703.5,194.9 708.5,193.1 715.5,191.7ZM352.5,192.3 359.5,191.8 368.5,192.4 375.5,194 380.5,196.4 383.7,199.5 386,204.5 386.4,210.5 384.7,214.5 382.5,216.7 378.5,218.9 373.5,220.2 366.5,221.1 358.5,221.4 352.5,221 347.5,219.9 343.5,218 341.1,215.5 339.5,211.5 339.4,206.5 340.4,201.5 341.8,198.5 344.5,195.5 348.2,193.5ZM308.5,200.2 311.5,199.6 315.5,199.9 318.5,201 320.5,202.5 322.4,205.5 322.7,208.5 321.7,211.5 320.1,213.5 316.2,215.5 311.5,216 307.5,215 304,212.5 302.4,209.5 302.6,205.5 304.5,202.5Z"/>
<path fill="rgb(26,255,0)" d="M602.5,144.5 615.5,144.5 626.5,145.2 635.5,146.5 642.5,148.5 647.5,151.3 650.4,154.5 651.6,158.5 650.9,162.5 649.2,165.5 646.5,168.1 639.5,171.6 627.5,174 611.5,175 594.5,174.5 580.5,172.3 575.5,170.7 571.5,168.7 568.8,166.5 566.7,163.5 565.5,159.5 566.2,155.5 568.3,152.5 572.5,149.5 577.5,147.6 583.5,146.2ZM466.5,145.5 489.5,145.6 499.5,146.7 507,148.5 512.5,151.4 515.2,154.5 516.5,158.5 515.9,162.5 514.3,165.5 512.4,167.5 506.5,170.9 496.5,173.2 482.5,174.3 464.5,173.9 450.5,172 445.1,170.5 441.5,168.8 438.5,166.7 436.6,164.5 435,160.5 435.3,156.5 437.1,153.5 440.5,150.7 444.5,148.9 449.5,147.5ZM729.5,145.5 742.5,145.3 754.5,146 754.5,173.7 734.5,174.5 715.5,172.8 709.5,171.4 704.5,169.5 700.5,166.7 697.9,163.5 696.8,159.5 697.2,156.5 699.1,153.5 703,150.5 707.5,148.6 712.5,147.4ZM143.5,147.4 147.5,147.8 150.2,149.5 152.3,152.5 153,155.5 152.8,159.5 151.5,162.1 148.5,164.5 145.5,165.3 142.5,165.1 139.5,163.8 137.3,161.5 136.2,158.5 136.3,154.5 137.5,151.4 140.3,148.5ZM171.5,147.4 175.5,146.5 180.5,147.3 184.1,149.5 186.3,152.5 187.4,156.5 187,161.5 185,165.5 181.5,168.3 177.5,169.4 172.5,169 168.5,166.5 166.5,163.5 165.4,158.5 166.1,153.5 168.5,149.5ZM348.5,149.5 356.5,148.8 364.5,149.1 371.5,150.4 376.5,152.5 379.8,155.5 381.6,159.5 381.5,164.5 379.8,168.5 377.1,171.5 373.7,173.5 369.5,174.9 363.5,175.9 356.5,176.2 350.5,175.7 344.9,174.5 340.5,172.6 337.5,170 335.4,166.5 334.5,162.5 334.9,158.5 336.5,155.3 339.5,152.5 343.5,150.7ZM284.5,151.4 290.5,150.6 293.5,151.2 296.5,152.5 300.5,156.5 302.6,162.5 303,167.5 302.5,172.5 300,181.5 297.8,185.5 295.5,188.2 293.5,189.7 290.5,190.8 287.5,190.6 285.5,189.8 281.5,186.2 278.4,180.5 276.3,172.5 275.9,164.5 277.3,158.5 280.5,153.8ZM21.5,154.4 24.5,154.9 27.5,156.6 29.5,158.5 31.5,161.6 34.2,170.5 35.1,182.5 33.8,194.5 31.1,202.5 29,205.5 26.5,207.6 23.5,208.9 20.5,209.2 20.5,154.4ZM63.5,154.2 66.5,153.6 70.5,154.1 73.5,155.6 75.6,157.5 77.7,160.5 79.3,164.5 81.1,174.5 80.8,188.5 79.9,194.5 78.4,199.5 76.5,203.3 73.8,206.5 70.5,208.4 67.5,209 64.5,208.7 61.8,207.5 59.5,205.6 57.5,203 54.6,195.5 53.1,185.5 53.1,173.5 54.9,164.5 56.5,160.5 58.5,157.6 60.5,155.7ZM224.5,155.5 230.5,155 236.1,156.5 237.5,157.5 239,159.5 239,162.5 236.5,165 232.5,166.5 227.5,166.7 222.3,165.5 219.6,163.5 218.7,160.5 220.5,157.5ZM109.5,160.4 112.5,159.7 115.5,159.9 118.5,161.2 121.1,163.5 123.2,166.5 124.9,170.5 126.9,180.5 127.2,192.5 126.5,197.6 125.1,202.5 123,206.5 120.5,209.1 117.5,210.8 114.5,211.5 111.5,211.5 108.5,210.7 104.2,207.5 100.9,201.5 99.3,193.5 99.5,180.9 101.5,170.6 104.5,164.4 106.5,162.2ZM255.5,172.3 257.5,172.8 259.5,175.8 260.6,179.5 261.1,184.5 261,188.5 260.1,192.5 258.5,195.3 256.5,196.6 254.5,196.2 252.5,193.9 251.3,190.5 250.9,186.5 251.3,180.5 252.3,176.5 253.5,173.9ZM163.5,183.4 169.5,183.5 175,185.5 179.4,189.5 181.7,194.5 182.3,200.5 180.5,206 176.5,210.2 171.5,212.4 164.5,213 158.4,211.5 153.5,207.9 151.8,205.5 150.7,202.5 150.3,199.5 150.7,195.5 153.2,189.5 157.5,185.5ZM220.5,183.2 226.5,182.5 232.5,183.7 236.9,186.5 239.3,190.5 239.9,193.5 239.7,197.5 238,204.5 234.5,209.8 232.3,211.5 229.5,212.8 224.5,213.2 219.4,211.5 215.2,207.5 212.5,201.6 211.5,194.5 212.5,189.5 215.5,185.7ZM460.5,189.5 471.5,189.1 484.7,189.5 495.5,190.6 504.5,192.4 509.9,194.5 514.2,197.5 516.7,201.5 516.7,205.5 515.6,207.5 513.5,209.5 510,211.5 505.5,213 493.5,215.1 477.5,216 461.5,215.8 448.5,214.3 439.5,211.5 436.6,209.5 434.8,207.5 433.7,204.5 433.9,201.5 435.5,198.2 438.5,195.2 442.5,193 447.1,191.5ZM588.5,190.5 599.5,190 612.5,190.3 624.5,191.4 632.5,192.9 638.5,195 642.4,197.5 644.7,200.5 645.1,204.5 644.3,206.5 642.5,208.9 637,212.5 628.5,215 616.5,216.6 599.5,217.2 586.5,216.4 576.5,214.4 572.2,212.5 569.5,210.5 567.1,207.5 566,203.5 566.4,200.5 568.5,197.1 571.8,194.5 575.5,192.9 581,191.5ZM729.5,191.5 742.5,191.5 754.5,192.5 754.5,217.3 734.5,218.3 717.5,217.2 711.5,216.1 706.3,214.5 702.7,212.5 699.7,209.5 698.5,206.5 698.7,202.5 700.4,199.5 703.9,196.5 708.4,194.5 713.5,193.2ZM352.5,193.5 358.5,192.8 367.5,193.4 373.5,194.7 378.5,197 382.3,200.5 384.2,204.5 384.8,209.5 383.4,213.5 380.5,216.4 377.5,218 367.5,220.2 354.5,220.4 349.4,219.5 344.8,217.5 342.5,215.3 340.8,211.5 340.5,207.5 341.4,202.5 342.8,199.5 345.5,196.5 348.5,194.7ZM308.5,202.4 313.5,201.6 316.5,202.4 318.2,203.5 319.8,205.5 320.3,207.5 320,209.5 318.8,211.5 315.7,213.5 312.5,214 309.3,213.5 306.5,211.8 305,209.5 304.9,206.5 305.8,204.5Z"/>
<path fill="rgb(77,255,0)" d="M600.5,145.5 611.5,145.3 622.5,145.8 631.5,146.9 638.5,148.6 644.5,151.4 647.5,154.4 648.9,157.5 648.6,161.5 647,164.5 645.2,166.5 642.4,168.5 638,170.5 627.5,172.9 612.5,174 595.8,173.5 582.8,171.5 574.8,168.5 572,166.5 569.5,163.5 568.2,159.5 568.5,156.5 570.4,153.5 574.3,150.5 579.1,148.5 584.5,147.2ZM464.5,146.5 486.5,146.2 496.5,147.2 503.5,148.6 508.2,150.5 512.1,153.5 514.2,157.5 514,161.5 512.6,164.5 510.9,166.5 508.2,168.5 504.5,170.2 494.5,172.5 481.5,173.5 465.5,173 452.5,171.3 444.3,168.5 441.3,166.5 438.6,163.5 437.4,160.5 437.5,157.4 438.9,154.5 442.4,151.5 450.5,148.4ZM729.5,146.4 742.5,146.3 754.5,147 754.5,172.5 736.5,173.4 718.5,172 711.8,170.5 706.7,168.5 703.6,166.5 700.9,163.5 699.7,160.5 699.8,157.5 701.3,154.5 705,151.5 709.5,149.5 714.5,148.2ZM174.5,147.3 178.5,147.5 182.5,149.2 184.8,151.5 186.5,155.5 186.7,159.5 185.4,163.5 182.5,166.8 178.5,168.5 174.5,168.7 170.5,167.1 167.9,164.5 166.3,160.5 166.3,155.5 167.9,151.5 170.5,148.9ZM142.5,149.4 145.5,149.1 147.5,149.7 149.7,151.5 151.3,154.5 151.6,157.5 150.7,160.5 148.8,162.5 146.5,163.6 143.5,163.7 140.5,162.6 138.5,160.5 137.8,158.5 137.7,155.5 138.5,153 140.5,150.5ZM349.5,150.4 356.5,149.8 363.5,150.1 369.5,151.1 374.5,153.1 377.6,155.5 379.7,159.5 379.7,163.5 378.2,167.5 375.6,170.5 372.5,172.4 368.5,173.8 363.5,174.7 357.5,175.1 351.5,174.7 346.3,173.5 341.8,171.5 338.6,168.5 337,165.5 336.3,161.5 336.8,158.5 338.5,155.5 340.8,153.5 344.5,151.7ZM285.5,153.1 288.5,152.5 291.5,152.7 296,154.5 299.6,158.5 301.4,164.5 301.3,172.5 299,180.5 295.5,186 293.5,187.7 290.5,188.9 286.5,188.4 282.5,185.1 279.5,179.9 277.5,172.5 277.3,165.5 278.5,160 281.5,155.5ZM63.5,156.4 66.5,155.7 69.5,156 72.5,157.3 74.5,159 76.5,161.7 78.2,165.5 79.9,174.5 79.7,187.5 77.5,197.5 75.5,201.5 73.5,203.9 70.5,205.9 67.5,206.6 64.5,206.2 62.5,205.3 58.5,201.2 55.8,194.5 54.3,185.5 54.2,175.5 55.7,166.5 58.5,160.5 60.5,158.2ZM21.5,156.6 24.5,157.3 26.5,158.4 28.7,160.5 30.6,163.5 33.1,171.5 33.9,182.5 32.9,192.5 30.2,200.5 28.1,203.5 25.7,205.5 23.5,206.5 20.5,206.9 20.5,156.6ZM111.5,162.3 114.5,162.2 117.5,163.3 121.5,167.2 124.5,174.5 126,185.5 125.6,195.5 123.5,202.5 121.7,205.5 119.5,207.6 116.5,209.1 113.5,209.7 108.4,208.5 105.6,206.5 104,204.5 101.4,198.5 100.3,190.5 100.9,179.5 103.2,170.5 106.5,165.2 108.6,163.5ZM255.5,179.9 256.5,179.9 257.5,181.2 258.2,184.5 257.9,188.5 256.5,190.7 255.5,190.7 254.5,189.7 253.7,186.5 254.1,182.5ZM222.5,183.5 227.5,183.2 232.6,184.5 236.7,187.5 238.8,191.5 238.8,198.5 236.5,205.4 233.3,209.5 228.5,211.9 223.5,212 218.5,209.6 215.1,205.5 212.9,199.5 212.4,193.5 213.5,189.3 217.2,185.5ZM165.5,185.4 170.5,186 175.2,188.5 178.5,192.5 180,197.5 179.6,202.5 177.4,206.5 173.5,209.5 168.5,211 162.5,210.7 157.5,208.6 154.4,205.5 152.6,200.5 153,195.5 155.5,190.4 159.5,187.1ZM461.5,190.5 471.5,190.1 483.5,190.5 493.4,191.5 501.5,193.2 506.5,195 510.6,197.5 513.1,200.5 513.9,204.5 513,206.5 511.2,208.5 508,210.5 504.5,211.8 494.5,213.9 479.5,215.1 463.5,215.1 450.5,213.6 442.5,211.2 439.7,209.5 437.6,207.5 436.3,204.5 436.6,201.5 438.1,198.5 440.5,196.2 443.5,194.4 448.7,192.5ZM588.5,191.5 598.5,190.9 610.5,191.2 621.5,192.1 629.4,193.5 635.5,195.5 639.5,198 641.9,201.5 642,204.5 639.4,208.5 633.5,212 624.5,214.4 612.5,215.8 598.5,216.2 586.5,215.3 577.5,213.2 573.9,211.5 571.3,209.5 569.1,206.5 568.3,203.5 568.8,200.5 570.8,197.5 573.3,195.5 577.5,193.6ZM728.5,192.5 742.5,192.5 754.5,193.6 754.5,216.2 736.5,217.4 719.5,216.4 713.5,215.3 707.9,213.5 704.5,211.5 701.8,208.5 700.9,205.5 701.3,202.5 703.3,199.5 705.7,197.5 709.9,195.5 714.5,194.2ZM353.5,194.4 359.5,193.9 366.7,194.5 372.5,195.8 377.5,198.2 380.8,201.5 382.6,205.5 383,209.5 381.5,213.3 379.4,215.5 375.5,217.5 365.5,219.5 353.5,219.4 349.4,218.5 345.5,216.6 342.9,213.5 341.9,210.5 341.9,206.5 342.9,202.5 344.5,199.5 346.5,197.4 349.5,195.7ZM310.5,205.5 312.5,205 314.6,205.5 316,207.5 315.3,209.5 312.5,210.6 309.7,209.5 309,207.5Z"/>
<path fill="rgb(128,255,0)" d="M599.5,146.5 610.5,146.2 620.5,146.6 629.5,147.7 636.5,149.4 641.1,151.5 644.7,154.5 646.1,157.5 645.8,161.5 644.8,163.5 642.5,166 636.1,169.5 626.5,171.8 612.5,173 597.5,172.5 585.5,170.7 577.5,167.8 574.5,165.7 572.5,163.5 571.1,160.5 571.1,157.5 572.6,154.5 576.2,151.5 584.5,148.4ZM463.5,147.4 474.5,146.8 485.5,147 494.5,147.8 502.2,149.5 506.9,151.5 510.5,154.5 512,157.5 511.7,161.5 510.5,163.9 508.5,166.1 502.4,169.5 493.5,171.6 481.5,172.6 467.5,172.2 454.6,170.5 446,167.5 441.3,163.5 440,160.5 440,157.5 441.7,154.5 444,152.5 451.5,149.4ZM729.5,147.5 742.5,147.2 754.5,148.1 754.5,171.3 737.5,172.4 720.5,171 713.9,169.5 709.5,167.8 706,165.5 703.5,162.5 702.5,159.5 702.7,157.5 704.6,154.5 707.1,152.5 711.3,150.5 715.5,149.3ZM173.5,148.3 177.5,148.1 180.5,149 183.5,151.2 185.4,154.5 186,158.5 185,162.5 182.8,165.5 179.5,167.4 175.5,168 171.5,166.8 168.8,164.5 167.3,161.5 166.8,157.5 167.7,153.5 169.7,150.5ZM144.5,151.5 147.5,152.5 148.9,154.5 149.5,156.5 149.2,158.5 147.9,160.5 144.5,161.7 141.3,160.5 140,158.5 139.8,156.5 140.3,154.5 141.5,152.7ZM350.5,151.4 356.5,150.9 362.5,151.1 368.5,152.2 372.5,153.7 376,156.5 377.6,159.5 377.6,163.5 376.5,166.5 374.5,169 371.5,171.1 367.5,172.6 362.5,173.5 352.5,173.5 347.5,172.4 343.5,170.5 341,168.5 339.1,165.5 338.3,161.5 338.9,158.5 340.1,156.5 342.5,154.3 346.2,152.5ZM285.5,155.4 290.5,154.7 294.5,156.1 297.9,159.5 299.8,164.5 300,171.5 298.3,178.5 296.5,182.1 294.6,184.5 292.5,186.1 290.5,186.8 286.5,186.2 283.5,183.7 280.5,178.5 278.9,172.5 278.7,166.5 279.9,161.5 282.4,157.5ZM64.5,158.4 67.5,158 69.8,158.5 72.5,160 74.5,162 77.5,168.4 78.8,176.5 78.5,186.5 76.5,195.5 74.5,199.4 72.5,201.8 70.5,203.1 67.5,204 63.5,203 61.5,201.6 59.5,199.1 56.8,192.5 55.4,183.5 55.6,174.5 57.3,166.5 60.5,161.1ZM21.5,159.1 24.5,160 26.5,161.3 29.6,165.5 31.8,172.5 32.6,182.5 31.5,191.9 29.1,198.5 25.5,202.8 23.5,203.8 20.5,204.2 20.5,159.1ZM110.5,165.4 112.5,164.9 115.5,165.2 117.5,166.2 119.8,168.5 121.7,171.5 123.1,175.5 124.6,184.5 124.5,193.5 122.5,200.8 120.5,204 118.5,205.8 116.5,206.9 113.5,207.5 109,206.5 105.5,203.5 103,198.5 101.7,191.5 102,182.5 103.6,174.5 106.5,168.6ZM221.5,184.4 227.5,183.9 232.5,185.3 235.7,187.5 237.9,191.5 238,197.5 236.4,203.5 232.8,208.5 228.5,210.8 223.5,210.8 219.5,209 216.3,205.5 214,200.5 213.2,194.5 213.9,190.5 217.1,186.5ZM163.5,188.5 167.5,188.2 171.5,189.4 174.5,191.6 176.5,194.8 177.3,198.5 176.7,202.5 174.8,205.5 171.5,207.7 167.5,208.7 162.5,208.2 158.5,206.1 155.9,202.5 155.3,198.5 156.7,193.5 159.5,190.4ZM463.5,191.4 482.5,191.5 491.4,192.5 498.5,193.9 503.5,195.7 507.9,198.5 510.1,201.5 510.5,204.5 509.6,206.5 507.4,208.5 500.5,211.5 489.5,213.5 476.5,214.3 462.5,214 451.1,212.5 444.5,210.3 441.6,208.5 439.9,206.5 439.1,204.5 439.4,201.5 441.2,198.5 443.6,196.5 447.5,194.5 451.5,193.2ZM589.5,192.4 598.5,191.8 609.5,192.1 619.5,193 627.5,194.5 633.2,196.5 636.4,198.5 638.6,201.5 638.6,204.5 637.6,206.5 635.7,208.5 630,211.5 621.5,213.6 609.5,214.9 596.5,215.1 586.5,214.1 578.5,212 573.2,208.5 571.3,205.5 570.8,202.5 571.5,200.2 573.5,197.7 579.5,194.4ZM729.5,193.5 742.5,193.5 754.5,194.8 754.5,215 737.5,216.4 721.5,215.6 715.5,214.5 710.5,212.9 706.5,210.5 704.7,208.5 703.5,205.5 704.1,202.5 705.5,200.3 708.5,198 716.5,195.1ZM354.5,195.5 359.5,195.1 365.5,195.6 371.5,197 375.5,198.9 378.5,201.5 380.7,205.5 381.1,209.5 380,212.5 378.2,214.5 374.7,216.5 366.4,218.5 355.5,218.8 350.5,217.8 347.5,216.5 345.2,214.5 343.5,211.5 343.1,207.5 344,203.5 345.5,200.6 347.5,198.5 350.5,196.7Z"/>
<path fill="rgb(179,255,0)" d="M600.5,147.4 618.5,147.5 626.9,148.5 633.5,150 638.5,152.2 641.5,154.5 643.2,157.5 643.1,160.5 641.6,163.5 639.6,165.5 634.1,168.5 624.5,170.8 612.5,171.8 598.5,171.4 586.6,169.5 579.2,166.5 575,162.5 573.9,159.5 574.1,157.5 575.8,154.5 578.3,152.5 582.5,150.5 586.5,149.3ZM462.5,148.5 472.5,147.7 482.5,147.7 491.5,148.4 498.5,149.7 503.7,151.5 507.5,154.2 509.6,157.5 509.6,160.5 508.5,163.1 506.5,165.4 501.5,168.3 493.5,170.5 483.5,171.5 469.5,171.4 457.5,169.9 449.7,167.5 446.3,165.5 444.2,163.5 443,161.5 442.5,158.5 443.5,155.9 445.5,153.8 452.2,150.5ZM730.5,148.5 743.5,148.3 754.5,149.4 754.5,169.9 739.5,171.2 723.5,170.1 713.5,167.5 709.8,165.5 706.8,162.5 705.7,159.5 706,157.5 707.1,155.5 709.5,153.4 713.4,151.5 717.5,150.3ZM173.5,149.2 177.5,149 180.5,149.9 182.6,151.5 184.5,154.5 185.1,158.5 184.5,161.6 182.5,164.6 179.5,166.5 175.5,167.1 172.5,166.4 169.9,164.5 168.2,161.5 167.6,157.5 168.5,153.6 170.5,150.9ZM352.5,152.4 357.5,152.1 363.5,152.5 368,153.5 371.5,155.1 374.2,157.5 375.2,159.5 375.5,162.5 374.5,165.6 373.1,167.5 370.5,169.6 366.5,171.2 362.5,172.1 353.5,172.2 349.5,171.3 345.3,169.5 342.9,167.5 341,164.5 340.5,161.5 341.2,158.5 342.7,156.5 345.4,154.5ZM287.5,157.4 291.5,157.5 295,159.5 297.5,163.4 298.4,167.5 298,173.5 296.5,178.5 293.5,182.7 291.5,184 289.5,184.4 286.5,183.6 283.5,180.6 281.5,176.4 280.5,171.5 280.5,166.5 281.7,162.5 283.8,159.5ZM64.5,161.2 66.5,160.7 69.5,161.1 71.5,162.2 73.5,164.2 76.1,169.5 77.3,176.5 77.1,185.5 75.2,193.5 73.5,196.9 71.5,199.2 69.5,200.5 67.5,201 63.5,199.8 60.5,196.6 58.3,191.5 56.9,183.5 57,175.5 58.5,168.5 61.3,163.5ZM21.5,162 25.5,163.7 28.5,167.8 30.5,174.5 31.1,182.5 30.1,190.5 27.8,196.5 24.5,200.2 20.5,201.3 20.5,162ZM111.5,168.2 115.5,168.4 117.5,169.7 119.5,172 122.1,178.5 123.2,186.5 122.9,193.5 121.1,199.5 119.5,202 117.5,203.8 113.5,205.1 109.5,204.2 106.5,201.5 104.1,196.5 103.2,190.5 103.5,182.5 105.2,175.5 108.1,170.5ZM221.5,185.2 226.5,184.6 231.5,185.6 235.4,188.5 237,191.5 237.2,197.5 235.5,203.1 232.5,207.3 228.5,209.5 224.5,209.8 220.5,208.2 217.5,205.4 215,200.5 214.1,194.5 214.9,190.5 217.5,187.2ZM164.5,192.3 167.5,192.2 169.5,192.8 171.5,194.3 172.9,196.5 173.4,199.5 172.9,201.5 171.5,203.5 169.5,204.8 166.5,205.4 163.5,204.9 161.1,203.5 159.6,201.5 159.2,198.5 160.2,195.5 162,193.5ZM465.5,192.5 482.5,192.8 496.5,195.1 501.5,197 505,199.5 506.5,201.6 506.9,204.5 505.8,206.5 503.5,208.3 497.5,210.8 487.5,212.5 473.5,213.4 462.5,213 452.5,211.5 445.5,208.7 442.4,205.5 442,203.5 442.9,200.5 444.6,198.5 447.5,196.5 455.5,193.8ZM590.5,193.4 598.5,192.9 608.5,193.1 617.5,193.9 624.5,195.3 630.5,197.4 633.6,199.5 635,201.5 635,204.5 633.8,206.5 631.5,208.5 626.5,210.8 618.5,212.7 607.5,213.9 596.5,214 586.5,212.8 579.5,210.6 575.3,207.5 574,205.5 573.5,202.5 574.1,200.5 575.7,198.5 580.9,195.5ZM730.5,194.5 743.5,194.7 754.5,196.2 754.5,213.6 739.5,215.3 723.5,214.7 717.1,213.5 712.5,211.9 708.7,209.5 707.1,207.5 706.4,205.5 707.1,202.5 708.6,200.5 711.3,198.5 719.5,195.8ZM356.5,196.5 362.3,196.5 367.5,197.3 371.5,198.6 374.8,200.5 377.5,203.4 378.8,206.5 379,209.5 377.7,212.5 375.5,214.5 372.5,216 363.5,217.8 357.5,218 353.5,217.5 350.2,216.5 347.5,214.9 345.5,212.6 344.7,210.5 344.6,207.5 345.6,203.5 347.5,200.5 349.5,198.8 352.5,197.4Z"/>
<path fill="rgb(230,255,0)" d="M601.5,148.5 617.5,148.6 630.5,150.7 635.1,152.5 638,154.5 640,157.5 640,160.5 639,162.5 637.1,164.5 631.5,167.6 622.5,169.7 610.5,170.7 599.5,170.3 589,168.5 581.7,165.5 579.2,163.5 577.8,161.5 577.1,158.5 577.7,156.5 579.3,154.5 582.3,152.5 590.5,149.9ZM463.5,149.4 481.5,148.6 490.5,149.3 496.8,150.5 502.2,152.5 505,154.5 507,157.5 507.1,160.5 504.5,164.5 499.6,167.5 492.3,169.5 482.5,170.6 470.5,170.4 459.5,169 451.6,166.5 447.3,163.5 445.9,161.5 445.4,158.5 446.1,156.5 447.9,154.5 453.6,151.5ZM734.5,149.5 744.5,149.6 754.5,150.8 754.5,168.3 740.5,169.8 725.5,168.9 719.5,167.6 715.5,166.2 712.5,164.4 709.9,161.5 709.3,159.5 709.5,157.5 710.9,155.5 713.7,153.5 722.5,150.7ZM173.5,150.2 176.5,149.8 179.5,150.5 182.3,152.5 183.5,154.5 184.2,157.5 183.5,161.5 182.3,163.5 179.5,165.5 176.5,166.2 173.5,165.8 170.5,163.8 169.1,161.5 168.4,158.5 169.1,154.5 170.5,152.2ZM356.5,153.5 365.5,154.4 368.5,155.6 371.2,157.5 372.5,159.5 372.9,161.5 372.2,164.5 370.8,166.5 366,169.5 358.5,170.8 350.5,169.8 345.5,167 343.7,164.5 343.1,162.5 343.4,159.5 344.5,157.7 346.5,156.1 349.5,154.7ZM289.5,160.5 292.5,161.4 294.5,163.4 295.9,166.5 296.3,170.5 295.7,174.5 294.5,177.5 292.5,180 289.5,181.2 286.5,180.1 284.5,177.8 283.1,174.5 282.5,170.5 282.9,166.5 284.5,163.1 286.5,161.3ZM64.5,164.4 66.5,163.8 68.5,164 71.5,165.8 74.3,170.5 75.6,176.5 75.4,184.5 73.7,191.5 71.1,195.5 69.5,196.8 67.5,197.4 64.5,196.7 61.5,193.5 59.5,188.5 58.7,183.5 58.5,177.5 59.6,171.5 61.5,167.3ZM21.5,165.4 24.5,166.8 27.5,171.1 28.9,176.5 29.2,182.5 28.5,188.5 26.5,193.8 23.5,197 20.5,197.7 20.5,165.4ZM111.5,172 113.5,171.7 115.5,172.3 118.5,175.4 120.5,180.4 121.4,186.5 121.2,192.5 119.7,197.5 117.4,200.5 115.5,201.7 113.5,202.2 110.5,201.6 107.5,198.8 105.6,194.5 105,190.5 105.2,184.5 106.5,178.4 108.5,174.5ZM224.5,185.4 229.5,185.8 233.1,187.5 235.5,190.2 236.5,193.5 235.8,199.5 233.5,204.4 230.5,207.3 226.5,208.6 222.5,207.9 218.5,204.8 216.1,200.5 215.1,195.5 215.5,191.5 217.4,188.5 220.5,186.4ZM460.5,194.4 467.5,193.7 475.5,193.7 484.5,194.4 491.2,195.5 497.3,197.5 500.6,199.5 502.4,201.5 502.9,204.5 500.3,207.5 495.5,209.6 486.5,211.4 476.5,212.2 466.5,212.1 457.5,211.1 451.3,209.5 446.5,206.5 445.3,203.5 445.8,201.5 447.5,199.3 452.2,196.5ZM592.5,194.4 607.5,194.2 620.5,195.9 625.7,197.5 629.2,199.5 630.9,201.5 631.3,203.5 629.6,206.5 624.5,209.5 616.9,211.5 606.5,212.6 596.5,212.7 587.5,211.5 581.6,209.5 577.8,206.5 576.7,204.5 576.5,202.5 577.2,200.5 579.1,198.5 584.5,195.9ZM723.5,196.5 731.5,195.7 739.5,195.7 748.3,196.5 754.5,197.8 754.5,212 742.5,213.9 728.5,213.9 717.5,212 713.9,210.5 711.2,208.5 709.7,205.5 709.9,203.5 711.2,201.5 715.8,198.5ZM354.5,198.3 358.5,197.8 363.5,198.1 367.5,198.9 371.5,200.6 374.1,202.5 376.1,205.5 376.8,208.5 376,211.5 372.4,214.5 364.5,216.6 355.5,216.7 349.5,214.7 347.5,212.8 346.3,210.5 346.6,205.5 347.5,203.4 349.5,200.9Z"/>
<path fill="rgb(255,229,0)" d="M605.5,149.5 618.5,149.9 629.5,152.2 632.5,153.5 635.2,155.5 636.5,157.5 636.4,160.5 635.2,162.5 633,164.5 627.5,167 619.5,168.7 608.5,169.4 597.5,168.6 589.5,166.8 584.5,164.5 582.2,162.5 581,160.5 580.7,158.5 581.4,156.5 583.4,154.5 586.5,152.8 594.8,150.5ZM464.5,150.4 480.5,149.5 488.5,150.2 494.5,151.3 498.5,152.6 502.5,155.1 504.2,157.5 504.3,160.5 502.4,163.5 497.5,166.6 490.7,168.5 481.4,169.5 470.5,169.3 460.5,167.8 453.8,165.5 449.8,162.5 448.7,160.5 448.5,158.5 450.5,155.2 455.5,152.5ZM173.5,151.3 176.5,150.8 179.2,151.5 181.5,153.2 182.8,155.5 183.2,158.5 182.5,161.2 180.8,163.5 178.5,164.8 175.5,165.2 173,164.5 170.7,162.5 169.7,160.5 169.4,157.5 170.1,154.5 171.5,152.6ZM727.5,151.4 741.5,150.8 754.5,152.5 754.5,166.4 743.5,168.2 731.5,168 721.5,166.1 717.5,164.5 714.9,162.5 713.6,160.5 713.3,158.5 715.3,155.5 720.5,153ZM354.5,155.4 361.5,155.5 367.2,157.5 369.5,160.5 369.6,162.5 368.7,164.5 364.8,167.5 359.5,168.7 354.2,168.5 349.1,166.5 346.5,163.5 346.2,161.5 346.7,159.5 349.5,157ZM288.5,166.4 290.5,166.5 291.5,167.4 292.5,170.2 291.5,174.4 289.5,175.6 287.5,174.6 286.3,171.5 286.7,168.5ZM65.5,168.3 68.5,168.2 70.5,169.6 72.5,173.3 73.3,177.5 73.3,182.5 72.2,187.5 70.5,190.7 67.5,192.7 65.5,192.3 62.9,189.5 61.5,185.8 60.8,181.5 60.9,177.5 61.6,173.5 63.5,169.9ZM21.5,170.2 23.5,171.2 25.5,174.2 26.5,177.7 26.7,182.5 26.1,186.5 24.5,190.5 22.5,192.3 20.5,192.7 20.5,170.2ZM111.5,177.4 114.5,177.2 116.5,179 118.1,182.5 118.9,186.5 118.9,190.5 117.8,194.5 115.5,197.5 113.5,198.2 111.5,197.8 109.5,196.1 108.2,193.5 107.5,190.5 107.5,186.5 108.5,181.8 109.5,179.5ZM223.5,186.4 227.5,186.3 231.4,187.5 233.9,189.5 235.3,192.5 235.2,197.5 233.5,202.3 230.8,205.5 227.5,207 223.5,206.8 220.5,205.1 217.8,201.5 216.4,197.5 216.1,193.5 217.1,190.5 219.5,188ZM464.5,195.5 477.5,195.3 489.5,197.1 493.5,198.5 496.7,200.5 498.2,202.5 498.3,204.5 495.5,207.2 490.5,209.1 482.5,210.5 473.5,211 464.5,210.7 457.5,209.6 452,207.5 449.7,205.5 449.3,202.5 451.7,199.5 456.5,197.1ZM595.5,195.5 607.5,195.6 618.5,197.3 624.5,199.8 626.3,201.5 626.7,203.5 624.6,206.5 620.5,208.6 612.6,210.5 603.5,211.3 596.5,211.3 589.5,210.3 584.4,208.5 580.7,205.5 580,202.5 580.9,200.5 582.5,199 588.5,196.6ZM727.5,197.4 734.5,197 742.5,197.3 750.1,198.5 754.5,199.9 754.5,209.9 749.4,211.5 743.5,212.4 730.5,212.7 720.5,211 716.8,209.5 714.3,207.5 713.4,204.5 715.3,201.5 720.5,198.9ZM357.5,199.4 364.5,200 370.6,202.5 372.7,204.5 374,207.5 374.1,209.5 373.1,211.5 368.5,214.4 362.5,215.6 355.5,215.5 350.5,213.5 348.7,211.5 348,209.5 348.3,206.5 349,204.5 350.5,202.5 352.5,201Z"/>
<path fill="rgb(255,178,0)" d="M466.5,151.4 481.5,150.7 493.5,152.5 496.5,153.6 499.6,155.5 501.1,157.5 501.2,160.5 498.9,163.5 494.5,165.9 488.4,167.5 479.5,168.3 469.5,167.9 461.7,166.5 456.4,164.5 452.8,161.5 452,158.5 454,155.5 458.5,153.2ZM599.5,151.4 612.5,150.9 624.2,152.5 627.5,153.6 630.8,155.5 632.4,157.5 632.6,159.5 630.8,162.5 626.5,165.1 620.5,166.8 612.5,167.7 603.5,167.6 595.7,166.5 589.7,164.5 585.8,161.5 584.8,158.5 586.7,155.5 591.5,153.1ZM174.5,152.2 178.5,152.5 180.5,154 181.8,156.5 181.5,160.5 180,162.5 177.5,163.8 175.5,164 173.5,163.4 171.5,161.6 170.6,159.5 170.6,156.5 171.5,154.5ZM734.5,152.5 745.5,152.7 750.2,153.5 754.5,154.9 754.5,163.7 750.5,165.1 745.5,166.1 733.5,166.3 724.3,164.5 720.4,162.5 718.6,160.5 718.3,158.5 718.7,157.5 721,155.5 726.6,153.5ZM354.5,158.3 358.5,157.9 361.7,158.5 364.3,160.5 364.4,162.5 362.6,164.5 359.9,165.5 356.5,165.6 353.5,164.8 351.8,163.5 351.1,161.5 352.1,159.5ZM223.5,187.4 227.5,187.2 230.5,188.1 232.5,189.6 234.2,192.5 234,197.5 232.5,201.5 230.5,203.9 227.5,205.5 224.5,205.5 221.5,204 219.3,201.5 217.7,197.5 217.3,193.5 217.8,191.5 220.5,188.6ZM464.5,197.4 475.5,197.1 485.4,198.5 488.5,199.6 491.6,201.5 492.6,203.5 492.5,204.5 490.2,206.5 486.5,207.8 480.5,208.9 473.5,209.4 461.5,208.5 458,207.5 454.7,205.5 453.9,203.5 455.9,200.5 459.9,198.5ZM593.5,197.5 603.5,197.1 613.5,198.3 619.3,200.5 620.4,201.5 620.9,203.5 619.5,205.5 615.7,207.5 610.5,208.7 603.6,209.5 597.5,209.5 592.5,208.8 588.2,207.5 585.3,205.5 584.3,202.5 585.5,200.5 589.2,198.5ZM726.5,199.5 735.5,198.7 745.5,199.7 748.8,200.5 752.5,202.3 753.7,203.5 754.2,205.5 752.7,207.5 748.5,209.5 738.5,211.1 727,210.5 723.1,209.5 719.3,207.5 718,205.5 718.4,203.5 719.3,202.5 722.5,200.6ZM357.5,201.5 362.5,201.7 367.5,203.5 370.3,206.5 370.9,208.5 370.3,210.5 367.5,212.7 361.5,214.1 356.5,214.1 352.4,212.5 350.4,209.5 351.1,205.5 353.5,202.9Z"/>
<path fill="rgb(255,127,0)" d="M469.5,152.4 480.5,152 490.5,153.4 493.7,154.5 496.5,156.4 497.4,157.5 497.8,159.5 496,162.5 492.7,164.5 486.5,166.2 479.5,166.8 471.5,166.5 464.5,165.3 459.6,163.5 456.4,160.5 456.1,158.5 456.5,157.5 458.7,155.5 463.7,153.5ZM598.5,153.5 609.5,152.5 619.3,153.5 625.5,155.8 627.2,157.5 627.5,159.5 626.3,161.5 624.5,162.8 617.5,165.1 608.5,165.9 599.5,165 592.6,162.5 590.1,159.5 590.4,157.5 591.5,156.3 594.8,154.5ZM173.5,154.5 176.5,153.6 178.5,154.3 179.7,155.5 180.4,158.5 179.7,160.5 178.5,161.7 175.5,162.4 173.5,161.5 172.6,160.5 172,157.5ZM731.5,155.3 738.5,154.7 746.2,155.5 750.7,157.5 751.4,159.5 749.7,161.5 744.5,163.3 738.5,163.9 732.5,163.4 727.1,161.5 725.4,159.5 725.4,158.5 726.5,157.2ZM223.5,188.5 226.5,188.2 229.5,188.9 231.7,190.5 232.8,192.5 233,195.5 231.9,199.5 229.6,202.5 227.5,203.6 224.5,203.6 222.5,202.7 220.5,200.6 219.1,197.5 218.7,193.5 219.3,191.5 221.3,189.5ZM466.5,200.3 472.5,199.8 478.5,200.5 481.6,201.5 483.7,203.5 483.3,204.5 481.5,205.6 473.5,206.9 466,206.5 463,205.5 461.7,204.5 461.4,203.5 461.9,202.5 463.1,201.5ZM594.5,200.3 599.5,199.5 606.5,200.1 610.9,201.5 612,202.5 612,203.5 609.2,205.5 605.5,206.4 596.4,206.5 593.1,205.5 591,203.5 591,202.5 591.8,201.5ZM732.5,201.5 738,201.5 743.1,202.5 745.1,203.5 746,204.5 746,205.5 742.9,207.5 735.5,208.5 728.5,207.7 726.1,206.5 725.3,205.5 725.3,204.5 726.5,203.2ZM356.5,205.1 359.5,204.6 363.2,205.5 365.4,207.5 365.6,209.5 364.7,210.5 362.5,211.5 358.5,211.9 356.3,211.5 354.7,210.5 353.9,208.5 354.7,206.5Z"/>
<path fill="rgb(255,76,0)" d="M469.5,154.3 478.5,153.6 486.5,154.5 491.6,156.5 492.6,157.5 493.1,159.5 491.9,161.5 488.5,163.4 484.4,164.5 479.5,165 472.5,164.7 467.5,163.7 464.3,162.5 461.8,160.5 461.3,158.5 463.1,156.5ZM604.5,155.5 610.5,155.2 615.5,155.9 619,157.5 619.7,158.5 619.6,159.5 618.5,160.7 615.5,162 608.5,162.9 601.5,161.8 599,160.5 598.2,159.5 598.1,158.5 598.8,157.5 600.5,156.5ZM222.5,190.5 225.5,189.6 227.5,189.7 229.5,190.6 231.1,192.5 231.4,194.5 230.5,198.1 229.5,199.7 227.5,201.2 224.5,201.2 221.5,198.5 220.5,195.6 220.4,193.5 221.3,191.5Z"/>
<path fill="rgb(255,25,0)" d="M472.5,157.4 476.5,156.6 480.5,156.7 483.6,157.5 484.9,158.5 484.9,159.5 483.9,160.5 481,161.5 475,161.5 471.7,160.5 470.6,159.5 470.6,158.5ZM224.5,192.4 226.5,192.1 227.6,192.5 228.3,193.5 228.1,195.5 226.5,197.3 224.5,196.7 223.7,195.5 223.5,193.5Z"/></g><line x1="92.7" y1="146" x2="277" y2="214" stroke="#1a1a3a" stroke-width="0.8"/><line x1="161.6" y1="144.5" x2="383" y2="223.6" stroke="#1a1a3a" stroke-width="0.8"/></g><rect x="21" y="138" width="733.5" height="89" fill="none" stroke="#0000b4" stroke-width="1"/>
<text x="371.5" y="250.3" font-size="16.0" text-anchor="start" font-weight="bold" fill="#111">(b)</text>
<clipPath id="cc"><rect x="65.6" y="300" width="270" height="216.5"/></clipPath><path d="M65.5,469.1 C71.7,467.1 90.4,460.5 102.9,457.1 C115.4,453.7 130.9,450.8 140.4,448.9 C149.9,447.0 153.7,446.1 160.0,445.5 C166.3,444.9 171.6,444.2 178.3,445.0 C185.0,445.8 193.8,448.0 200.0,450.0 C206.2,452.0 211.0,454.5 215.5,457.2 C220.0,459.9 224.1,463.2 227.0,466.0 C229.9,468.8 230.8,469.7 233.0,474.0 C235.2,478.3 237.3,484.0 240.0,492.0 C242.7,500.0 247.5,517.0 249.0,522.0" fill="none" stroke="#d7a21e" stroke-width="1.6" stroke-linejoin="round" clip-path="url(#cc)"/><path d="M260.0,522.0 C260.5,519.2 261.2,511.2 263.0,505.0 C264.8,498.8 267.7,493.1 270.7,484.8 C273.7,476.5 277.6,463.9 281.0,455.0 C284.4,446.1 288.4,436.9 291.0,431.1 C293.6,425.3 294.5,423.5 296.3,420.0 C298.1,416.5 299.9,412.1 301.6,410.2 C303.4,408.2 304.0,408.5 306.8,408.3 C309.6,408.1 316.6,408.8 318.6,408.9" fill="none" stroke="#d7a21e" stroke-width="1.6" stroke-linejoin="round" clip-path="url(#cc)"/><path d="M65.5,434.2 C71.7,432.4 90.4,426.6 102.9,423.1 C115.4,419.6 130.1,415.4 140.4,413.0 C150.8,410.6 158.7,409.3 165.0,408.6 C171.3,407.9 172.5,408.3 178.3,409.0 C184.1,409.7 193.8,411.1 200.0,413.0 C206.2,414.9 209.8,415.9 215.5,420.3 C221.2,424.7 227.9,429.8 234.2,439.4 C240.5,449.0 249.2,467.0 253.3,477.9 C257.4,488.8 257.2,497.6 258.5,505.0 C259.8,512.4 260.6,519.2 261.0,522.0" fill="none" stroke="#7a10f5" stroke-width="1.6" stroke-linejoin="round" clip-path="url(#cc)"/><path d="M262.0,522.0 C262.4,519.2 262.7,515.5 264.5,505.0 C266.3,494.5 269.7,473.2 272.6,459.0 C275.5,444.8 278.8,430.4 281.9,420.0 C285.0,409.6 288.5,403.1 291.1,396.5 C293.7,389.9 295.4,384.5 297.6,380.7 C299.8,376.9 302.2,374.8 304.2,373.5 C306.2,372.2 307.0,373.0 309.4,373.1 C311.8,373.2 317.1,373.8 318.6,373.9" fill="none" stroke="#7a10f5" stroke-width="1.6" stroke-linejoin="round" clip-path="url(#cc)"/><path d="M65.5,428.0 C71.7,430.6 92.2,437.6 102.9,443.3 C113.7,449.0 123.8,457.6 130.0,462.0 C136.2,466.4 137.1,468.0 140.4,469.7 C143.7,471.4 146.7,472.1 150.0,472.0 C153.3,471.9 155.3,472.7 160.0,469.0 C164.7,465.3 169.1,459.3 178.3,449.8 C187.6,440.3 203.0,423.4 215.5,411.8 C228.0,400.2 240.7,388.8 253.3,380.1 C265.9,371.4 283.9,363.0 291.1,359.5 C298.3,356.0 294.6,359.8 296.3,359.3 C298.1,358.8 299.4,358.2 301.6,356.5 C303.8,354.8 306.6,351.5 309.4,349.3 C312.2,347.1 317.1,344.4 318.6,343.4" fill="none" stroke="#ef3b3f" stroke-width="1.6" stroke-linejoin="round" clip-path="url(#cc)"/><path d="M65.5,319.9 C71.7,319.9 90.4,320.0 102.9,320.2 C115.4,320.4 127.8,320.7 140.4,321.0 C153.0,321.3 165.8,321.6 178.3,322.0 C190.8,322.4 203.0,322.7 215.5,323.3 C228.0,323.9 240.7,324.1 253.3,325.8 C265.9,327.6 283.9,332.0 291.1,333.8 C298.3,335.6 294.3,335.3 296.3,336.9 C298.3,338.5 300.7,341.1 302.9,343.4 C305.1,345.7 306.8,348.1 309.4,350.6 C312.0,353.1 317.1,357.2 318.6,358.5" fill="none" stroke="#a80fd3" stroke-width="1.6" stroke-linejoin="round" clip-path="url(#cc)"/><clipPath id="ccm"><rect x="65.6" y="300" width="253.8" height="216.5"/></clipPath><g clip-path="url(#ccm)"><rect x="63.0" y="317.4" width="5.0" height="5.0" fill="#a80fd3"/><rect x="100.4" y="317.7" width="5.0" height="5.0" fill="#a80fd3"/><rect x="137.9" y="318.5" width="5.0" height="5.0" fill="#a80fd3"/><rect x="175.8" y="319.5" width="5.0" height="5.0" fill="#a80fd3"/><rect x="213.0" y="320.8" width="5.0" height="5.0" fill="#a80fd3"/><rect x="250.8" y="323.3" width="5.0" height="5.0" fill="#a80fd3"/><rect x="288.5" y="331.1" width="5.0" height="5.0" fill="#a80fd3"/><rect x="316.1" y="355.7" width="5.0" height="5.0" fill="#a80fd3"/><rect x="63.0" y="425.5" width="5.0" height="5.0" fill="#ef3b3f"/><rect x="100.4" y="440.8" width="5.0" height="5.0" fill="#ef3b3f"/><rect x="137.9" y="467.2" width="5.0" height="5.0" fill="#ef3b3f"/><rect x="175.8" y="447.3" width="5.0" height="5.0" fill="#ef3b3f"/><rect x="213.0" y="409.3" width="5.0" height="5.0" fill="#ef3b3f"/><rect x="250.8" y="377.7" width="5.0" height="5.0" fill="#ef3b3f"/><rect x="288.5" y="357.0" width="5.0" height="5.0" fill="#ef3b3f"/><rect x="316.1" y="340.9" width="5.0" height="5.0" fill="#ef3b3f"/><path d="M65.5,430.7 L68.7,436.5 L62.3,436.5 Z" fill="#7a10f5"/><path d="M102.9,419.6 L106.1,425.4 L99.7,425.4 Z" fill="#7a10f5"/><path d="M140.4,409.5 L143.6,415.3 L137.2,415.3 Z" fill="#7a10f5"/><path d="M178.3,405.5 L181.5,411.3 L175.1,411.3 Z" fill="#7a10f5"/><path d="M215.5,416.8 L218.7,422.6 L212.3,422.6 Z" fill="#7a10f5"/><path d="M253.3,474.4 L256.5,480.2 L250.1,480.2 Z" fill="#7a10f5"/><path d="M291.0,393.1 L294.2,398.9 L287.8,398.9 Z" fill="#7a10f5"/><path d="M318.6,370.0 L321.8,375.8 L315.4,375.8 Z" fill="#7a10f5"/><path d="M65.5,465.6 L68.7,471.4 L62.3,471.4 Z" fill="#d7a21e"/><path d="M102.9,453.6 L106.1,459.4 L99.7,459.4 Z" fill="#d7a21e"/><path d="M140.4,445.4 L143.6,451.2 L137.2,451.2 Z" fill="#d7a21e"/><path d="M178.3,441.5 L181.5,447.3 L175.1,447.3 Z" fill="#d7a21e"/><path d="M215.5,453.7 L218.7,459.5 L212.3,459.5 Z" fill="#d7a21e"/><path d="M291.0,427.6 L294.2,433.4 L287.8,433.4 Z" fill="#d7a21e"/><path d="M318.6,405.4 L321.8,411.2 L315.4,411.2 Z" fill="#d7a21e"/></g><g stroke="#2a2a2a" stroke-width="1.4" fill="none"><path d="M65.6,311.0 V516.5 H319.4"/><path d="M65.6,516.5 v3.2"/><path d="M150.2,516.5 v3.2"/><path d="M234.8,516.5 v3.2"/><path d="M319.4,516.5 v3.2"/><path d="M107.9,516.5 v2"/><path d="M192.5,516.5 v2"/><path d="M277.1,516.5 v2"/><path d="M65.6,311.0 h-3.5"/><path d="M65.6,362.4 h-3.5"/><path d="M65.6,413.8 h-3.5"/><path d="M65.6,465.1 h-3.5"/><path d="M65.6,516.5 h-3.5"/><path d="M65.6,336.7 h-2"/><path d="M65.6,388.1 h-2"/><path d="M65.6,439.4 h-2"/><path d="M65.6,490.8 h-2"/></g><text x="65.6" y="532.6" font-size="13.5" text-anchor="middle" fill="#222">7.5</text><text x="150.2" y="532.6" font-size="13.5" text-anchor="middle" fill="#222">8.0</text><text x="234.8" y="532.6" font-size="13.5" text-anchor="middle" fill="#222">8.5</text><text x="319.4" y="532.6" font-size="13.5" text-anchor="middle" fill="#222">9.0</text><text x="60.6" y="316.8" font-size="13.5" text-anchor="end" fill="#222">0</text><text x="60.6" y="368.7" font-size="13.5" text-anchor="end" fill="#222">-10</text><text x="60.6" y="419.4" font-size="13.5" text-anchor="end" fill="#222">-20</text><text x="60.6" y="469.9" font-size="13.5" text-anchor="end" fill="#222">-30</text><text x="60.6" y="516.9" font-size="13.5" text-anchor="end" fill="#222">-40</text><rect x="295.5" y="454.0" width="77.0" height="59.0" fill="#fff" stroke="#5a5a5a" stroke-width="1"/><line x1="296.0" y1="460.8" x2="326.0" y2="460.8" stroke="#ef3b3f" stroke-width="1.9"/><rect x="308.5" y="458.0" width="5.6" height="5.6" fill="#ef3b3f"/><text x="329.0" y="465.1" font-size="12.2" text-anchor="start" fill="#222">R-TE10</text><line x1="296.0" y1="476.2" x2="326.0" y2="476.2" stroke="#a80fd3" stroke-width="1.9"/><rect x="308.5" y="473.4" width="5.6" height="5.6" fill="#a80fd3"/><text x="329.0" y="480.5" font-size="12.2" text-anchor="start" fill="#222">T-TE10</text><line x1="296.0" y1="491.5" x2="326.0" y2="491.5" stroke="#d7a21e" stroke-width="1.9"/><path d="M311.3,487.7 L314.8,494.0 L307.8,494.0 Z" fill="#d7a21e"/><text x="329.0" y="495.8" font-size="12.2" text-anchor="start" fill="#222">R-TE20</text><line x1="296.0" y1="507.0" x2="326.0" y2="507.0" stroke="#7a10f5" stroke-width="1.9"/><path d="M311.3,503.2 L314.8,509.5 L307.8,509.5 Z" fill="#7a10f5"/><text x="329.0" y="511.3" font-size="12.2" text-anchor="start" fill="#222">T-TE20</text><text x="194.1" y="551.7" font-size="13.5" text-anchor="middle" font-weight="bold" fill="#111">Frequency (GHz)</text><text transform="translate(37,419.2) rotate(-90)" font-size="14" font-weight="bold" text-anchor="middle" fill="#111">S Paramerers (dB)</text><text x="17.9" y="296.4" font-size="16.0" text-anchor="start" font-weight="bold" fill="#111">(c)</text>
<path d="M438.0,504.0 C438.9,503.4 439.3,500.9 443.3,500.1 C447.3,499.4 457.5,499.2 461.9,499.5 C466.3,499.8 467.7,500.9 469.9,501.8 C472.1,502.8 473.6,504.4 475.2,505.2 C476.8,506.0 477.5,506.7 479.7,506.6 C481.9,506.5 484.9,505.2 488.5,504.5 C492.1,503.8 497.1,503.2 501.0,502.2 C504.9,501.2 508.3,499.4 512.1,498.6 C515.9,497.8 519.4,497.1 524.0,497.2 C528.6,497.3 535.6,498.8 540.0,499.5 C544.4,500.2 547.3,501.0 550.6,501.3 C553.9,501.6 557.0,501.0 560.0,501.3 C563.0,501.6 566.2,503.2 568.9,503.1 C571.6,503.0 573.6,501.2 576.0,500.8 C578.4,500.4 581.2,500.6 583.1,500.4 C585.0,500.2 586.0,499.6 587.5,499.5 C589.0,499.4 590.6,500.5 591.9,500.1 C593.2,499.7 594.5,497.6 595.5,497.2 C596.5,496.8 596.8,497.0 598.1,497.8 C599.4,498.6 602.0,501.2 603.5,501.8 C605.0,502.4 605.7,502.1 607.0,501.3 C608.3,500.5 609.5,497.7 611.4,497.2 C613.3,496.7 616.1,497.8 618.5,498.3 C620.9,498.8 623.4,500.1 625.6,500.4 C627.8,500.7 629.4,499.9 631.8,500.1 C634.2,500.3 636.5,501.2 639.8,501.8 C643.1,502.4 648.6,503.8 651.4,503.6 C654.2,503.4 654.8,501.0 656.7,500.4 C658.6,499.8 660.7,500.0 662.9,500.1 C665.1,500.2 667.5,500.3 670.0,500.8 C672.5,501.3 675.6,503.3 678.0,503.1 C680.4,502.9 682.0,500.4 684.2,499.5 C686.4,498.6 690.1,498.1 691.3,497.8" fill="none" stroke="#d7a21e" stroke-width="1.7" stroke-linejoin="round"/><path d="M437.9,355.4 C439.9,357.3 443.8,362.2 450.0,367.0 C456.2,371.8 464.7,378.5 475.1,384.2 C485.6,389.9 500.2,396.0 512.7,401.2 C525.2,406.4 537.6,411.0 550.1,415.3 C562.6,419.6 575.4,422.5 588.0,426.8 C600.6,431.1 613.1,435.6 625.6,441.0 C638.1,446.4 652.1,453.6 663.0,458.9 C673.9,464.2 686.1,470.6 690.7,472.9" fill="none" stroke="#ef3b3f" stroke-width="1.6" stroke-linejoin="round"/><path d="M437.9,440.5 C439.2,438.6 443.0,432.2 446.0,429.0 C449.0,425.8 451.1,423.7 456.0,421.0 C460.9,418.3 465.7,416.7 475.1,412.7 C484.6,408.7 500.2,401.7 512.7,397.2 C525.2,392.7 537.6,389.4 550.1,385.8 C562.6,382.2 575.4,378.7 587.9,375.3 C600.4,371.9 612.7,368.6 625.2,365.6 C637.7,362.6 652.1,359.6 663.0,357.4 C673.9,355.2 685.8,353.4 690.3,352.6" fill="none" stroke="#a80fd3" stroke-width="1.6" stroke-linejoin="round"/><path d="M437.9,328.6 C439.9,327.9 443.8,325.5 450.0,324.5 C456.2,323.5 464.7,323.1 475.1,322.6 C485.6,322.1 500.2,321.8 512.7,321.6 C525.2,321.5 537.6,321.6 550.1,321.7 C562.6,321.8 575.4,322.1 587.9,322.5 C600.4,322.9 612.7,323.3 625.2,323.8 C637.7,324.3 652.1,325.1 663.0,325.7 C673.9,326.3 685.8,327.0 690.3,327.3" fill="none" stroke="#7a10f5" stroke-width="1.6" stroke-linejoin="round"/><clipPath id="cdm"><rect x="437.9" y="300" width="252.6" height="216.0"/></clipPath><g clip-path="url(#cdm)"><path d="M437.9,325.1 L441.1,330.9 L434.7,330.9 Z" fill="#7a10f5"/><path d="M475.1,319.1 L478.3,324.9 L471.9,324.9 Z" fill="#7a10f5"/><path d="M512.7,318.1 L515.9,323.9 L509.5,323.9 Z" fill="#7a10f5"/><path d="M550.1,318.2 L553.3,324.0 L546.9,324.0 Z" fill="#7a10f5"/><path d="M587.9,319.0 L591.1,324.8 L584.7,324.8 Z" fill="#7a10f5"/><path d="M625.2,320.3 L628.4,326.1 L622.0,326.1 Z" fill="#7a10f5"/><path d="M663.0,322.2 L666.2,328.0 L659.8,328.0 Z" fill="#7a10f5"/><path d="M690.3,323.8 L693.5,329.6 L687.1,329.6 Z" fill="#7a10f5"/><rect x="435.4" y="438.0" width="5.0" height="5.0" fill="#a80fd3"/><rect x="472.6" y="410.2" width="5.0" height="5.0" fill="#a80fd3"/><rect x="510.2" y="394.7" width="5.0" height="5.0" fill="#a80fd3"/><rect x="547.6" y="383.3" width="5.0" height="5.0" fill="#a80fd3"/><rect x="585.4" y="372.8" width="5.0" height="5.0" fill="#a80fd3"/><rect x="622.7" y="363.1" width="5.0" height="5.0" fill="#a80fd3"/><rect x="660.5" y="354.9" width="5.0" height="5.0" fill="#a80fd3"/><rect x="687.8" y="350.1" width="5.0" height="5.0" fill="#a80fd3"/><rect x="435.4" y="352.9" width="5.0" height="5.0" fill="#ef3b3f"/><rect x="472.6" y="381.7" width="5.0" height="5.0" fill="#ef3b3f"/><rect x="510.2" y="398.7" width="5.0" height="5.0" fill="#ef3b3f"/><rect x="547.6" y="412.8" width="5.0" height="5.0" fill="#ef3b3f"/><rect x="585.5" y="424.3" width="5.0" height="5.0" fill="#ef3b3f"/><rect x="623.1" y="438.5" width="5.0" height="5.0" fill="#ef3b3f"/><rect x="660.5" y="456.4" width="5.0" height="5.0" fill="#ef3b3f"/><rect x="688.2" y="470.4" width="5.0" height="5.0" fill="#ef3b3f"/><path d="M437.9,500.5 L441.1,506.3 L434.7,506.3 Z" fill="#d7a21e"/><path d="M475.2,501.7 L478.4,507.5 L472.0,507.5 Z" fill="#d7a21e"/><path d="M512.1,495.1 L515.3,500.9 L508.9,500.9 Z" fill="#d7a21e"/><path d="M550.6,497.8 L553.8,503.6 L547.4,503.6 Z" fill="#d7a21e"/><path d="M587.5,496.0 L590.7,501.8 L584.3,501.8 Z" fill="#d7a21e"/><path d="M625.6,496.9 L628.8,502.7 L622.4,502.7 Z" fill="#d7a21e"/><path d="M662.9,496.6 L666.1,502.4 L659.7,502.4 Z" fill="#d7a21e"/><path d="M691.3,494.3 L694.5,500.1 L688.1,500.1 Z" fill="#d7a21e"/></g><g stroke="#2a2a2a" stroke-width="1.4" fill="none"><path d="M437.9,311.6 V516.0 H690.5"/><path d="M437.9,516.0 v3.2"/><path d="M522.1,516.0 v3.2"/><path d="M606.3,516.0 v3.2"/><path d="M690.5,516.0 v3.2"/><path d="M480.0,516.0 v2"/><path d="M564.2,516.0 v2"/><path d="M648.4,516.0 v2"/><path d="M437.9,311.6 h-3.5"/><path d="M437.9,362.7 h-3.5"/><path d="M437.9,413.8 h-3.5"/><path d="M437.9,464.9 h-3.5"/><path d="M437.9,516.0 h-3.5"/><path d="M437.9,337.2 h-2"/><path d="M437.9,388.2 h-2"/><path d="M437.9,439.4 h-2"/><path d="M437.9,490.4 h-2"/></g><text x="437.9" y="535.2" font-size="13.5" text-anchor="middle" fill="#222">7.5</text><text x="522.1" y="535.2" font-size="13.5" text-anchor="middle" fill="#222">8.0</text><text x="606.3" y="535.2" font-size="13.5" text-anchor="middle" fill="#222">8.5</text><text x="690.5" y="535.2" font-size="13.5" text-anchor="middle" fill="#222">9.0</text><text x="433.0" y="316.4" font-size="13.5" text-anchor="end" fill="#222">0</text><text x="433.0" y="367.5" font-size="13.5" text-anchor="end" fill="#222">-10</text><text x="433.0" y="418.6" font-size="13.5" text-anchor="end" fill="#222">-20</text><text x="433.0" y="468.3" font-size="13.5" text-anchor="end" fill="#222">-30</text><text x="433.0" y="517.3" font-size="13.5" text-anchor="end" fill="#222">-40</text><rect x="639.3" y="379.5" width="76.9" height="59.1" fill="#fff" stroke="#5a5a5a" stroke-width="1"/><line x1="640.0" y1="386.6" x2="670.0" y2="386.6" stroke="#ef3b3f" stroke-width="1.9"/><rect x="651.9" y="383.8" width="5.6" height="5.6" fill="#ef3b3f"/><text x="672.4" y="390.9" font-size="12.2" text-anchor="start" fill="#222">R-TE10</text><line x1="640.0" y1="401.5" x2="670.0" y2="401.5" stroke="#a80fd3" stroke-width="1.9"/><rect x="651.9" y="398.7" width="5.6" height="5.6" fill="#a80fd3"/><text x="672.4" y="405.8" font-size="12.2" text-anchor="start" fill="#222">T-TE10</text><line x1="640.0" y1="417.3" x2="670.0" y2="417.3" stroke="#d7a21e" stroke-width="1.9"/><path d="M654.7,413.5 L658.2,419.8 L651.2,419.8 Z" fill="#d7a21e"/><text x="672.4" y="421.6" font-size="12.2" text-anchor="start" fill="#222">R-TE20</text><line x1="640.0" y1="432.7" x2="670.0" y2="432.7" stroke="#7a10f5" stroke-width="1.9"/><path d="M654.7,428.9 L658.2,435.2 L651.2,435.2 Z" fill="#7a10f5"/><text x="672.4" y="437.0" font-size="12.2" text-anchor="start" fill="#222">T-TE20</text><text x="566.7" y="551.4" font-size="13.5" text-anchor="middle" font-weight="bold" fill="#111">Frequency (GHz)</text><text transform="translate(409.6,407.2) rotate(-90)" font-size="13.6" font-weight="bold" text-anchor="middle" fill="#111">S Paramerers (dB)</text><text x="390.0" y="291.3" font-size="16.0" text-anchor="start" font-weight="bold" fill="#111">(d)</text>
<path d="M80.4,617.8 C85.3,618.2 99.0,619.5 110.0,620.5 C121.0,621.5 134.6,622.4 146.3,623.7 C158.0,625.0 171.4,627.1 180.0,628.5 C188.6,629.9 191.8,630.7 197.6,632.0 C203.4,633.3 209.3,634.8 215.0,636.5 C220.7,638.2 226.7,640.5 231.7,642.5 C236.7,644.5 241.0,646.5 245.0,648.3 C249.0,650.1 250.9,650.5 255.7,653.5 C260.5,656.5 267.7,661.3 273.6,666.4 C279.6,671.5 286.6,678.9 291.4,684.3 C296.1,689.7 299.1,693.5 302.1,698.6 C305.1,703.7 307.2,709.6 309.3,714.6 C311.4,719.6 312.8,724.4 314.6,728.9 C316.4,733.4 317.9,737.5 320.0,741.4 C322.1,745.3 324.8,748.8 327.1,752.1 C329.4,755.4 332.5,759.8 333.6,761.3" fill="none" stroke="#454545" stroke-width="1.9" stroke-linejoin="round"/><path d="M80.4,674.5 C81.0,672.8 82.4,667.1 84.0,664.0 C85.6,660.9 87.3,658.6 90.0,656.0 C92.7,653.4 96.3,650.8 100.0,648.5 C103.7,646.2 107.3,644.4 112.2,642.5 C117.1,640.6 122.9,638.6 129.2,637.3 C135.5,636.0 143.2,635.2 150.0,634.5 C156.8,633.8 163.5,633.3 170.2,633.2 C176.9,633.1 183.7,633.4 190.0,633.8 C196.3,634.2 201.1,634.7 207.8,635.6 C214.5,636.5 223.2,637.8 230.0,639.2 C236.8,640.6 242.1,642.3 248.8,644.0 C255.5,645.7 263.2,647.7 270.0,649.5 C276.8,651.3 283.1,653.2 289.8,655.0 C296.5,656.8 302.7,658.4 310.0,660.5 C317.3,662.6 329.7,666.4 333.6,667.6" fill="none" stroke="#ea3a42" stroke-width="1.9" stroke-linejoin="round"/><g stroke="#2a2a2a" stroke-width="1.4" fill="none"><path d="M80.4,587.9 V792.3 H333.9"/><path d="M80.4,792.3 v3.2"/><path d="M164.9,792.3 v3.2"/><path d="M249.4,792.3 v3.2"/><path d="M333.9,792.3 v3.2"/><path d="M122.7,792.3 v2"/><path d="M207.1,792.3 v2"/><path d="M291.6,792.3 v2"/><path d="M80.4,792.3 h-3.5"/><path d="M80.4,741.2 h-3.5"/><path d="M80.4,690.1 h-3.5"/><path d="M80.4,639.0 h-3.5"/><path d="M80.4,587.9 h-3.5"/><path d="M80.4,766.8 h-2"/><path d="M80.4,715.6 h-2"/><path d="M80.4,664.5 h-2"/><path d="M80.4,613.5 h-2"/></g><text x="80.4" y="810.2" font-size="13.5" text-anchor="middle" fill="#222">7.5</text><text x="164.9" y="810.2" font-size="13.5" text-anchor="middle" fill="#222">8.0</text><text x="249.4" y="810.2" font-size="13.5" text-anchor="middle" fill="#222">8.5</text><text x="333.9" y="810.2" font-size="13.5" text-anchor="middle" fill="#222">9.0</text><text x="73.8" y="795.7" font-size="13.5" text-anchor="end" fill="#222">0</text><text x="73.8" y="745.8" font-size="13.5" text-anchor="end" fill="#222">20</text><text x="73.8" y="694.6" font-size="13.5" text-anchor="end" fill="#222">40</text><text x="73.8" y="644.4" font-size="13.5" text-anchor="end" fill="#222">60</text><text x="73.8" y="593.8" font-size="13.5" text-anchor="end" fill="#222">80</text><rect x="261.2" y="593.2" width="62.5" height="33.1" fill="#fff" stroke="#b0b0b0" stroke-width="1"/><line x1="262.2" y1="601.9" x2="291.3" y2="601.9" stroke="#454545" stroke-width="1.9"/><line x1="262.2" y1="618" x2="291.3" y2="618" stroke="#ea3a42" stroke-width="1.9"/><text x="294.8" y="606.2" font-size="12.4" text-anchor="start" fill="#222">TE10</text><text x="294.8" y="622.3" font-size="12.4" text-anchor="start" fill="#222">TE20</text><text x="203.9" y="828.9" font-size="13.5" text-anchor="middle" font-weight="bold" fill="#111">Frequency (GHz)</text><text transform="translate(42.5,690.5) rotate(-90)" font-size="13.8" font-weight="bold" text-anchor="middle" fill="#111">Transmission efficiency (%)</text><text x="18.0" y="581.4" font-size="16.0" text-anchor="start" font-weight="bold" fill="#111">(e)</text>
<path d="M452.5,589.2 C458.8,589.4 479.0,589.8 490.0,590.2 C501.0,590.6 507.7,591.0 518.6,591.4 C529.5,591.8 544.3,592.8 555.4,592.9 C566.5,593.0 575.9,592.5 585.0,592.0 C594.1,591.5 601.7,590.6 610.0,590.0 C618.3,589.4 626.6,588.8 634.6,588.6 C642.6,588.4 652.6,588.2 657.9,588.6 C663.2,589.0 663.6,589.4 666.2,590.7 C668.8,592.1 671.1,594.1 673.3,596.7 C675.5,599.3 677.5,602.6 679.3,606.2 C681.1,609.8 682.6,613.9 684.0,618.1 C685.4,622.3 686.4,627.0 687.6,631.2 C688.8,635.4 689.8,639.9 691.2,643.1 C692.6,646.3 694.2,647.6 696.0,650.2 C697.8,652.8 700.2,656.1 701.9,658.6 C703.6,661.1 705.4,664.0 706.1,665.1" fill="none" stroke="#454545" stroke-width="1.9" stroke-linejoin="round"/><path d="M452.5,589.2 C455.8,589.2 465.5,589.3 472.0,589.5 C478.5,589.7 485.0,590.0 491.5,590.4 C498.0,590.7 504.5,591.2 511.0,591.8 C517.5,592.4 524.0,593.1 530.5,593.8 C537.0,594.6 543.5,595.5 550.0,596.4 C556.5,597.4 563.0,598.5 569.5,599.6 C576.0,600.8 582.6,602.0 589.1,603.4 C595.6,604.7 602.1,606.2 608.6,607.7 C615.1,609.3 621.6,610.9 628.1,612.6 C634.6,614.4 641.1,616.2 647.6,618.1 C654.1,620.0 660.6,622.1 667.1,624.2 C673.6,626.3 680.1,628.5 686.6,630.8 C693.1,633.2 702.8,636.9 706.1,638.1" fill="none" stroke="#ea3a42" stroke-width="1.9" stroke-linejoin="round"/><g stroke="#2a2a2a" stroke-width="1.4" fill="none"><path d="M452.0,588.4 V792.3 H706.3"/><path d="M452.0,792.3 v3.2"/><path d="M536.8,792.3 v3.2"/><path d="M621.5,792.3 v3.2"/><path d="M706.3,792.3 v3.2"/><path d="M494.4,792.3 v2"/><path d="M579.1,792.3 v2"/><path d="M663.9,792.3 v2"/><path d="M452.0,792.3 h-3.5"/><path d="M452.0,751.5 h-3.5"/><path d="M452.0,710.7 h-3.5"/><path d="M452.0,670.0 h-3.5"/><path d="M452.0,629.2 h-3.5"/><path d="M452.0,588.4 h-3.5"/><path d="M452.0,771.9 h-2"/><path d="M452.0,731.1 h-2"/><path d="M452.0,690.3 h-2"/><path d="M452.0,649.6 h-2"/><path d="M452.0,608.8 h-2"/></g><text x="452.0" y="810.0" font-size="13.5" text-anchor="middle" fill="#222">7.5</text><text x="536.8" y="810.0" font-size="13.5" text-anchor="middle" fill="#222">8.0</text><text x="621.5" y="810.0" font-size="13.5" text-anchor="middle" fill="#222">8.5</text><text x="706.3" y="810.0" font-size="13.5" text-anchor="middle" fill="#222">9.0</text><text x="445.0" y="795.7" font-size="13.5" text-anchor="end" fill="#222">0</text><text x="445.0" y="756.3" font-size="13.5" text-anchor="end" fill="#222">20</text><text x="445.0" y="715.6" font-size="13.5" text-anchor="end" fill="#222">40</text><text x="445.0" y="675.1" font-size="13.5" text-anchor="end" fill="#222">60</text><text x="445.0" y="634.4" font-size="13.5" text-anchor="end" fill="#222">80</text><text x="445.0" y="595.1" font-size="13.5" text-anchor="end" fill="#222">100</text><rect x="617.2" y="716.4" width="62.6" height="33" fill="#fff" stroke="#b0b0b0" stroke-width="1"/><line x1="617.8" y1="725.2" x2="647.3" y2="725.2" stroke="#454545" stroke-width="1.9"/><line x1="617.8" y1="740.4" x2="647.3" y2="740.4" stroke="#ea3a42" stroke-width="1.9"/><text x="650.8" y="729.5" font-size="12.4" text-anchor="start" fill="#222">TE10</text><text x="650.8" y="744.7" font-size="12.4" text-anchor="start" fill="#222">TE20</text><text x="579.2" y="831.1" font-size="13.5" text-anchor="middle" font-weight="bold" fill="#111">Frequency (GHz)</text><text transform="translate(414.8,679) rotate(-90)" font-size="13.5" font-weight="bold" text-anchor="middle" fill="#111">Mode purity (%)</text><text x="390.0" y="581.4" font-size="16.0" text-anchor="start" font-weight="bold" fill="#111">(f)</text></svg>
</body></html>
